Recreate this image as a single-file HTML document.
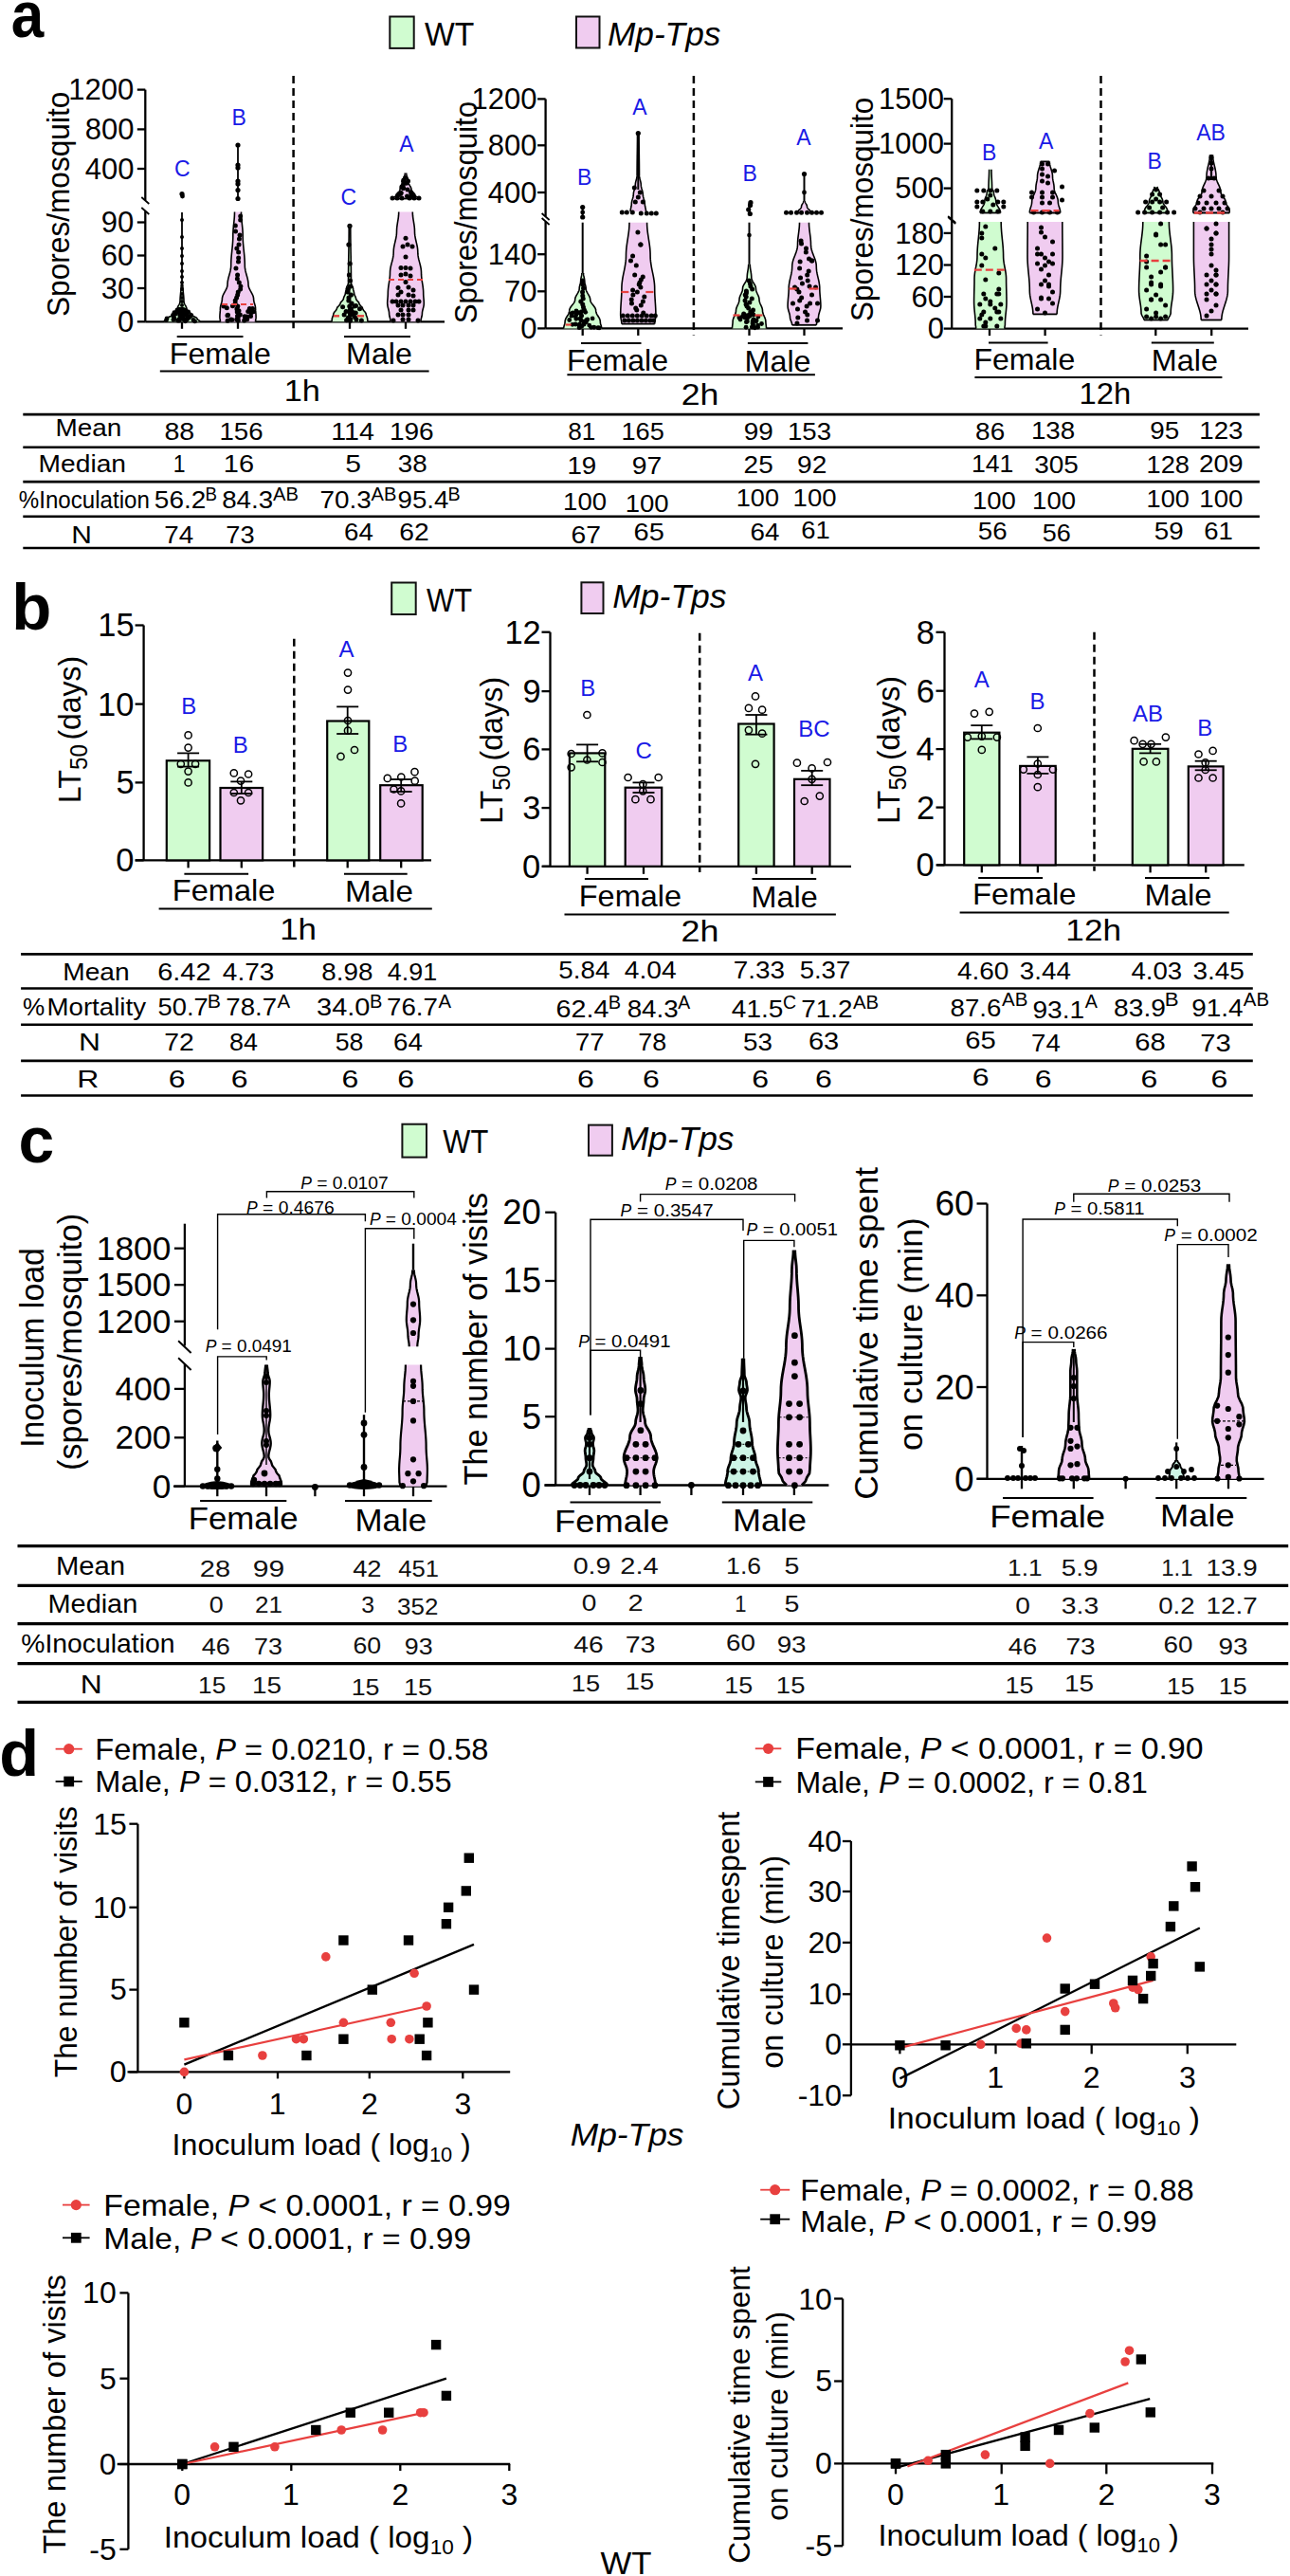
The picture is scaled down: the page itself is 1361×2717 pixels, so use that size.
<!DOCTYPE html>
<html><head><meta charset="utf-8"><style>
html,body{margin:0;padding:0;background:#fff;}
svg{display:block;}
text{font-family:"Liberation Sans", sans-serif;}
</style></head><body>
<svg width="1361" height="2717" viewBox="0 0 1361 2717" font-family='"Liberation Sans", sans-serif'>
<rect x="0" y="0" width="1361" height="2717" fill="#fff"/>
<text x="11.74" y="38.80" font-size="68.50" font-weight="bold" font-style="normal" fill="#000" textLength="34.51" lengthAdjust="spacingAndGlyphs">a</text>
<rect x="411.30" y="17.50" width="25.40" height="33.40" fill="#d0fcd0" stroke="#111" stroke-width="2"/>
<text x="448.03" y="47.70" font-size="35.50" font-weight="normal" font-style="normal" fill="#000" textLength="52.33" lengthAdjust="spacingAndGlyphs">WT</text>
<rect x="608.00" y="17.50" width="24.50" height="33.00" fill="#f0ccf0" stroke="#111" stroke-width="2"/>
<text x="640.94" y="47.70" font-size="35.50" font-weight="normal" font-style="italic" fill="#000" textLength="119.44" lengthAdjust="spacingAndGlyphs">Mp-Tps</text>
<text transform="translate(73.03,334.02) rotate(-90)" x="0" y="0" font-size="33.70" font-style="normal" fill="#000" textLength="237.36" lengthAdjust="spacingAndGlyphs">Spores/mosquito</text>
<line x1="153.30" y1="94.60" x2="153.30" y2="211.00" stroke="#000" stroke-width="2.3" />
<line x1="153.30" y1="223.00" x2="153.30" y2="339.30" stroke="#000" stroke-width="2.3" />
<line x1="149.30" y1="208.00" x2="157.30" y2="215.00" stroke="#000" stroke-width="1.8" />
<line x1="149.30" y1="219.00" x2="157.30" y2="226.00" stroke="#000" stroke-width="1.8" />
<line x1="144.80" y1="94.60" x2="153.30" y2="94.60" stroke="#000" stroke-width="2.3" />
<line x1="144.80" y1="136.40" x2="153.30" y2="136.40" stroke="#000" stroke-width="2.3" />
<line x1="144.80" y1="178.00" x2="153.30" y2="178.00" stroke="#000" stroke-width="2.3" />
<line x1="144.80" y1="234.50" x2="153.30" y2="234.50" stroke="#000" stroke-width="2.3" />
<line x1="144.80" y1="269.50" x2="153.30" y2="269.50" stroke="#000" stroke-width="2.3" />
<line x1="144.80" y1="304.00" x2="153.30" y2="304.00" stroke="#000" stroke-width="2.3" />
<line x1="144.80" y1="339.30" x2="153.30" y2="339.30" stroke="#000" stroke-width="2.3" />
<text x="72.31" y="105.29" font-size="31.00" fill="#000">1200</text>
<text x="89.67" y="147.09" font-size="31.00" fill="#000">800</text>
<text x="89.67" y="188.69" font-size="31.00" fill="#000">400</text>
<text x="106.87" y="245.19" font-size="31.00" fill="#000">90</text>
<text x="106.87" y="280.19" font-size="31.00" fill="#000">60</text>
<text x="106.87" y="314.69" font-size="31.00" fill="#000">30</text>
<text x="124.08" y="350.00" font-size="31.00" fill="#000">0</text>
<line x1="153.30" y1="339.30" x2="469.00" y2="339.30" stroke="#000" stroke-width="2.3" />
<line x1="192.00" y1="339.30" x2="192.00" y2="346.80" stroke="#000" stroke-width="2.3" />
<line x1="251.00" y1="339.30" x2="251.00" y2="346.80" stroke="#000" stroke-width="2.3" />
<line x1="369.00" y1="339.30" x2="369.00" y2="346.80" stroke="#000" stroke-width="2.3" />
<line x1="428.00" y1="339.30" x2="428.00" y2="346.80" stroke="#000" stroke-width="2.3" />
<line x1="309.60" y1="80.00" x2="309.60" y2="346.30" stroke="#000" stroke-width="2.5" stroke-dasharray="8,5"/>
<line x1="186.70" y1="355.10" x2="256.50" y2="355.10" stroke="#000" stroke-width="2" />
<line x1="363.00" y1="355.10" x2="433.00" y2="355.10" stroke="#000" stroke-width="2" />
<text x="178.83" y="383.70" font-size="31.40" font-weight="normal" font-style="normal" fill="#000" textLength="107.00" lengthAdjust="spacingAndGlyphs">Female</text>
<text x="365.13" y="384.20" font-size="31.40" font-weight="normal" font-style="normal" fill="#000" textLength="69.70" lengthAdjust="spacingAndGlyphs">Male</text>
<line x1="168.80" y1="391.60" x2="452.60" y2="391.60" stroke="#000" stroke-width="2" />
<text x="299.73" y="422.60" font-size="30.50" font-weight="normal" font-style="normal" fill="#000" textLength="38.19" lengthAdjust="spacingAndGlyphs">1h</text>
<text x="184.05" y="185.53" font-size="23.00" font-weight="normal" font-style="normal" fill="#1a1ae6">C</text>
<text x="244.41" y="132.23" font-size="23.00" font-weight="normal" font-style="normal" fill="#1a1ae6">B</text>
<text x="359.55" y="215.94" font-size="23.00" font-weight="normal" font-style="normal" fill="#1a1ae6">C</text>
<text x="421.15" y="159.53" font-size="23.00" font-weight="normal" font-style="normal" fill="#1a1ae6">A</text>
<line x1="192.00" y1="224.00" x2="192.00" y2="320.00" stroke="#000" stroke-width="1.8" />
<path d="M192.80,300.00 L192.80,300.65 L192.82,301.31 L192.83,301.96 L192.86,302.62 L192.90,303.27 L192.94,303.93 L192.98,304.58 L193.03,305.24 L193.09,305.89 L193.15,306.55 L193.22,307.20 L193.28,307.86 L193.35,308.51 L193.42,309.17 L193.49,309.82 L193.55,310.48 L193.62,311.13 L193.68,311.79 L193.74,312.44 L193.79,313.10 L193.84,313.75 L193.89,314.41 L193.92,315.06 L193.95,315.72 L193.98,316.38 L193.99,317.03 L194.00,317.69 L194.01,318.34 L194.11,319.00 L194.30,319.65 L194.57,320.31 L194.90,320.96 L195.27,321.62 L195.66,322.27 L196.03,322.93 L196.37,323.58 L196.65,324.24 L196.86,324.89 L196.98,325.55 L197.01,326.20 L197.25,326.86 L197.74,327.51 L198.44,328.17 L199.26,328.82 L200.12,329.48 L200.89,330.13 L201.51,330.79 L201.89,331.44 L202.01,332.10 L202.51,332.75 L203.65,333.41 L205.14,334.06 L206.60,334.72 L207.64,335.37 L208.00,336.02 L208.30,336.68 L209.06,337.34 L209.98,337.99 L210.72,338.64 L211.00,339.30 L173.00,339.30 L173.28,338.64 L174.02,337.99 L174.94,337.34 L175.70,336.68 L176.00,336.02 L176.36,335.37 L177.40,334.72 L178.86,334.06 L180.35,333.41 L181.49,332.75 L181.99,332.10 L182.11,331.44 L182.49,330.79 L183.11,330.13 L183.88,329.48 L184.74,328.82 L185.56,328.17 L186.26,327.51 L186.75,326.86 L186.99,326.20 L187.02,325.55 L187.14,324.89 L187.35,324.24 L187.63,323.58 L187.97,322.93 L188.34,322.27 L188.73,321.62 L189.10,320.96 L189.43,320.31 L189.70,319.65 L189.89,319.00 L189.99,318.34 L190.00,317.69 L190.01,317.03 L190.02,316.38 L190.05,315.72 L190.08,315.06 L190.11,314.41 L190.16,313.75 L190.21,313.10 L190.26,312.44 L190.32,311.79 L190.38,311.13 L190.45,310.48 L190.51,309.82 L190.58,309.17 L190.65,308.51 L190.72,307.86 L190.78,307.20 L190.85,306.55 L190.91,305.89 L190.97,305.24 L191.02,304.58 L191.06,303.93 L191.10,303.27 L191.14,302.62 L191.17,301.96 L191.18,301.31 L191.20,300.65 L191.20,300.00 Z" fill="#d0fcd0" stroke="none"/>
<path d="M192.80,300.00 L192.80,300.65 L192.82,301.31 L192.83,301.96 L192.86,302.62 L192.90,303.27 L192.94,303.93 L192.98,304.58 L193.03,305.24 L193.09,305.89 L193.15,306.55 L193.22,307.20 L193.28,307.86 L193.35,308.51 L193.42,309.17 L193.49,309.82 L193.55,310.48 L193.62,311.13 L193.68,311.79 L193.74,312.44 L193.79,313.10 L193.84,313.75 L193.89,314.41 L193.92,315.06 L193.95,315.72 L193.98,316.38 L193.99,317.03 L194.00,317.69 L194.01,318.34 L194.11,319.00 L194.30,319.65 L194.57,320.31 L194.90,320.96 L195.27,321.62 L195.66,322.27 L196.03,322.93 L196.37,323.58 L196.65,324.24 L196.86,324.89 L196.98,325.55 L197.01,326.20 L197.25,326.86 L197.74,327.51 L198.44,328.17 L199.26,328.82 L200.12,329.48 L200.89,330.13 L201.51,330.79 L201.89,331.44 L202.01,332.10 L202.51,332.75 L203.65,333.41 L205.14,334.06 L206.60,334.72 L207.64,335.37 L208.00,336.02 L208.30,336.68 L209.06,337.34 L209.98,337.99 L210.72,338.64 L211.00,339.30" fill="none" stroke="#000" stroke-width="1.6" stroke-linejoin="round"/>
<path d="M173.00,339.30 L173.28,338.64 L174.02,337.99 L174.94,337.34 L175.70,336.68 L176.00,336.02 L176.36,335.37 L177.40,334.72 L178.86,334.06 L180.35,333.41 L181.49,332.75 L181.99,332.10 L182.11,331.44 L182.49,330.79 L183.11,330.13 L183.88,329.48 L184.74,328.82 L185.56,328.17 L186.26,327.51 L186.75,326.86 L186.99,326.20 L187.02,325.55 L187.14,324.89 L187.35,324.24 L187.63,323.58 L187.97,322.93 L188.34,322.27 L188.73,321.62 L189.10,320.96 L189.43,320.31 L189.70,319.65 L189.89,319.00 L189.99,318.34 L190.00,317.69 L190.01,317.03 L190.02,316.38 L190.05,315.72 L190.08,315.06 L190.11,314.41 L190.16,313.75 L190.21,313.10 L190.26,312.44 L190.32,311.79 L190.38,311.13 L190.45,310.48 L190.51,309.82 L190.58,309.17 L190.65,308.51 L190.72,307.86 L190.78,307.20 L190.85,306.55 L190.91,305.89 L190.97,305.24 L191.02,304.58 L191.06,303.93 L191.10,303.27 L191.14,302.62 L191.17,301.96 L191.18,301.31 L191.20,300.65 L191.20,300.00" fill="none" stroke="#000" stroke-width="1.6" stroke-linejoin="round"/>
<circle cx="192.00" cy="232.00" r="2.00" fill="#000" stroke="none" stroke-width="0"/>
<circle cx="192.00" cy="250.00" r="2.00" fill="#000" stroke="none" stroke-width="0"/>
<circle cx="192.00" cy="262.00" r="2.00" fill="#000" stroke="none" stroke-width="0"/>
<circle cx="192.00" cy="270.00" r="2.00" fill="#000" stroke="none" stroke-width="0"/>
<circle cx="192.00" cy="278.00" r="2.00" fill="#000" stroke="none" stroke-width="0"/>
<circle cx="192.00" cy="286.00" r="2.00" fill="#000" stroke="none" stroke-width="0"/>
<circle cx="192.00" cy="292.00" r="2.00" fill="#000" stroke="none" stroke-width="0"/>
<circle cx="192.00" cy="298.00" r="2.00" fill="#000" stroke="none" stroke-width="0"/>
<circle cx="192.00" cy="305.00" r="2.00" fill="#000" stroke="none" stroke-width="0"/>
<circle cx="192.00" cy="310.00" r="2.00" fill="#000" stroke="none" stroke-width="0"/>
<circle cx="192.00" cy="314.00" r="2.00" fill="#000" stroke="none" stroke-width="0"/>
<circle cx="192.00" cy="318.00" r="2.00" fill="#000" stroke="none" stroke-width="0"/>
<circle cx="192.00" cy="322.00" r="2.00" fill="#000" stroke="none" stroke-width="0"/>
<circle cx="192.00" cy="326.00" r="2.00" fill="#000" stroke="none" stroke-width="0"/>
<circle cx="192.00" cy="330.00" r="2.00" fill="#000" stroke="none" stroke-width="0"/>
<circle cx="196.15" cy="327.75" r="2.40" fill="#000" stroke="none" stroke-width="0"/>
<circle cx="184.16" cy="335.93" r="2.40" fill="#000" stroke="none" stroke-width="0"/>
<circle cx="190.97" cy="332.44" r="2.40" fill="#000" stroke="none" stroke-width="0"/>
<circle cx="200.13" cy="334.47" r="2.40" fill="#000" stroke="none" stroke-width="0"/>
<circle cx="186.82" cy="327.22" r="2.40" fill="#000" stroke="none" stroke-width="0"/>
<circle cx="189.78" cy="336.86" r="2.40" fill="#000" stroke="none" stroke-width="0"/>
<circle cx="176.07" cy="335.91" r="2.40" fill="#000" stroke="none" stroke-width="0"/>
<circle cx="196.42" cy="331.79" r="2.40" fill="#000" stroke="none" stroke-width="0"/>
<circle cx="198.65" cy="328.97" r="2.40" fill="#000" stroke="none" stroke-width="0"/>
<circle cx="175.48" cy="337.72" r="2.40" fill="#000" stroke="none" stroke-width="0"/>
<circle cx="192.42" cy="326.33" r="2.40" fill="#000" stroke="none" stroke-width="0"/>
<circle cx="187.66" cy="338.21" r="2.40" fill="#000" stroke="none" stroke-width="0"/>
<circle cx="190.87" cy="328.82" r="2.40" fill="#000" stroke="none" stroke-width="0"/>
<circle cx="189.19" cy="326.38" r="2.40" fill="#000" stroke="none" stroke-width="0"/>
<circle cx="191.92" cy="331.69" r="2.40" fill="#000" stroke="none" stroke-width="0"/>
<circle cx="187.94" cy="329.03" r="2.40" fill="#000" stroke="none" stroke-width="0"/>
<circle cx="191.41" cy="328.84" r="2.40" fill="#000" stroke="none" stroke-width="0"/>
<circle cx="183.89" cy="329.77" r="2.40" fill="#000" stroke="none" stroke-width="0"/>
<circle cx="193.86" cy="336.89" r="2.40" fill="#000" stroke="none" stroke-width="0"/>
<circle cx="183.32" cy="334.35" r="2.40" fill="#000" stroke="none" stroke-width="0"/>
<circle cx="205.60" cy="338.90" r="2.40" fill="#000" stroke="none" stroke-width="0"/>
<circle cx="190.06" cy="327.57" r="2.40" fill="#000" stroke="none" stroke-width="0"/>
<circle cx="198.61" cy="335.38" r="2.40" fill="#000" stroke="none" stroke-width="0"/>
<circle cx="189.16" cy="338.17" r="2.40" fill="#000" stroke="none" stroke-width="0"/>
<circle cx="197.59" cy="336.79" r="2.40" fill="#000" stroke="none" stroke-width="0"/>
<circle cx="193.52" cy="329.94" r="2.40" fill="#000" stroke="none" stroke-width="0"/>
<circle cx="203.94" cy="337.47" r="2.40" fill="#000" stroke="none" stroke-width="0"/>
<circle cx="193.83" cy="332.57" r="2.40" fill="#000" stroke="none" stroke-width="0"/>
<circle cx="189.39" cy="326.45" r="2.40" fill="#000" stroke="none" stroke-width="0"/>
<circle cx="189.24" cy="336.37" r="2.40" fill="#000" stroke="none" stroke-width="0"/>
<circle cx="192.64" cy="328.25" r="2.40" fill="#000" stroke="none" stroke-width="0"/>
<circle cx="197.35" cy="335.14" r="2.40" fill="#000" stroke="none" stroke-width="0"/>
<circle cx="190.83" cy="330.87" r="2.40" fill="#000" stroke="none" stroke-width="0"/>
<circle cx="197.76" cy="332.61" r="2.40" fill="#000" stroke="none" stroke-width="0"/>
<circle cx="189.75" cy="332.77" r="2.40" fill="#000" stroke="none" stroke-width="0"/>
<circle cx="182.48" cy="332.37" r="2.40" fill="#000" stroke="none" stroke-width="0"/>
<circle cx="194.08" cy="326.57" r="2.40" fill="#000" stroke="none" stroke-width="0"/>
<circle cx="195.51" cy="338.78" r="2.40" fill="#000" stroke="none" stroke-width="0"/>
<circle cx="185.58" cy="331.12" r="2.40" fill="#000" stroke="none" stroke-width="0"/>
<circle cx="201.89" cy="332.53" r="2.40" fill="#000" stroke="none" stroke-width="0"/>
<circle cx="193.27" cy="336.02" r="2.40" fill="#000" stroke="none" stroke-width="0"/>
<circle cx="182.97" cy="337.18" r="2.40" fill="#000" stroke="none" stroke-width="0"/>
<circle cx="201.43" cy="332.68" r="2.40" fill="#000" stroke="none" stroke-width="0"/>
<circle cx="191.03" cy="333.51" r="2.40" fill="#000" stroke="none" stroke-width="0"/>
<circle cx="192.78" cy="329.50" r="2.40" fill="#000" stroke="none" stroke-width="0"/>
<circle cx="192.00" cy="204.50" r="2.60" fill="#000" stroke="none" stroke-width="0"/>
<circle cx="192.50" cy="207.00" r="2.40" fill="#000" stroke="none" stroke-width="0"/>
<line x1="251.00" y1="153.00" x2="251.00" y2="211.00" stroke="#000" stroke-width="1.8" />
<circle cx="251.00" cy="153.00" r="2.60" fill="#000" stroke="none" stroke-width="0"/>
<circle cx="251.00" cy="174.00" r="2.60" fill="#000" stroke="none" stroke-width="0"/>
<circle cx="251.00" cy="177.00" r="2.60" fill="#000" stroke="none" stroke-width="0"/>
<circle cx="251.00" cy="191.00" r="2.60" fill="#000" stroke="none" stroke-width="0"/>
<circle cx="251.00" cy="194.00" r="2.60" fill="#000" stroke="none" stroke-width="0"/>
<circle cx="251.00" cy="200.50" r="2.60" fill="#000" stroke="none" stroke-width="0"/>
<circle cx="251.00" cy="209.50" r="2.60" fill="#000" stroke="none" stroke-width="0"/>
<path d="M254.50,223.60 L254.53,225.53 L254.60,227.46 L254.72,229.39 L254.87,231.33 L255.06,233.26 L255.26,235.19 L255.46,237.12 L255.66,239.05 L255.85,240.98 L256.00,242.92 L256.11,244.85 L256.18,246.78 L256.20,248.71 L256.22,250.64 L256.29,252.57 L256.38,254.51 L256.51,256.44 L256.67,258.37 L256.85,260.30 L257.04,262.23 L257.24,264.17 L257.44,266.10 L257.64,268.03 L257.82,269.96 L257.97,271.89 L258.11,273.82 L258.21,275.75 L258.27,277.69 L258.30,279.62 L258.35,281.55 L258.56,283.48 L258.92,285.41 L259.38,287.35 L259.91,289.28 L260.47,291.21 L260.99,293.14 L261.44,295.07 L261.78,297.00 L261.96,298.94 L262.03,300.87 L262.40,302.80 L263.15,304.73 L264.17,306.66 L265.29,308.59 L266.33,310.52 L267.12,312.46 L267.55,314.39 L267.65,316.32 L267.99,318.25 L268.55,320.18 L269.12,322.12 L269.51,324.05 L269.60,325.98 L269.69,327.91 L269.84,329.84 L270.00,331.77 L270.09,333.70 L270.03,335.64 L269.70,337.57 L269.50,339.50 L232.50,339.50 L232.30,337.57 L231.97,335.64 L231.91,333.70 L232.00,331.77 L232.16,329.84 L232.31,327.91 L232.40,325.98 L232.49,324.05 L232.88,322.12 L233.45,320.18 L234.01,318.25 L234.35,316.32 L234.45,314.39 L234.88,312.46 L235.67,310.52 L236.71,308.59 L237.83,306.66 L238.85,304.73 L239.60,302.80 L239.97,300.87 L240.04,298.94 L240.22,297.00 L240.56,295.07 L241.01,293.14 L241.53,291.21 L242.09,289.28 L242.62,287.35 L243.08,285.41 L243.44,283.48 L243.65,281.55 L243.70,279.62 L243.73,277.69 L243.79,275.75 L243.89,273.82 L244.03,271.89 L244.18,269.96 L244.36,268.03 L244.56,266.10 L244.76,264.17 L244.96,262.23 L245.15,260.30 L245.33,258.37 L245.49,256.44 L245.62,254.51 L245.71,252.57 L245.78,250.64 L245.80,248.71 L245.82,246.78 L245.89,244.85 L246.00,242.92 L246.15,240.98 L246.34,239.05 L246.54,237.12 L246.74,235.19 L246.94,233.26 L247.13,231.33 L247.28,229.39 L247.40,227.46 L247.47,225.53 L247.50,223.60 Z" fill="#f0ccf0" stroke="none"/>
<path d="M254.50,223.60 L254.53,225.53 L254.60,227.46 L254.72,229.39 L254.87,231.33 L255.06,233.26 L255.26,235.19 L255.46,237.12 L255.66,239.05 L255.85,240.98 L256.00,242.92 L256.11,244.85 L256.18,246.78 L256.20,248.71 L256.22,250.64 L256.29,252.57 L256.38,254.51 L256.51,256.44 L256.67,258.37 L256.85,260.30 L257.04,262.23 L257.24,264.17 L257.44,266.10 L257.64,268.03 L257.82,269.96 L257.97,271.89 L258.11,273.82 L258.21,275.75 L258.27,277.69 L258.30,279.62 L258.35,281.55 L258.56,283.48 L258.92,285.41 L259.38,287.35 L259.91,289.28 L260.47,291.21 L260.99,293.14 L261.44,295.07 L261.78,297.00 L261.96,298.94 L262.03,300.87 L262.40,302.80 L263.15,304.73 L264.17,306.66 L265.29,308.59 L266.33,310.52 L267.12,312.46 L267.55,314.39 L267.65,316.32 L267.99,318.25 L268.55,320.18 L269.12,322.12 L269.51,324.05 L269.60,325.98 L269.69,327.91 L269.84,329.84 L270.00,331.77 L270.09,333.70 L270.03,335.64 L269.70,337.57 L269.50,339.50" fill="none" stroke="#000" stroke-width="1.6" stroke-linejoin="round"/>
<path d="M232.50,339.50 L232.30,337.57 L231.97,335.64 L231.91,333.70 L232.00,331.77 L232.16,329.84 L232.31,327.91 L232.40,325.98 L232.49,324.05 L232.88,322.12 L233.45,320.18 L234.01,318.25 L234.35,316.32 L234.45,314.39 L234.88,312.46 L235.67,310.52 L236.71,308.59 L237.83,306.66 L238.85,304.73 L239.60,302.80 L239.97,300.87 L240.04,298.94 L240.22,297.00 L240.56,295.07 L241.01,293.14 L241.53,291.21 L242.09,289.28 L242.62,287.35 L243.08,285.41 L243.44,283.48 L243.65,281.55 L243.70,279.62 L243.73,277.69 L243.79,275.75 L243.89,273.82 L244.03,271.89 L244.18,269.96 L244.36,268.03 L244.56,266.10 L244.76,264.17 L244.96,262.23 L245.15,260.30 L245.33,258.37 L245.49,256.44 L245.62,254.51 L245.71,252.57 L245.78,250.64 L245.80,248.71 L245.82,246.78 L245.89,244.85 L246.00,242.92 L246.15,240.98 L246.34,239.05 L246.54,237.12 L246.74,235.19 L246.94,233.26 L247.13,231.33 L247.28,229.39 L247.40,227.46 L247.47,225.53 L247.50,223.60" fill="none" stroke="#000" stroke-width="1.6" stroke-linejoin="round"/>
<circle cx="253.74" cy="228.00" r="2.50" fill="#000" stroke="none" stroke-width="0"/>
<circle cx="253.69" cy="232.00" r="2.50" fill="#000" stroke="none" stroke-width="0"/>
<circle cx="248.34" cy="238.00" r="2.50" fill="#000" stroke="none" stroke-width="0"/>
<circle cx="248.51" cy="244.00" r="2.50" fill="#000" stroke="none" stroke-width="0"/>
<circle cx="253.01" cy="248.00" r="2.50" fill="#000" stroke="none" stroke-width="0"/>
<circle cx="252.42" cy="252.00" r="2.50" fill="#000" stroke="none" stroke-width="0"/>
<circle cx="252.02" cy="258.00" r="2.50" fill="#000" stroke="none" stroke-width="0"/>
<circle cx="249.85" cy="262.00" r="2.50" fill="#000" stroke="none" stroke-width="0"/>
<circle cx="251.64" cy="266.00" r="2.50" fill="#000" stroke="none" stroke-width="0"/>
<circle cx="251.64" cy="272.00" r="2.50" fill="#000" stroke="none" stroke-width="0"/>
<circle cx="251.49" cy="276.00" r="2.50" fill="#000" stroke="none" stroke-width="0"/>
<circle cx="248.95" cy="283.00" r="2.50" fill="#000" stroke="none" stroke-width="0"/>
<circle cx="250.58" cy="290.00" r="2.50" fill="#000" stroke="none" stroke-width="0"/>
<circle cx="250.36" cy="294.00" r="2.50" fill="#000" stroke="none" stroke-width="0"/>
<circle cx="252.34" cy="298.00" r="2.50" fill="#000" stroke="none" stroke-width="0"/>
<circle cx="253.97" cy="302.00" r="2.50" fill="#000" stroke="none" stroke-width="0"/>
<circle cx="253.70" cy="305.00" r="2.50" fill="#000" stroke="none" stroke-width="0"/>
<circle cx="251.27" cy="308.00" r="2.50" fill="#000" stroke="none" stroke-width="0"/>
<circle cx="250.67" cy="311.00" r="2.50" fill="#000" stroke="none" stroke-width="0"/>
<circle cx="249.61" cy="314.00" r="2.50" fill="#000" stroke="none" stroke-width="0"/>
<circle cx="248.22" cy="317.00" r="2.50" fill="#000" stroke="none" stroke-width="0"/>
<circle cx="248.16" cy="320.00" r="2.50" fill="#000" stroke="none" stroke-width="0"/>
<circle cx="250.79" cy="323.00" r="2.50" fill="#000" stroke="none" stroke-width="0"/>
<circle cx="249.91" cy="326.00" r="2.50" fill="#000" stroke="none" stroke-width="0"/>
<circle cx="250.28" cy="329.00" r="2.50" fill="#000" stroke="none" stroke-width="0"/>
<circle cx="253.35" cy="332.00" r="2.50" fill="#000" stroke="none" stroke-width="0"/>
<circle cx="251.15" cy="335.00" r="2.50" fill="#000" stroke="none" stroke-width="0"/>
<circle cx="251.36" cy="338.00" r="2.50" fill="#000" stroke="none" stroke-width="0"/>
<circle cx="235.93" cy="322.96" r="2.50" fill="#000" stroke="none" stroke-width="0"/>
<circle cx="239.31" cy="324.83" r="2.50" fill="#000" stroke="none" stroke-width="0"/>
<circle cx="267.20" cy="328.71" r="2.50" fill="#000" stroke="none" stroke-width="0"/>
<circle cx="240.49" cy="332.16" r="2.50" fill="#000" stroke="none" stroke-width="0"/>
<circle cx="260.70" cy="336.77" r="2.50" fill="#000" stroke="none" stroke-width="0"/>
<circle cx="264.49" cy="333.42" r="2.50" fill="#000" stroke="none" stroke-width="0"/>
<circle cx="260.62" cy="334.02" r="2.50" fill="#000" stroke="none" stroke-width="0"/>
<circle cx="266.49" cy="325.43" r="2.50" fill="#000" stroke="none" stroke-width="0"/>
<circle cx="240.09" cy="338.20" r="2.50" fill="#000" stroke="none" stroke-width="0"/>
<circle cx="258.14" cy="333.83" r="2.50" fill="#000" stroke="none" stroke-width="0"/>
<circle cx="251.98" cy="327.69" r="2.50" fill="#000" stroke="none" stroke-width="0"/>
<circle cx="264.78" cy="328.29" r="2.50" fill="#000" stroke="none" stroke-width="0"/>
<circle cx="261.76" cy="328.52" r="2.50" fill="#000" stroke="none" stroke-width="0"/>
<circle cx="263.33" cy="325.43" r="2.50" fill="#000" stroke="none" stroke-width="0"/>
<circle cx="249.73" cy="336.89" r="2.50" fill="#000" stroke="none" stroke-width="0"/>
<circle cx="264.74" cy="329.92" r="2.50" fill="#000" stroke="none" stroke-width="0"/>
<circle cx="250.56" cy="333.20" r="2.50" fill="#000" stroke="none" stroke-width="0"/>
<circle cx="245.47" cy="322.66" r="2.50" fill="#000" stroke="none" stroke-width="0"/>
<circle cx="239.95" cy="332.69" r="2.50" fill="#000" stroke="none" stroke-width="0"/>
<circle cx="243.45" cy="337.07" r="2.50" fill="#000" stroke="none" stroke-width="0"/>
<circle cx="244.80" cy="337.14" r="2.50" fill="#000" stroke="none" stroke-width="0"/>
<circle cx="257.64" cy="338.10" r="2.50" fill="#000" stroke="none" stroke-width="0"/>
<line x1="234.00" y1="321.10" x2="267.00" y2="321.10" stroke="#e8403f" stroke-width="2" stroke-dasharray="6,4"/>
<line x1="369.00" y1="238.30" x2="369.00" y2="300.00" stroke="#000" stroke-width="2.0" />
<circle cx="369.00" cy="238.30" r="2.60" fill="#000" stroke="none" stroke-width="0"/>
<path d="M369.80,238.30 L369.80,239.98 L369.81,241.67 L369.81,243.35 L369.82,245.03 L369.83,246.72 L369.85,248.40 L369.86,250.08 L369.88,251.77 L369.90,253.45 L369.93,255.13 L369.95,256.82 L369.98,258.50 L370.00,260.18 L370.03,261.87 L370.06,263.55 L370.09,265.23 L370.12,266.92 L370.15,268.60 L370.18,270.28 L370.21,271.97 L370.24,273.65 L370.27,275.33 L370.30,277.02 L370.33,278.70 L370.35,280.38 L370.38,282.07 L370.40,283.75 L370.42,285.43 L370.44,287.12 L370.46,288.80 L370.47,290.48 L370.48,292.17 L370.49,293.85 L370.50,295.53 L370.50,297.22 L370.53,298.90 L371.13,300.58 L372.05,302.27 L372.50,303.95 L372.73,305.63 L373.24,307.32 L373.59,309.00 L373.85,310.68 L374.70,312.37 L375.41,314.05 L375.75,315.73 L377.17,317.42 L378.65,319.10 L379.10,320.78 L380.38,322.47 L382.10,324.15 L382.81,325.83 L383.67,327.52 L385.25,329.20 L386.10,330.88 L386.40,332.57 L387.13,334.25 L387.66,335.93 L387.80,337.62 L388.00,339.30 L350.00,339.30 L350.20,337.62 L350.34,335.93 L350.87,334.25 L351.60,332.57 L351.90,330.88 L352.75,329.20 L354.33,327.52 L355.19,325.83 L355.90,324.15 L357.62,322.47 L358.90,320.78 L359.35,319.10 L360.83,317.42 L362.25,315.73 L362.59,314.05 L363.30,312.37 L364.15,310.68 L364.41,309.00 L364.76,307.32 L365.27,305.63 L365.50,303.95 L365.95,302.27 L366.87,300.58 L367.47,298.90 L367.50,297.22 L367.50,295.53 L367.51,293.85 L367.52,292.17 L367.53,290.48 L367.54,288.80 L367.56,287.12 L367.58,285.43 L367.60,283.75 L367.62,282.07 L367.65,280.38 L367.67,278.70 L367.70,277.02 L367.73,275.33 L367.76,273.65 L367.79,271.97 L367.82,270.28 L367.85,268.60 L367.88,266.92 L367.91,265.23 L367.94,263.55 L367.97,261.87 L368.00,260.18 L368.02,258.50 L368.05,256.82 L368.07,255.13 L368.10,253.45 L368.12,251.77 L368.14,250.08 L368.15,248.40 L368.17,246.72 L368.18,245.03 L368.19,243.35 L368.19,241.67 L368.20,239.98 L368.20,238.30 Z" fill="#d0fcd0" stroke="none"/>
<path d="M369.80,238.30 L369.80,239.98 L369.81,241.67 L369.81,243.35 L369.82,245.03 L369.83,246.72 L369.85,248.40 L369.86,250.08 L369.88,251.77 L369.90,253.45 L369.93,255.13 L369.95,256.82 L369.98,258.50 L370.00,260.18 L370.03,261.87 L370.06,263.55 L370.09,265.23 L370.12,266.92 L370.15,268.60 L370.18,270.28 L370.21,271.97 L370.24,273.65 L370.27,275.33 L370.30,277.02 L370.33,278.70 L370.35,280.38 L370.38,282.07 L370.40,283.75 L370.42,285.43 L370.44,287.12 L370.46,288.80 L370.47,290.48 L370.48,292.17 L370.49,293.85 L370.50,295.53 L370.50,297.22 L370.53,298.90 L371.13,300.58 L372.05,302.27 L372.50,303.95 L372.73,305.63 L373.24,307.32 L373.59,309.00 L373.85,310.68 L374.70,312.37 L375.41,314.05 L375.75,315.73 L377.17,317.42 L378.65,319.10 L379.10,320.78 L380.38,322.47 L382.10,324.15 L382.81,325.83 L383.67,327.52 L385.25,329.20 L386.10,330.88 L386.40,332.57 L387.13,334.25 L387.66,335.93 L387.80,337.62 L388.00,339.30" fill="none" stroke="#000" stroke-width="1.6" stroke-linejoin="round"/>
<path d="M350.00,339.30 L350.20,337.62 L350.34,335.93 L350.87,334.25 L351.60,332.57 L351.90,330.88 L352.75,329.20 L354.33,327.52 L355.19,325.83 L355.90,324.15 L357.62,322.47 L358.90,320.78 L359.35,319.10 L360.83,317.42 L362.25,315.73 L362.59,314.05 L363.30,312.37 L364.15,310.68 L364.41,309.00 L364.76,307.32 L365.27,305.63 L365.50,303.95 L365.95,302.27 L366.87,300.58 L367.47,298.90 L367.50,297.22 L367.50,295.53 L367.51,293.85 L367.52,292.17 L367.53,290.48 L367.54,288.80 L367.56,287.12 L367.58,285.43 L367.60,283.75 L367.62,282.07 L367.65,280.38 L367.67,278.70 L367.70,277.02 L367.73,275.33 L367.76,273.65 L367.79,271.97 L367.82,270.28 L367.85,268.60 L367.88,266.92 L367.91,265.23 L367.94,263.55 L367.97,261.87 L368.00,260.18 L368.02,258.50 L368.05,256.82 L368.07,255.13 L368.10,253.45 L368.12,251.77 L368.14,250.08 L368.15,248.40 L368.17,246.72 L368.18,245.03 L368.19,243.35 L368.19,241.67 L368.20,239.98 L368.20,238.30" fill="none" stroke="#000" stroke-width="1.6" stroke-linejoin="round"/>
<circle cx="367.95" cy="258.00" r="2.60" fill="#000" stroke="none" stroke-width="0"/>
<circle cx="369.18" cy="278.00" r="2.60" fill="#000" stroke="none" stroke-width="0"/>
<circle cx="368.48" cy="290.00" r="2.60" fill="#000" stroke="none" stroke-width="0"/>
<circle cx="369.42" cy="296.00" r="2.60" fill="#000" stroke="none" stroke-width="0"/>
<circle cx="369.50" cy="302.00" r="2.60" fill="#000" stroke="none" stroke-width="0"/>
<circle cx="367.26" cy="305.00" r="2.60" fill="#000" stroke="none" stroke-width="0"/>
<circle cx="367.05" cy="308.00" r="2.60" fill="#000" stroke="none" stroke-width="0"/>
<circle cx="370.35" cy="311.00" r="2.60" fill="#000" stroke="none" stroke-width="0"/>
<circle cx="368.04" cy="314.00" r="2.60" fill="#000" stroke="none" stroke-width="0"/>
<circle cx="367.94" cy="317.00" r="2.60" fill="#000" stroke="none" stroke-width="0"/>
<circle cx="370.98" cy="320.00" r="2.60" fill="#000" stroke="none" stroke-width="0"/>
<circle cx="368.88" cy="323.00" r="2.60" fill="#000" stroke="none" stroke-width="0"/>
<circle cx="370.35" cy="326.00" r="2.60" fill="#000" stroke="none" stroke-width="0"/>
<circle cx="368.91" cy="329.00" r="2.60" fill="#000" stroke="none" stroke-width="0"/>
<circle cx="369.56" cy="332.00" r="2.60" fill="#000" stroke="none" stroke-width="0"/>
<circle cx="367.60" cy="335.00" r="2.60" fill="#000" stroke="none" stroke-width="0"/>
<circle cx="369.54" cy="338.00" r="2.60" fill="#000" stroke="none" stroke-width="0"/>
<circle cx="369.75" cy="336.76" r="2.50" fill="#000" stroke="none" stroke-width="0"/>
<circle cx="374.41" cy="334.60" r="2.50" fill="#000" stroke="none" stroke-width="0"/>
<circle cx="373.93" cy="323.09" r="2.50" fill="#000" stroke="none" stroke-width="0"/>
<circle cx="363.14" cy="332.05" r="2.50" fill="#000" stroke="none" stroke-width="0"/>
<circle cx="375.54" cy="322.53" r="2.50" fill="#000" stroke="none" stroke-width="0"/>
<circle cx="375.28" cy="330.04" r="2.50" fill="#000" stroke="none" stroke-width="0"/>
<circle cx="375.95" cy="336.94" r="2.50" fill="#000" stroke="none" stroke-width="0"/>
<circle cx="365.57" cy="337.66" r="2.50" fill="#000" stroke="none" stroke-width="0"/>
<circle cx="367.22" cy="335.62" r="2.50" fill="#000" stroke="none" stroke-width="0"/>
<circle cx="381.39" cy="337.90" r="2.50" fill="#000" stroke="none" stroke-width="0"/>
<circle cx="361.61" cy="323.66" r="2.50" fill="#000" stroke="none" stroke-width="0"/>
<circle cx="379.52" cy="325.69" r="2.50" fill="#000" stroke="none" stroke-width="0"/>
<circle cx="372.53" cy="329.41" r="2.50" fill="#000" stroke="none" stroke-width="0"/>
<circle cx="369.17" cy="327.12" r="2.50" fill="#000" stroke="none" stroke-width="0"/>
<circle cx="365.08" cy="328.56" r="2.50" fill="#000" stroke="none" stroke-width="0"/>
<circle cx="371.48" cy="331.95" r="2.50" fill="#000" stroke="none" stroke-width="0"/>
<line x1="352.00" y1="333.30" x2="358.00" y2="333.30" stroke="#e8403f" stroke-width="2.4" />
<line x1="377.00" y1="333.30" x2="384.00" y2="333.30" stroke="#e8403f" stroke-width="2.4" stroke-dasharray="8,4"/>
<path d="M428.80,182.60 L428.81,183.05 L428.85,183.50 L428.91,183.95 L428.99,184.40 L429.10,184.85 L429.22,185.30 L429.36,185.75 L429.50,186.20 L429.66,186.65 L429.83,187.10 L429.99,187.55 L430.16,188.00 L430.31,188.45 L430.46,188.90 L430.60,189.35 L430.72,189.80 L430.82,190.25 L430.90,190.70 L430.96,191.15 L430.99,191.60 L431.00,192.05 L431.03,192.50 L431.10,192.95 L431.22,193.40 L431.38,193.85 L431.57,194.30 L431.79,194.75 L432.04,195.20 L432.29,195.65 L432.56,196.10 L432.82,196.55 L433.07,197.00 L433.31,197.45 L433.52,197.90 L433.70,198.35 L433.84,198.80 L433.94,199.25 L433.99,199.70 L434.01,200.15 L434.10,200.60 L434.29,201.05 L434.59,201.50 L434.96,201.95 L435.38,202.40 L435.84,202.85 L436.31,203.30 L436.77,203.75 L437.18,204.20 L437.52,204.65 L437.78,205.10 L437.94,205.55 L438.00,206.00 L438.18,206.45 L438.67,206.90 L439.42,207.35 L440.30,207.80 L441.18,208.25 L441.93,208.70 L442.42,209.15 L442.60,209.60 L413.40,209.60 L413.58,209.15 L414.07,208.70 L414.82,208.25 L415.70,207.80 L416.58,207.35 L417.33,206.90 L417.82,206.45 L418.00,206.00 L418.06,205.55 L418.22,205.10 L418.48,204.65 L418.82,204.20 L419.23,203.75 L419.69,203.30 L420.16,202.85 L420.62,202.40 L421.04,201.95 L421.41,201.50 L421.71,201.05 L421.90,200.60 L421.99,200.15 L422.01,199.70 L422.06,199.25 L422.16,198.80 L422.30,198.35 L422.48,197.90 L422.69,197.45 L422.93,197.00 L423.18,196.55 L423.44,196.10 L423.71,195.65 L423.96,195.20 L424.21,194.75 L424.43,194.30 L424.62,193.85 L424.78,193.40 L424.90,192.95 L424.97,192.50 L425.00,192.05 L425.01,191.60 L425.04,191.15 L425.10,190.70 L425.18,190.25 L425.28,189.80 L425.40,189.35 L425.54,188.90 L425.69,188.45 L425.84,188.00 L426.01,187.55 L426.17,187.10 L426.34,186.65 L426.50,186.20 L426.64,185.75 L426.78,185.30 L426.90,184.85 L427.01,184.40 L427.09,183.95 L427.15,183.50 L427.19,183.05 L427.20,182.60 Z" fill="#f0ccf0" stroke="none"/>
<path d="M428.80,182.60 L428.81,183.05 L428.85,183.50 L428.91,183.95 L428.99,184.40 L429.10,184.85 L429.22,185.30 L429.36,185.75 L429.50,186.20 L429.66,186.65 L429.83,187.10 L429.99,187.55 L430.16,188.00 L430.31,188.45 L430.46,188.90 L430.60,189.35 L430.72,189.80 L430.82,190.25 L430.90,190.70 L430.96,191.15 L430.99,191.60 L431.00,192.05 L431.03,192.50 L431.10,192.95 L431.22,193.40 L431.38,193.85 L431.57,194.30 L431.79,194.75 L432.04,195.20 L432.29,195.65 L432.56,196.10 L432.82,196.55 L433.07,197.00 L433.31,197.45 L433.52,197.90 L433.70,198.35 L433.84,198.80 L433.94,199.25 L433.99,199.70 L434.01,200.15 L434.10,200.60 L434.29,201.05 L434.59,201.50 L434.96,201.95 L435.38,202.40 L435.84,202.85 L436.31,203.30 L436.77,203.75 L437.18,204.20 L437.52,204.65 L437.78,205.10 L437.94,205.55 L438.00,206.00 L438.18,206.45 L438.67,206.90 L439.42,207.35 L440.30,207.80 L441.18,208.25 L441.93,208.70 L442.42,209.15 L442.60,209.60" fill="none" stroke="#000" stroke-width="1.6" stroke-linejoin="round"/>
<path d="M413.40,209.60 L413.58,209.15 L414.07,208.70 L414.82,208.25 L415.70,207.80 L416.58,207.35 L417.33,206.90 L417.82,206.45 L418.00,206.00 L418.06,205.55 L418.22,205.10 L418.48,204.65 L418.82,204.20 L419.23,203.75 L419.69,203.30 L420.16,202.85 L420.62,202.40 L421.04,201.95 L421.41,201.50 L421.71,201.05 L421.90,200.60 L421.99,200.15 L422.01,199.70 L422.06,199.25 L422.16,198.80 L422.30,198.35 L422.48,197.90 L422.69,197.45 L422.93,197.00 L423.18,196.55 L423.44,196.10 L423.71,195.65 L423.96,195.20 L424.21,194.75 L424.43,194.30 L424.62,193.85 L424.78,193.40 L424.90,192.95 L424.97,192.50 L425.00,192.05 L425.01,191.60 L425.04,191.15 L425.10,190.70 L425.18,190.25 L425.28,189.80 L425.40,189.35 L425.54,188.90 L425.69,188.45 L425.84,188.00 L426.01,187.55 L426.17,187.10 L426.34,186.65 L426.50,186.20 L426.64,185.75 L426.78,185.30 L426.90,184.85 L427.01,184.40 L427.09,183.95 L427.15,183.50 L427.19,183.05 L427.20,182.60" fill="none" stroke="#000" stroke-width="1.6" stroke-linejoin="round"/>
<line x1="413.40" y1="209.60" x2="442.60" y2="209.60" stroke="#000" stroke-width="1.6" />
<circle cx="425.63" cy="191.43" r="2.50" fill="#000" stroke="none" stroke-width="0"/>
<circle cx="425.25" cy="195.11" r="2.50" fill="#000" stroke="none" stroke-width="0"/>
<circle cx="427.61" cy="187.53" r="2.50" fill="#000" stroke="none" stroke-width="0"/>
<circle cx="434.61" cy="207.11" r="2.50" fill="#000" stroke="none" stroke-width="0"/>
<circle cx="423.21" cy="203.60" r="2.50" fill="#000" stroke="none" stroke-width="0"/>
<circle cx="425.46" cy="198.34" r="2.50" fill="#000" stroke="none" stroke-width="0"/>
<circle cx="425.83" cy="189.97" r="2.50" fill="#000" stroke="none" stroke-width="0"/>
<circle cx="430.51" cy="190.93" r="2.50" fill="#000" stroke="none" stroke-width="0"/>
<circle cx="433.99" cy="205.07" r="2.50" fill="#000" stroke="none" stroke-width="0"/>
<circle cx="422.27" cy="204.41" r="2.50" fill="#000" stroke="none" stroke-width="0"/>
<circle cx="428.80" cy="193.13" r="2.50" fill="#000" stroke="none" stroke-width="0"/>
<circle cx="433.55" cy="202.83" r="2.50" fill="#000" stroke="none" stroke-width="0"/>
<circle cx="419.69" cy="206.24" r="2.50" fill="#000" stroke="none" stroke-width="0"/>
<circle cx="430.06" cy="199.93" r="2.50" fill="#000" stroke="none" stroke-width="0"/>
<circle cx="424.52" cy="197.64" r="2.50" fill="#000" stroke="none" stroke-width="0"/>
<circle cx="423.88" cy="196.89" r="2.50" fill="#000" stroke="none" stroke-width="0"/>
<circle cx="436.55" cy="207.50" r="2.50" fill="#000" stroke="none" stroke-width="0"/>
<circle cx="425.69" cy="198.60" r="2.50" fill="#000" stroke="none" stroke-width="0"/>
<circle cx="429.55" cy="206.90" r="2.50" fill="#000" stroke="none" stroke-width="0"/>
<circle cx="435.01" cy="206.29" r="2.50" fill="#000" stroke="none" stroke-width="0"/>
<circle cx="414.00" cy="209.00" r="2.50" fill="#000" stroke="none" stroke-width="0"/>
<circle cx="419.00" cy="209.00" r="2.50" fill="#000" stroke="none" stroke-width="0"/>
<circle cx="424.00" cy="209.00" r="2.50" fill="#000" stroke="none" stroke-width="0"/>
<circle cx="432.00" cy="209.00" r="2.50" fill="#000" stroke="none" stroke-width="0"/>
<circle cx="437.00" cy="209.00" r="2.50" fill="#000" stroke="none" stroke-width="0"/>
<circle cx="442.00" cy="209.00" r="2.50" fill="#000" stroke="none" stroke-width="0"/>
<path d="M435.30,223.60 L435.35,225.53 L435.48,227.46 L435.70,229.38 L435.97,231.31 L436.28,233.24 L436.60,235.17 L436.91,237.10 L437.17,239.03 L437.36,240.95 L437.47,242.88 L437.50,244.81 L437.60,246.74 L437.82,248.67 L438.14,250.60 L438.54,252.53 L438.98,254.45 L439.44,256.38 L439.88,258.31 L440.26,260.24 L440.55,262.17 L440.74,264.10 L440.80,266.02 L440.87,267.95 L441.08,269.88 L441.42,271.81 L441.84,273.74 L442.33,275.67 L442.85,277.59 L443.35,279.52 L443.79,281.45 L444.15,283.38 L444.39,285.31 L444.50,287.24 L444.52,289.16 L444.63,291.09 L444.81,293.02 L445.05,294.95 L445.34,296.88 L445.64,298.81 L445.94,300.73 L446.22,302.66 L446.44,304.59 L446.61,306.52 L446.69,308.45 L446.71,310.38 L446.80,312.30 L446.95,314.23 L447.12,316.16 L447.25,318.09 L447.30,320.02 L447.18,321.94 L446.81,323.87 L446.29,325.80 L445.80,327.73 L445.47,329.66 L445.38,331.59 L445.06,333.51 L444.53,335.44 L444.10,337.37 L444.00,339.30 L412.00,339.30 L411.90,337.37 L411.47,335.44 L410.94,333.51 L410.62,331.59 L410.53,329.66 L410.20,327.73 L409.71,325.80 L409.19,323.87 L408.82,321.94 L408.70,320.02 L408.75,318.09 L408.88,316.16 L409.05,314.23 L409.20,312.30 L409.29,310.38 L409.31,308.45 L409.39,306.52 L409.56,304.59 L409.78,302.66 L410.06,300.73 L410.36,298.81 L410.66,296.88 L410.95,294.95 L411.19,293.02 L411.37,291.09 L411.48,289.16 L411.50,287.24 L411.61,285.31 L411.85,283.38 L412.21,281.45 L412.65,279.52 L413.15,277.59 L413.67,275.67 L414.16,273.74 L414.58,271.81 L414.92,269.88 L415.13,267.95 L415.20,266.02 L415.26,264.10 L415.45,262.17 L415.74,260.24 L416.12,258.31 L416.56,256.38 L417.02,254.45 L417.46,252.53 L417.86,250.60 L418.18,248.67 L418.40,246.74 L418.50,244.81 L418.53,242.88 L418.64,240.95 L418.83,239.03 L419.09,237.10 L419.40,235.17 L419.72,233.24 L420.03,231.31 L420.30,229.38 L420.52,227.46 L420.65,225.53 L420.70,223.60 Z" fill="#f0ccf0" stroke="none"/>
<path d="M435.30,223.60 L435.35,225.53 L435.48,227.46 L435.70,229.38 L435.97,231.31 L436.28,233.24 L436.60,235.17 L436.91,237.10 L437.17,239.03 L437.36,240.95 L437.47,242.88 L437.50,244.81 L437.60,246.74 L437.82,248.67 L438.14,250.60 L438.54,252.53 L438.98,254.45 L439.44,256.38 L439.88,258.31 L440.26,260.24 L440.55,262.17 L440.74,264.10 L440.80,266.02 L440.87,267.95 L441.08,269.88 L441.42,271.81 L441.84,273.74 L442.33,275.67 L442.85,277.59 L443.35,279.52 L443.79,281.45 L444.15,283.38 L444.39,285.31 L444.50,287.24 L444.52,289.16 L444.63,291.09 L444.81,293.02 L445.05,294.95 L445.34,296.88 L445.64,298.81 L445.94,300.73 L446.22,302.66 L446.44,304.59 L446.61,306.52 L446.69,308.45 L446.71,310.38 L446.80,312.30 L446.95,314.23 L447.12,316.16 L447.25,318.09 L447.30,320.02 L447.18,321.94 L446.81,323.87 L446.29,325.80 L445.80,327.73 L445.47,329.66 L445.38,331.59 L445.06,333.51 L444.53,335.44 L444.10,337.37 L444.00,339.30" fill="none" stroke="#000" stroke-width="1.6" stroke-linejoin="round"/>
<path d="M412.00,339.30 L411.90,337.37 L411.47,335.44 L410.94,333.51 L410.62,331.59 L410.53,329.66 L410.20,327.73 L409.71,325.80 L409.19,323.87 L408.82,321.94 L408.70,320.02 L408.75,318.09 L408.88,316.16 L409.05,314.23 L409.20,312.30 L409.29,310.38 L409.31,308.45 L409.39,306.52 L409.56,304.59 L409.78,302.66 L410.06,300.73 L410.36,298.81 L410.66,296.88 L410.95,294.95 L411.19,293.02 L411.37,291.09 L411.48,289.16 L411.50,287.24 L411.61,285.31 L411.85,283.38 L412.21,281.45 L412.65,279.52 L413.15,277.59 L413.67,275.67 L414.16,273.74 L414.58,271.81 L414.92,269.88 L415.13,267.95 L415.20,266.02 L415.26,264.10 L415.45,262.17 L415.74,260.24 L416.12,258.31 L416.56,256.38 L417.02,254.45 L417.46,252.53 L417.86,250.60 L418.18,248.67 L418.40,246.74 L418.50,244.81 L418.53,242.88 L418.64,240.95 L418.83,239.03 L419.09,237.10 L419.40,235.17 L419.72,233.24 L420.03,231.31 L420.30,229.38 L420.52,227.46 L420.65,225.53 L420.70,223.60" fill="none" stroke="#000" stroke-width="1.6" stroke-linejoin="round"/>
<circle cx="428.00" cy="251.30" r="2.50" fill="#000" stroke="none" stroke-width="0"/>
<circle cx="425.00" cy="260.00" r="2.50" fill="#000" stroke="none" stroke-width="0"/>
<circle cx="430.00" cy="258.00" r="2.50" fill="#000" stroke="none" stroke-width="0"/>
<circle cx="435.00" cy="260.00" r="2.50" fill="#000" stroke="none" stroke-width="0"/>
<circle cx="428.00" cy="270.90" r="2.50" fill="#000" stroke="none" stroke-width="0"/>
<circle cx="423.00" cy="282.50" r="2.50" fill="#000" stroke="none" stroke-width="0"/>
<circle cx="428.00" cy="282.50" r="2.50" fill="#000" stroke="none" stroke-width="0"/>
<circle cx="433.00" cy="283.00" r="2.50" fill="#000" stroke="none" stroke-width="0"/>
<circle cx="423.00" cy="290.00" r="2.50" fill="#000" stroke="none" stroke-width="0"/>
<circle cx="428.00" cy="289.00" r="2.50" fill="#000" stroke="none" stroke-width="0"/>
<circle cx="433.00" cy="291.00" r="2.50" fill="#000" stroke="none" stroke-width="0"/>
<circle cx="428.00" cy="297.40" r="2.50" fill="#000" stroke="none" stroke-width="0"/>
<circle cx="420.00" cy="303.40" r="2.50" fill="#000" stroke="none" stroke-width="0"/>
<circle cx="431.00" cy="303.00" r="2.50" fill="#000" stroke="none" stroke-width="0"/>
<circle cx="423.00" cy="308.00" r="2.50" fill="#000" stroke="none" stroke-width="0"/>
<circle cx="436.00" cy="306.00" r="2.50" fill="#000" stroke="none" stroke-width="0"/>
<circle cx="420.00" cy="311.00" r="2.50" fill="#000" stroke="none" stroke-width="0"/>
<circle cx="431.00" cy="311.00" r="2.50" fill="#000" stroke="none" stroke-width="0"/>
<circle cx="436.00" cy="312.00" r="2.50" fill="#000" stroke="none" stroke-width="0"/>
<circle cx="414.00" cy="318.00" r="2.50" fill="#000" stroke="none" stroke-width="0"/>
<circle cx="418.00" cy="318.00" r="2.50" fill="#000" stroke="none" stroke-width="0"/>
<circle cx="423.00" cy="318.00" r="2.50" fill="#000" stroke="none" stroke-width="0"/>
<circle cx="428.00" cy="318.00" r="2.50" fill="#000" stroke="none" stroke-width="0"/>
<circle cx="433.00" cy="318.00" r="2.50" fill="#000" stroke="none" stroke-width="0"/>
<circle cx="438.00" cy="318.00" r="2.50" fill="#000" stroke="none" stroke-width="0"/>
<circle cx="442.00" cy="318.00" r="2.50" fill="#000" stroke="none" stroke-width="0"/>
<circle cx="420.00" cy="322.00" r="2.50" fill="#000" stroke="none" stroke-width="0"/>
<circle cx="425.00" cy="322.00" r="2.50" fill="#000" stroke="none" stroke-width="0"/>
<circle cx="431.00" cy="322.00" r="2.50" fill="#000" stroke="none" stroke-width="0"/>
<circle cx="436.00" cy="322.00" r="2.50" fill="#000" stroke="none" stroke-width="0"/>
<circle cx="423.00" cy="327.00" r="2.50" fill="#000" stroke="none" stroke-width="0"/>
<circle cx="431.00" cy="327.00" r="2.50" fill="#000" stroke="none" stroke-width="0"/>
<circle cx="436.00" cy="327.00" r="2.50" fill="#000" stroke="none" stroke-width="0"/>
<circle cx="420.00" cy="332.00" r="2.50" fill="#000" stroke="none" stroke-width="0"/>
<circle cx="425.00" cy="332.00" r="2.50" fill="#000" stroke="none" stroke-width="0"/>
<circle cx="431.00" cy="332.00" r="2.50" fill="#000" stroke="none" stroke-width="0"/>
<circle cx="425.00" cy="337.00" r="2.50" fill="#000" stroke="none" stroke-width="0"/>
<circle cx="431.00" cy="337.00" r="2.50" fill="#000" stroke="none" stroke-width="0"/>
<circle cx="415.00" cy="338.00" r="2.50" fill="#000" stroke="none" stroke-width="0"/>
<circle cx="441.00" cy="338.00" r="2.50" fill="#000" stroke="none" stroke-width="0"/>
<line x1="410.00" y1="294.90" x2="446.00" y2="294.90" stroke="#e8403f" stroke-width="2" stroke-dasharray="6,4"/>
<text transform="translate(503.33,341.21) rotate(-90)" x="0" y="0" font-size="33.70" font-style="normal" fill="#000" textLength="234.33" lengthAdjust="spacingAndGlyphs">Spores/mosquito</text>
<line x1="575.60" y1="104.40" x2="575.60" y2="228.00" stroke="#000" stroke-width="2.3" />
<line x1="575.60" y1="234.00" x2="575.60" y2="346.40" stroke="#000" stroke-width="2.3" />
<line x1="571.60" y1="225.00" x2="579.60" y2="232.00" stroke="#000" stroke-width="1.8" />
<line x1="571.60" y1="230.00" x2="579.60" y2="237.00" stroke="#000" stroke-width="1.8" />
<line x1="567.10" y1="104.40" x2="575.60" y2="104.40" stroke="#000" stroke-width="2.3" />
<line x1="567.10" y1="153.30" x2="575.60" y2="153.30" stroke="#000" stroke-width="2.3" />
<line x1="567.10" y1="203.00" x2="575.60" y2="203.00" stroke="#000" stroke-width="2.3" />
<line x1="567.10" y1="268.20" x2="575.60" y2="268.20" stroke="#000" stroke-width="2.3" />
<line x1="567.10" y1="307.30" x2="575.60" y2="307.30" stroke="#000" stroke-width="2.3" />
<line x1="567.10" y1="346.40" x2="575.60" y2="346.40" stroke="#000" stroke-width="2.3" />
<text x="497.41" y="115.09" font-size="31.00" fill="#000">1200</text>
<text x="514.77" y="164.00" font-size="31.00" fill="#000">800</text>
<text x="514.77" y="213.69" font-size="31.00" fill="#000">400</text>
<text x="514.77" y="278.89" font-size="31.00" fill="#000">140</text>
<text x="531.97" y="318.00" font-size="31.00" fill="#000">70</text>
<text x="549.18" y="357.09" font-size="31.00" fill="#000">0</text>
<line x1="575.60" y1="346.40" x2="889.00" y2="346.40" stroke="#000" stroke-width="2.3" />
<line x1="614.70" y1="346.40" x2="614.70" y2="353.90" stroke="#000" stroke-width="2.3" />
<line x1="673.30" y1="346.40" x2="673.30" y2="353.90" stroke="#000" stroke-width="2.3" />
<line x1="790.50" y1="346.40" x2="790.50" y2="353.90" stroke="#000" stroke-width="2.3" />
<line x1="848.50" y1="346.40" x2="848.50" y2="353.90" stroke="#000" stroke-width="2.3" />
<line x1="731.90" y1="80.00" x2="731.90" y2="353.40" stroke="#000" stroke-width="2.5" stroke-dasharray="8,5"/>
<line x1="613.00" y1="362.00" x2="676.50" y2="362.00" stroke="#000" stroke-width="2" />
<line x1="788.90" y1="362.00" x2="852.40" y2="362.00" stroke="#000" stroke-width="2" />
<text x="598.14" y="391.00" font-size="31.40" font-weight="normal" font-style="normal" fill="#000" textLength="106.89" lengthAdjust="spacingAndGlyphs">Female</text>
<text x="785.62" y="391.50" font-size="31.40" font-weight="normal" font-style="normal" fill="#000" textLength="69.92" lengthAdjust="spacingAndGlyphs">Male</text>
<line x1="598.40" y1="395.20" x2="859.90" y2="395.20" stroke="#000" stroke-width="2" />
<text x="718.72" y="426.80" font-size="30.50" font-weight="normal" font-style="normal" fill="#000" textLength="39.69" lengthAdjust="spacingAndGlyphs">2h</text>
<text x="609.01" y="195.44" font-size="23.00" font-weight="normal" font-style="normal" fill="#1a1ae6">B</text>
<text x="667.35" y="120.53" font-size="23.00" font-weight="normal" font-style="normal" fill="#1a1ae6">A</text>
<text x="783.51" y="191.44" font-size="23.00" font-weight="normal" font-style="normal" fill="#1a1ae6">B</text>
<text x="840.35" y="152.94" font-size="23.00" font-weight="normal" font-style="normal" fill="#1a1ae6">A</text>
<line x1="614.70" y1="218.40" x2="614.70" y2="231.00" stroke="#000" stroke-width="2" />
<circle cx="614.70" cy="218.50" r="2.60" fill="#000" stroke="none" stroke-width="0"/>
<circle cx="614.70" cy="224.00" r="2.40" fill="#000" stroke="none" stroke-width="0"/>
<circle cx="614.70" cy="229.00" r="2.60" fill="#000" stroke="none" stroke-width="0"/>
<line x1="614.70" y1="234.70" x2="614.70" y2="300.00" stroke="#000" stroke-width="2" />
<path d="M615.50,288.00 L615.54,288.97 L615.67,289.95 L615.85,290.92 L616.07,291.89 L616.30,292.87 L616.50,293.84 L616.64,294.81 L616.70,295.79 L616.73,296.76 L616.85,297.73 L617.05,298.71 L617.31,299.68 L617.58,300.65 L617.83,301.63 L618.04,302.60 L618.16,303.57 L618.20,304.55 L618.30,305.52 L618.55,306.49 L618.93,307.47 L619.42,308.44 L619.97,309.41 L620.56,310.39 L621.15,311.36 L621.68,312.33 L622.13,313.31 L622.46,314.28 L622.65,315.25 L622.71,316.23 L622.85,317.20 L623.20,318.17 L623.71,319.15 L624.36,320.12 L625.09,321.09 L625.87,322.07 L626.64,323.04 L627.35,324.01 L627.94,324.99 L628.38,325.96 L628.64,326.93 L628.70,327.91 L628.82,328.88 L629.08,329.85 L629.48,330.83 L629.98,331.80 L630.55,332.77 L631.15,333.75 L631.75,334.72 L632.29,335.69 L632.74,336.67 L633.07,337.64 L633.26,338.61 L633.31,339.59 L633.41,340.56 L633.61,341.53 L633.89,342.51 L634.19,343.48 L634.46,344.45 L634.64,345.43 L634.70,346.40 L594.70,346.40 L594.76,345.43 L594.94,344.45 L595.21,343.48 L595.51,342.51 L595.79,341.53 L595.99,340.56 L596.09,339.59 L596.14,338.61 L596.33,337.64 L596.66,336.67 L597.11,335.69 L597.65,334.72 L598.25,333.75 L598.85,332.77 L599.42,331.80 L599.92,330.83 L600.32,329.85 L600.58,328.88 L600.70,327.91 L600.76,326.93 L601.02,325.96 L601.46,324.99 L602.05,324.01 L602.76,323.04 L603.53,322.07 L604.31,321.09 L605.04,320.12 L605.69,319.15 L606.20,318.17 L606.55,317.20 L606.69,316.23 L606.75,315.25 L606.94,314.28 L607.27,313.31 L607.72,312.33 L608.25,311.36 L608.84,310.39 L609.43,309.41 L609.98,308.44 L610.47,307.47 L610.85,306.49 L611.10,305.52 L611.20,304.55 L611.24,303.57 L611.36,302.60 L611.57,301.63 L611.82,300.65 L612.09,299.68 L612.35,298.71 L612.55,297.73 L612.67,296.76 L612.70,295.79 L612.76,294.81 L612.90,293.84 L613.10,292.87 L613.33,291.89 L613.55,290.92 L613.73,289.95 L613.86,288.97 L613.90,288.00 Z" fill="#d0fcd0" stroke="none"/>
<path d="M615.50,288.00 L615.54,288.97 L615.67,289.95 L615.85,290.92 L616.07,291.89 L616.30,292.87 L616.50,293.84 L616.64,294.81 L616.70,295.79 L616.73,296.76 L616.85,297.73 L617.05,298.71 L617.31,299.68 L617.58,300.65 L617.83,301.63 L618.04,302.60 L618.16,303.57 L618.20,304.55 L618.30,305.52 L618.55,306.49 L618.93,307.47 L619.42,308.44 L619.97,309.41 L620.56,310.39 L621.15,311.36 L621.68,312.33 L622.13,313.31 L622.46,314.28 L622.65,315.25 L622.71,316.23 L622.85,317.20 L623.20,318.17 L623.71,319.15 L624.36,320.12 L625.09,321.09 L625.87,322.07 L626.64,323.04 L627.35,324.01 L627.94,324.99 L628.38,325.96 L628.64,326.93 L628.70,327.91 L628.82,328.88 L629.08,329.85 L629.48,330.83 L629.98,331.80 L630.55,332.77 L631.15,333.75 L631.75,334.72 L632.29,335.69 L632.74,336.67 L633.07,337.64 L633.26,338.61 L633.31,339.59 L633.41,340.56 L633.61,341.53 L633.89,342.51 L634.19,343.48 L634.46,344.45 L634.64,345.43 L634.70,346.40" fill="none" stroke="#000" stroke-width="1.6" stroke-linejoin="round"/>
<path d="M594.70,346.40 L594.76,345.43 L594.94,344.45 L595.21,343.48 L595.51,342.51 L595.79,341.53 L595.99,340.56 L596.09,339.59 L596.14,338.61 L596.33,337.64 L596.66,336.67 L597.11,335.69 L597.65,334.72 L598.25,333.75 L598.85,332.77 L599.42,331.80 L599.92,330.83 L600.32,329.85 L600.58,328.88 L600.70,327.91 L600.76,326.93 L601.02,325.96 L601.46,324.99 L602.05,324.01 L602.76,323.04 L603.53,322.07 L604.31,321.09 L605.04,320.12 L605.69,319.15 L606.20,318.17 L606.55,317.20 L606.69,316.23 L606.75,315.25 L606.94,314.28 L607.27,313.31 L607.72,312.33 L608.25,311.36 L608.84,310.39 L609.43,309.41 L609.98,308.44 L610.47,307.47 L610.85,306.49 L611.10,305.52 L611.20,304.55 L611.24,303.57 L611.36,302.60 L611.57,301.63 L611.82,300.65 L612.09,299.68 L612.35,298.71 L612.55,297.73 L612.67,296.76 L612.70,295.79 L612.76,294.81 L612.90,293.84 L613.10,292.87 L613.33,291.89 L613.55,290.92 L613.73,289.95 L613.86,288.97 L613.90,288.00" fill="none" stroke="#000" stroke-width="1.6" stroke-linejoin="round"/>
<circle cx="614.70" cy="296.00" r="2.50" fill="#000" stroke="none" stroke-width="0"/>
<circle cx="614.72" cy="300.00" r="2.50" fill="#000" stroke="none" stroke-width="0"/>
<circle cx="615.54" cy="304.00" r="2.50" fill="#000" stroke="none" stroke-width="0"/>
<circle cx="614.56" cy="308.00" r="2.50" fill="#000" stroke="none" stroke-width="0"/>
<circle cx="614.75" cy="312.00" r="2.50" fill="#000" stroke="none" stroke-width="0"/>
<circle cx="615.22" cy="315.00" r="2.50" fill="#000" stroke="none" stroke-width="0"/>
<circle cx="612.81" cy="318.00" r="2.50" fill="#000" stroke="none" stroke-width="0"/>
<circle cx="614.77" cy="321.00" r="2.50" fill="#000" stroke="none" stroke-width="0"/>
<circle cx="615.48" cy="324.00" r="2.50" fill="#000" stroke="none" stroke-width="0"/>
<circle cx="616.46" cy="327.00" r="2.50" fill="#000" stroke="none" stroke-width="0"/>
<circle cx="612.26" cy="330.00" r="2.50" fill="#000" stroke="none" stroke-width="0"/>
<circle cx="613.52" cy="333.00" r="2.50" fill="#000" stroke="none" stroke-width="0"/>
<circle cx="612.24" cy="336.00" r="2.50" fill="#000" stroke="none" stroke-width="0"/>
<circle cx="616.56" cy="339.00" r="2.50" fill="#000" stroke="none" stroke-width="0"/>
<circle cx="615.86" cy="342.00" r="2.50" fill="#000" stroke="none" stroke-width="0"/>
<circle cx="611.95" cy="344.00" r="2.50" fill="#000" stroke="none" stroke-width="0"/>
<circle cx="630.93" cy="345.68" r="2.40" fill="#000" stroke="none" stroke-width="0"/>
<circle cx="618.42" cy="339.77" r="2.40" fill="#000" stroke="none" stroke-width="0"/>
<circle cx="602.79" cy="330.83" r="2.40" fill="#000" stroke="none" stroke-width="0"/>
<circle cx="600.75" cy="337.51" r="2.40" fill="#000" stroke="none" stroke-width="0"/>
<circle cx="608.21" cy="331.42" r="2.40" fill="#000" stroke="none" stroke-width="0"/>
<circle cx="613.87" cy="328.54" r="2.40" fill="#000" stroke="none" stroke-width="0"/>
<circle cx="625.11" cy="335.93" r="2.40" fill="#000" stroke="none" stroke-width="0"/>
<circle cx="619.13" cy="337.34" r="2.40" fill="#000" stroke="none" stroke-width="0"/>
<circle cx="619.79" cy="337.00" r="2.40" fill="#000" stroke="none" stroke-width="0"/>
<circle cx="607.89" cy="336.23" r="2.40" fill="#000" stroke="none" stroke-width="0"/>
<circle cx="632.04" cy="345.96" r="2.40" fill="#000" stroke="none" stroke-width="0"/>
<circle cx="621.72" cy="343.12" r="2.40" fill="#000" stroke="none" stroke-width="0"/>
<circle cx="607.18" cy="333.67" r="2.40" fill="#000" stroke="none" stroke-width="0"/>
<circle cx="603.00" cy="333.20" r="2.40" fill="#000" stroke="none" stroke-width="0"/>
<circle cx="611.42" cy="341.79" r="2.40" fill="#000" stroke="none" stroke-width="0"/>
<circle cx="610.86" cy="343.24" r="2.40" fill="#000" stroke="none" stroke-width="0"/>
<circle cx="626.79" cy="345.24" r="2.40" fill="#000" stroke="none" stroke-width="0"/>
<circle cx="608.02" cy="328.01" r="2.40" fill="#000" stroke="none" stroke-width="0"/>
<circle cx="613.67" cy="344.38" r="2.40" fill="#000" stroke="none" stroke-width="0"/>
<circle cx="611.12" cy="345.65" r="2.40" fill="#000" stroke="none" stroke-width="0"/>
<circle cx="617.73" cy="329.31" r="2.40" fill="#000" stroke="none" stroke-width="0"/>
<circle cx="607.08" cy="342.01" r="2.40" fill="#000" stroke="none" stroke-width="0"/>
<circle cx="610.75" cy="329.57" r="2.40" fill="#000" stroke="none" stroke-width="0"/>
<circle cx="623.69" cy="345.35" r="2.40" fill="#000" stroke="none" stroke-width="0"/>
<circle cx="608.62" cy="330.12" r="2.40" fill="#000" stroke="none" stroke-width="0"/>
<circle cx="604.25" cy="329.82" r="2.40" fill="#000" stroke="none" stroke-width="0"/>
<circle cx="603.97" cy="342.35" r="2.40" fill="#000" stroke="none" stroke-width="0"/>
<circle cx="613.02" cy="338.07" r="2.40" fill="#000" stroke="none" stroke-width="0"/>
<line x1="596.70" y1="342.50" x2="602.70" y2="342.50" stroke="#e8403f" stroke-width="2.2" />
<path d="M674.10,140.50 L674.10,141.88 L674.10,143.25 L674.11,144.62 L674.11,146.00 L674.12,147.38 L674.13,148.75 L674.14,150.12 L674.16,151.50 L674.17,152.88 L674.19,154.25 L674.20,155.62 L674.22,157.00 L674.24,158.38 L674.26,159.75 L674.28,161.12 L674.30,162.50 L674.32,163.88 L674.34,165.25 L674.35,166.62 L674.37,168.00 L674.39,169.38 L674.41,170.75 L674.42,172.12 L674.44,173.50 L674.45,174.88 L674.46,176.25 L674.47,177.62 L674.48,179.00 L674.49,180.38 L674.49,181.75 L674.50,183.12 L674.50,184.50 L674.53,185.88 L674.72,187.25 L675.02,188.62 L675.40,190.00 L675.78,191.38 L676.08,192.75 L676.27,194.12 L676.31,195.50 L676.47,196.88 L676.78,198.25 L677.18,199.62 L677.61,201.00 L677.98,202.38 L678.22,203.75 L678.30,205.12 L678.41,206.50 L678.68,207.88 L679.07,209.25 L679.50,210.62 L679.89,212.00 L680.17,213.38 L680.30,214.75 L680.36,216.12 L680.57,217.50 L680.87,218.88 L681.18,220.25 L681.41,221.62 L681.50,223.00 L665.10,223.00 L665.19,221.62 L665.42,220.25 L665.73,218.88 L666.03,217.50 L666.24,216.12 L666.30,214.75 L666.43,213.38 L666.71,212.00 L667.10,210.62 L667.53,209.25 L667.92,207.88 L668.19,206.50 L668.30,205.12 L668.38,203.75 L668.62,202.38 L668.99,201.00 L669.42,199.62 L669.82,198.25 L670.13,196.88 L670.29,195.50 L670.33,194.12 L670.52,192.75 L670.82,191.38 L671.20,190.00 L671.58,188.62 L671.88,187.25 L672.07,185.88 L672.10,184.50 L672.10,183.12 L672.11,181.75 L672.11,180.38 L672.12,179.00 L672.13,177.62 L672.14,176.25 L672.15,174.88 L672.16,173.50 L672.18,172.12 L672.19,170.75 L672.21,169.38 L672.23,168.00 L672.25,166.62 L672.26,165.25 L672.28,163.88 L672.30,162.50 L672.32,161.12 L672.34,159.75 L672.36,158.38 L672.38,157.00 L672.40,155.62 L672.41,154.25 L672.43,152.88 L672.44,151.50 L672.46,150.12 L672.47,148.75 L672.48,147.38 L672.49,146.00 L672.49,144.62 L672.50,143.25 L672.50,141.88 L672.50,140.50 Z" fill="#f0ccf0" stroke="none"/>
<path d="M674.10,140.50 L674.10,141.88 L674.10,143.25 L674.11,144.62 L674.11,146.00 L674.12,147.38 L674.13,148.75 L674.14,150.12 L674.16,151.50 L674.17,152.88 L674.19,154.25 L674.20,155.62 L674.22,157.00 L674.24,158.38 L674.26,159.75 L674.28,161.12 L674.30,162.50 L674.32,163.88 L674.34,165.25 L674.35,166.62 L674.37,168.00 L674.39,169.38 L674.41,170.75 L674.42,172.12 L674.44,173.50 L674.45,174.88 L674.46,176.25 L674.47,177.62 L674.48,179.00 L674.49,180.38 L674.49,181.75 L674.50,183.12 L674.50,184.50 L674.53,185.88 L674.72,187.25 L675.02,188.62 L675.40,190.00 L675.78,191.38 L676.08,192.75 L676.27,194.12 L676.31,195.50 L676.47,196.88 L676.78,198.25 L677.18,199.62 L677.61,201.00 L677.98,202.38 L678.22,203.75 L678.30,205.12 L678.41,206.50 L678.68,207.88 L679.07,209.25 L679.50,210.62 L679.89,212.00 L680.17,213.38 L680.30,214.75 L680.36,216.12 L680.57,217.50 L680.87,218.88 L681.18,220.25 L681.41,221.62 L681.50,223.00" fill="none" stroke="#000" stroke-width="1.6" stroke-linejoin="round"/>
<path d="M665.10,223.00 L665.19,221.62 L665.42,220.25 L665.73,218.88 L666.03,217.50 L666.24,216.12 L666.30,214.75 L666.43,213.38 L666.71,212.00 L667.10,210.62 L667.53,209.25 L667.92,207.88 L668.19,206.50 L668.30,205.12 L668.38,203.75 L668.62,202.38 L668.99,201.00 L669.42,199.62 L669.82,198.25 L670.13,196.88 L670.29,195.50 L670.33,194.12 L670.52,192.75 L670.82,191.38 L671.20,190.00 L671.58,188.62 L671.88,187.25 L672.07,185.88 L672.10,184.50 L672.10,183.12 L672.11,181.75 L672.11,180.38 L672.12,179.00 L672.13,177.62 L672.14,176.25 L672.15,174.88 L672.16,173.50 L672.18,172.12 L672.19,170.75 L672.21,169.38 L672.23,168.00 L672.25,166.62 L672.26,165.25 L672.28,163.88 L672.30,162.50 L672.32,161.12 L672.34,159.75 L672.36,158.38 L672.38,157.00 L672.40,155.62 L672.41,154.25 L672.43,152.88 L672.44,151.50 L672.46,150.12 L672.47,148.75 L672.48,147.38 L672.49,146.00 L672.49,144.62 L672.50,143.25 L672.50,141.88 L672.50,140.50" fill="none" stroke="#000" stroke-width="1.6" stroke-linejoin="round"/>
<line x1="673.30" y1="140.50" x2="673.30" y2="200.00" stroke="#000" stroke-width="2" />
<circle cx="673.30" cy="140.50" r="2.60" fill="#000" stroke="none" stroke-width="0"/>
<circle cx="656.30" cy="224.00" r="2.50" fill="#000" stroke="none" stroke-width="0"/>
<circle cx="661.30" cy="224.00" r="2.50" fill="#000" stroke="none" stroke-width="0"/>
<circle cx="667.30" cy="224.00" r="2.50" fill="#000" stroke="none" stroke-width="0"/>
<circle cx="676.30" cy="225.00" r="2.50" fill="#000" stroke="none" stroke-width="0"/>
<circle cx="682.30" cy="225.00" r="2.50" fill="#000" stroke="none" stroke-width="0"/>
<circle cx="687.30" cy="225.00" r="2.50" fill="#000" stroke="none" stroke-width="0"/>
<circle cx="692.30" cy="225.00" r="2.50" fill="#000" stroke="none" stroke-width="0"/>
<circle cx="670.30" cy="213.00" r="2.50" fill="#000" stroke="none" stroke-width="0"/>
<circle cx="673.30" cy="208.00" r="2.50" fill="#000" stroke="none" stroke-width="0"/>
<circle cx="675.30" cy="203.00" r="2.50" fill="#000" stroke="none" stroke-width="0"/>
<circle cx="669.30" cy="198.00" r="2.50" fill="#000" stroke="none" stroke-width="0"/>
<circle cx="678.30" cy="213.00" r="2.50" fill="#000" stroke="none" stroke-width="0"/>
<path d="M682.60,234.70 L682.62,236.48 L682.69,238.26 L682.80,240.04 L682.95,241.83 L683.14,243.61 L683.35,245.39 L683.60,247.17 L683.86,248.95 L684.13,250.73 L684.42,252.52 L684.70,254.30 L684.97,256.08 L685.22,257.86 L685.45,259.64 L685.66,261.43 L685.83,263.21 L685.96,264.99 L686.05,266.77 L686.09,268.55 L686.11,270.33 L686.16,272.12 L686.28,273.90 L686.45,275.68 L686.67,277.46 L686.93,279.24 L687.23,281.02 L687.56,282.81 L687.91,284.59 L688.28,286.37 L688.65,288.15 L689.01,289.93 L689.36,291.71 L689.68,293.50 L689.97,295.28 L690.22,297.06 L690.42,298.84 L690.57,300.62 L690.66,302.40 L690.70,304.19 L690.71,305.97 L690.74,307.75 L690.80,309.53 L690.87,311.31 L690.97,313.09 L691.07,314.88 L691.19,316.66 L691.31,318.44 L691.43,320.22 L691.54,322.00 L691.64,323.78 L691.74,325.56 L691.81,327.35 L691.86,329.13 L691.89,330.91 L691.89,332.69 L691.75,334.47 L691.44,336.25 L691.08,338.04 L690.81,339.82 L690.70,341.60 L655.90,341.60 L655.79,339.82 L655.52,338.04 L655.16,336.25 L654.85,334.47 L654.71,332.69 L654.71,330.91 L654.74,329.13 L654.79,327.35 L654.86,325.56 L654.96,323.78 L655.06,322.00 L655.17,320.22 L655.29,318.44 L655.41,316.66 L655.53,314.88 L655.63,313.09 L655.73,311.31 L655.80,309.53 L655.86,307.75 L655.89,305.97 L655.90,304.19 L655.94,302.40 L656.03,300.62 L656.18,298.84 L656.38,297.06 L656.63,295.28 L656.92,293.50 L657.24,291.71 L657.59,289.93 L657.95,288.15 L658.32,286.37 L658.69,284.59 L659.04,282.81 L659.37,281.02 L659.67,279.24 L659.93,277.46 L660.15,275.68 L660.32,273.90 L660.44,272.12 L660.49,270.33 L660.51,268.55 L660.55,266.77 L660.64,264.99 L660.77,263.21 L660.94,261.43 L661.15,259.64 L661.38,257.86 L661.63,256.08 L661.90,254.30 L662.18,252.52 L662.47,250.73 L662.74,248.95 L663.00,247.17 L663.25,245.39 L663.46,243.61 L663.65,241.83 L663.80,240.04 L663.91,238.26 L663.98,236.48 L664.00,234.70 Z" fill="#f0ccf0" stroke="none"/>
<path d="M682.60,234.70 L682.62,236.48 L682.69,238.26 L682.80,240.04 L682.95,241.83 L683.14,243.61 L683.35,245.39 L683.60,247.17 L683.86,248.95 L684.13,250.73 L684.42,252.52 L684.70,254.30 L684.97,256.08 L685.22,257.86 L685.45,259.64 L685.66,261.43 L685.83,263.21 L685.96,264.99 L686.05,266.77 L686.09,268.55 L686.11,270.33 L686.16,272.12 L686.28,273.90 L686.45,275.68 L686.67,277.46 L686.93,279.24 L687.23,281.02 L687.56,282.81 L687.91,284.59 L688.28,286.37 L688.65,288.15 L689.01,289.93 L689.36,291.71 L689.68,293.50 L689.97,295.28 L690.22,297.06 L690.42,298.84 L690.57,300.62 L690.66,302.40 L690.70,304.19 L690.71,305.97 L690.74,307.75 L690.80,309.53 L690.87,311.31 L690.97,313.09 L691.07,314.88 L691.19,316.66 L691.31,318.44 L691.43,320.22 L691.54,322.00 L691.64,323.78 L691.74,325.56 L691.81,327.35 L691.86,329.13 L691.89,330.91 L691.89,332.69 L691.75,334.47 L691.44,336.25 L691.08,338.04 L690.81,339.82 L690.70,341.60" fill="none" stroke="#000" stroke-width="1.6" stroke-linejoin="round"/>
<path d="M655.90,341.60 L655.79,339.82 L655.52,338.04 L655.16,336.25 L654.85,334.47 L654.71,332.69 L654.71,330.91 L654.74,329.13 L654.79,327.35 L654.86,325.56 L654.96,323.78 L655.06,322.00 L655.17,320.22 L655.29,318.44 L655.41,316.66 L655.53,314.88 L655.63,313.09 L655.73,311.31 L655.80,309.53 L655.86,307.75 L655.89,305.97 L655.90,304.19 L655.94,302.40 L656.03,300.62 L656.18,298.84 L656.38,297.06 L656.63,295.28 L656.92,293.50 L657.24,291.71 L657.59,289.93 L657.95,288.15 L658.32,286.37 L658.69,284.59 L659.04,282.81 L659.37,281.02 L659.67,279.24 L659.93,277.46 L660.15,275.68 L660.32,273.90 L660.44,272.12 L660.49,270.33 L660.51,268.55 L660.55,266.77 L660.64,264.99 L660.77,263.21 L660.94,261.43 L661.15,259.64 L661.38,257.86 L661.63,256.08 L661.90,254.30 L662.18,252.52 L662.47,250.73 L662.74,248.95 L663.00,247.17 L663.25,245.39 L663.46,243.61 L663.65,241.83 L663.80,240.04 L663.91,238.26 L663.98,236.48 L664.00,234.70" fill="none" stroke="#000" stroke-width="1.6" stroke-linejoin="round"/>
<line x1="655.90" y1="341.60" x2="690.70" y2="341.60" stroke="#000" stroke-width="1.8" />
<circle cx="672.92" cy="245.00" r="2.50" fill="#000" stroke="none" stroke-width="0"/>
<circle cx="675.82" cy="258.00" r="2.50" fill="#000" stroke="none" stroke-width="0"/>
<circle cx="675.96" cy="258.00" r="2.50" fill="#000" stroke="none" stroke-width="0"/>
<circle cx="667.58" cy="270.00" r="2.50" fill="#000" stroke="none" stroke-width="0"/>
<circle cx="665.47" cy="275.00" r="2.50" fill="#000" stroke="none" stroke-width="0"/>
<circle cx="671.30" cy="280.00" r="2.50" fill="#000" stroke="none" stroke-width="0"/>
<circle cx="669.68" cy="290.00" r="2.50" fill="#000" stroke="none" stroke-width="0"/>
<circle cx="678.27" cy="292.00" r="2.50" fill="#000" stroke="none" stroke-width="0"/>
<circle cx="676.35" cy="295.00" r="2.50" fill="#000" stroke="none" stroke-width="0"/>
<circle cx="674.92" cy="298.00" r="2.50" fill="#000" stroke="none" stroke-width="0"/>
<circle cx="674.23" cy="300.00" r="2.50" fill="#000" stroke="none" stroke-width="0"/>
<circle cx="675.88" cy="303.00" r="2.50" fill="#000" stroke="none" stroke-width="0"/>
<circle cx="667.62" cy="306.00" r="2.50" fill="#000" stroke="none" stroke-width="0"/>
<circle cx="672.34" cy="308.00" r="2.50" fill="#000" stroke="none" stroke-width="0"/>
<circle cx="667.90" cy="311.00" r="2.50" fill="#000" stroke="none" stroke-width="0"/>
<circle cx="679.80" cy="313.00" r="2.50" fill="#000" stroke="none" stroke-width="0"/>
<circle cx="666.24" cy="316.00" r="2.50" fill="#000" stroke="none" stroke-width="0"/>
<circle cx="678.40" cy="318.00" r="2.50" fill="#000" stroke="none" stroke-width="0"/>
<circle cx="666.49" cy="320.00" r="2.50" fill="#000" stroke="none" stroke-width="0"/>
<circle cx="676.29" cy="322.00" r="2.50" fill="#000" stroke="none" stroke-width="0"/>
<circle cx="670.69" cy="325.00" r="2.50" fill="#000" stroke="none" stroke-width="0"/>
<circle cx="671.77" cy="327.00" r="2.50" fill="#000" stroke="none" stroke-width="0"/>
<circle cx="678.78" cy="330.00" r="2.50" fill="#000" stroke="none" stroke-width="0"/>
<circle cx="657.30" cy="333.00" r="2.50" fill="#000" stroke="none" stroke-width="0"/>
<circle cx="658.90" cy="338.00" r="2.50" fill="#000" stroke="none" stroke-width="0"/>
<circle cx="662.30" cy="333.00" r="2.50" fill="#000" stroke="none" stroke-width="0"/>
<circle cx="663.40" cy="338.00" r="2.50" fill="#000" stroke="none" stroke-width="0"/>
<circle cx="667.30" cy="333.00" r="2.50" fill="#000" stroke="none" stroke-width="0"/>
<circle cx="667.90" cy="338.00" r="2.50" fill="#000" stroke="none" stroke-width="0"/>
<circle cx="672.30" cy="333.00" r="2.50" fill="#000" stroke="none" stroke-width="0"/>
<circle cx="672.40" cy="338.00" r="2.50" fill="#000" stroke="none" stroke-width="0"/>
<circle cx="677.30" cy="333.00" r="2.50" fill="#000" stroke="none" stroke-width="0"/>
<circle cx="676.90" cy="338.00" r="2.50" fill="#000" stroke="none" stroke-width="0"/>
<circle cx="682.30" cy="333.00" r="2.50" fill="#000" stroke="none" stroke-width="0"/>
<circle cx="681.40" cy="338.00" r="2.50" fill="#000" stroke="none" stroke-width="0"/>
<circle cx="687.30" cy="333.00" r="2.50" fill="#000" stroke="none" stroke-width="0"/>
<circle cx="685.90" cy="338.00" r="2.50" fill="#000" stroke="none" stroke-width="0"/>
<circle cx="691.30" cy="333.00" r="2.50" fill="#000" stroke="none" stroke-width="0"/>
<circle cx="689.50" cy="338.00" r="2.50" fill="#000" stroke="none" stroke-width="0"/>
<line x1="655.30" y1="308.00" x2="663.30" y2="308.00" stroke="#e8403f" stroke-width="2.2" />
<line x1="681.30" y1="308.00" x2="689.30" y2="308.00" stroke="#e8403f" stroke-width="2.2" />
<line x1="790.50" y1="213.70" x2="790.50" y2="226.50" stroke="#000" stroke-width="2" />
<circle cx="791.96" cy="213.70" r="2.60" fill="#000" stroke="none" stroke-width="0"/>
<circle cx="791.56" cy="216.50" r="2.60" fill="#000" stroke="none" stroke-width="0"/>
<circle cx="789.74" cy="221.00" r="2.60" fill="#000" stroke="none" stroke-width="0"/>
<circle cx="791.31" cy="225.50" r="2.60" fill="#000" stroke="none" stroke-width="0"/>
<line x1="790.50" y1="234.70" x2="790.50" y2="290.00" stroke="#000" stroke-width="2" />
<circle cx="790.50" cy="248.00" r="2.30" fill="#000" stroke="none" stroke-width="0"/>
<path d="M791.30,278.80 L791.32,279.93 L791.39,281.05 L791.51,282.18 L791.65,283.31 L791.82,284.43 L792.01,285.56 L792.20,286.69 L792.38,287.81 L792.54,288.94 L792.66,290.07 L792.75,291.19 L792.80,292.32 L792.84,293.45 L793.07,294.57 L793.49,295.70 L794.06,296.83 L794.74,297.95 L795.45,299.08 L796.14,300.21 L796.74,301.33 L797.18,302.46 L797.44,303.59 L797.51,304.71 L797.63,305.84 L797.91,306.97 L798.30,308.09 L798.79,309.22 L799.32,310.35 L799.84,311.47 L800.31,312.60 L800.68,313.73 L800.92,314.85 L801.00,315.98 L801.08,317.11 L801.31,318.23 L801.67,319.36 L802.12,320.49 L802.64,321.61 L803.16,322.74 L803.65,323.87 L804.06,324.99 L804.34,326.12 L804.49,327.25 L804.53,328.37 L804.70,329.50 L805.01,330.63 L805.43,331.75 L805.92,332.88 L806.43,334.01 L806.93,335.13 L807.36,336.26 L807.68,337.39 L807.86,338.51 L807.90,339.64 L807.96,340.77 L808.08,341.89 L808.22,343.02 L808.36,344.15 L808.46,345.27 L808.50,346.40 L772.50,346.40 L772.54,345.27 L772.64,344.15 L772.78,343.02 L772.92,341.89 L773.04,340.77 L773.10,339.64 L773.14,338.51 L773.32,337.39 L773.64,336.26 L774.07,335.13 L774.57,334.01 L775.08,332.88 L775.57,331.75 L775.99,330.63 L776.30,329.50 L776.47,328.37 L776.51,327.25 L776.66,326.12 L776.94,324.99 L777.35,323.87 L777.84,322.74 L778.36,321.61 L778.88,320.49 L779.33,319.36 L779.69,318.23 L779.92,317.11 L780.00,315.98 L780.08,314.85 L780.32,313.73 L780.69,312.60 L781.16,311.47 L781.68,310.35 L782.21,309.22 L782.70,308.09 L783.09,306.97 L783.37,305.84 L783.49,304.71 L783.56,303.59 L783.82,302.46 L784.26,301.33 L784.86,300.21 L785.55,299.08 L786.26,297.95 L786.94,296.83 L787.51,295.70 L787.93,294.57 L788.16,293.45 L788.20,292.32 L788.25,291.19 L788.34,290.07 L788.46,288.94 L788.62,287.81 L788.80,286.69 L788.99,285.56 L789.18,284.43 L789.35,283.31 L789.49,282.18 L789.61,281.05 L789.68,279.93 L789.70,278.80 Z" fill="#d0fcd0" stroke="none"/>
<path d="M791.30,278.80 L791.32,279.93 L791.39,281.05 L791.51,282.18 L791.65,283.31 L791.82,284.43 L792.01,285.56 L792.20,286.69 L792.38,287.81 L792.54,288.94 L792.66,290.07 L792.75,291.19 L792.80,292.32 L792.84,293.45 L793.07,294.57 L793.49,295.70 L794.06,296.83 L794.74,297.95 L795.45,299.08 L796.14,300.21 L796.74,301.33 L797.18,302.46 L797.44,303.59 L797.51,304.71 L797.63,305.84 L797.91,306.97 L798.30,308.09 L798.79,309.22 L799.32,310.35 L799.84,311.47 L800.31,312.60 L800.68,313.73 L800.92,314.85 L801.00,315.98 L801.08,317.11 L801.31,318.23 L801.67,319.36 L802.12,320.49 L802.64,321.61 L803.16,322.74 L803.65,323.87 L804.06,324.99 L804.34,326.12 L804.49,327.25 L804.53,328.37 L804.70,329.50 L805.01,330.63 L805.43,331.75 L805.92,332.88 L806.43,334.01 L806.93,335.13 L807.36,336.26 L807.68,337.39 L807.86,338.51 L807.90,339.64 L807.96,340.77 L808.08,341.89 L808.22,343.02 L808.36,344.15 L808.46,345.27 L808.50,346.40" fill="none" stroke="#000" stroke-width="1.6" stroke-linejoin="round"/>
<path d="M772.50,346.40 L772.54,345.27 L772.64,344.15 L772.78,343.02 L772.92,341.89 L773.04,340.77 L773.10,339.64 L773.14,338.51 L773.32,337.39 L773.64,336.26 L774.07,335.13 L774.57,334.01 L775.08,332.88 L775.57,331.75 L775.99,330.63 L776.30,329.50 L776.47,328.37 L776.51,327.25 L776.66,326.12 L776.94,324.99 L777.35,323.87 L777.84,322.74 L778.36,321.61 L778.88,320.49 L779.33,319.36 L779.69,318.23 L779.92,317.11 L780.00,315.98 L780.08,314.85 L780.32,313.73 L780.69,312.60 L781.16,311.47 L781.68,310.35 L782.21,309.22 L782.70,308.09 L783.09,306.97 L783.37,305.84 L783.49,304.71 L783.56,303.59 L783.82,302.46 L784.26,301.33 L784.86,300.21 L785.55,299.08 L786.26,297.95 L786.94,296.83 L787.51,295.70 L787.93,294.57 L788.16,293.45 L788.20,292.32 L788.25,291.19 L788.34,290.07 L788.46,288.94 L788.62,287.81 L788.80,286.69 L788.99,285.56 L789.18,284.43 L789.35,283.31 L789.49,282.18 L789.61,281.05 L789.68,279.93 L789.70,278.80" fill="none" stroke="#000" stroke-width="1.6" stroke-linejoin="round"/>
<circle cx="790.20" cy="296.00" r="2.50" fill="#000" stroke="none" stroke-width="0"/>
<circle cx="791.39" cy="299.00" r="2.50" fill="#000" stroke="none" stroke-width="0"/>
<circle cx="791.98" cy="302.00" r="2.50" fill="#000" stroke="none" stroke-width="0"/>
<circle cx="793.66" cy="305.00" r="2.50" fill="#000" stroke="none" stroke-width="0"/>
<circle cx="787.41" cy="307.00" r="2.50" fill="#000" stroke="none" stroke-width="0"/>
<circle cx="787.43" cy="309.00" r="2.50" fill="#000" stroke="none" stroke-width="0"/>
<circle cx="786.27" cy="311.00" r="2.50" fill="#000" stroke="none" stroke-width="0"/>
<circle cx="787.20" cy="313.00" r="2.50" fill="#000" stroke="none" stroke-width="0"/>
<circle cx="793.31" cy="315.00" r="2.50" fill="#000" stroke="none" stroke-width="0"/>
<circle cx="786.06" cy="317.00" r="2.50" fill="#000" stroke="none" stroke-width="0"/>
<circle cx="790.88" cy="319.00" r="2.50" fill="#000" stroke="none" stroke-width="0"/>
<circle cx="787.07" cy="321.00" r="2.50" fill="#000" stroke="none" stroke-width="0"/>
<circle cx="788.04" cy="323.00" r="2.50" fill="#000" stroke="none" stroke-width="0"/>
<circle cx="789.68" cy="325.00" r="2.50" fill="#000" stroke="none" stroke-width="0"/>
<circle cx="794.55" cy="327.00" r="2.50" fill="#000" stroke="none" stroke-width="0"/>
<circle cx="791.80" cy="329.00" r="2.50" fill="#000" stroke="none" stroke-width="0"/>
<circle cx="784.67" cy="331.00" r="2.50" fill="#000" stroke="none" stroke-width="0"/>
<circle cx="787.81" cy="333.00" r="2.50" fill="#000" stroke="none" stroke-width="0"/>
<circle cx="786.26" cy="335.00" r="2.50" fill="#000" stroke="none" stroke-width="0"/>
<circle cx="794.96" cy="337.00" r="2.50" fill="#000" stroke="none" stroke-width="0"/>
<circle cx="794.22" cy="339.00" r="2.50" fill="#000" stroke="none" stroke-width="0"/>
<circle cx="794.17" cy="341.00" r="2.50" fill="#000" stroke="none" stroke-width="0"/>
<circle cx="794.42" cy="343.00" r="2.50" fill="#000" stroke="none" stroke-width="0"/>
<circle cx="793.44" cy="345.00" r="2.50" fill="#000" stroke="none" stroke-width="0"/>
<circle cx="799.58" cy="345.19" r="2.40" fill="#000" stroke="none" stroke-width="0"/>
<circle cx="799.93" cy="334.11" r="2.40" fill="#000" stroke="none" stroke-width="0"/>
<circle cx="798.03" cy="337.79" r="2.40" fill="#000" stroke="none" stroke-width="0"/>
<circle cx="788.40" cy="339.03" r="2.40" fill="#000" stroke="none" stroke-width="0"/>
<circle cx="788.51" cy="335.83" r="2.40" fill="#000" stroke="none" stroke-width="0"/>
<circle cx="779.88" cy="335.02" r="2.40" fill="#000" stroke="none" stroke-width="0"/>
<circle cx="799.59" cy="343.11" r="2.40" fill="#000" stroke="none" stroke-width="0"/>
<circle cx="796.41" cy="345.77" r="2.40" fill="#000" stroke="none" stroke-width="0"/>
<circle cx="797.90" cy="338.87" r="2.40" fill="#000" stroke="none" stroke-width="0"/>
<circle cx="794.95" cy="332.16" r="2.40" fill="#000" stroke="none" stroke-width="0"/>
<circle cx="781.05" cy="337.09" r="2.40" fill="#000" stroke="none" stroke-width="0"/>
<circle cx="791.09" cy="333.24" r="2.40" fill="#000" stroke="none" stroke-width="0"/>
<circle cx="789.41" cy="334.05" r="2.40" fill="#000" stroke="none" stroke-width="0"/>
<circle cx="787.39" cy="339.69" r="2.40" fill="#000" stroke="none" stroke-width="0"/>
<circle cx="790.27" cy="332.09" r="2.40" fill="#000" stroke="none" stroke-width="0"/>
<circle cx="783.46" cy="333.77" r="2.40" fill="#000" stroke="none" stroke-width="0"/>
<circle cx="787.02" cy="333.11" r="2.40" fill="#000" stroke="none" stroke-width="0"/>
<circle cx="794.19" cy="331.17" r="2.40" fill="#000" stroke="none" stroke-width="0"/>
<circle cx="787.09" cy="345.26" r="2.40" fill="#000" stroke="none" stroke-width="0"/>
<circle cx="803.52" cy="341.50" r="2.40" fill="#000" stroke="none" stroke-width="0"/>
<line x1="773.50" y1="332.50" x2="780.50" y2="332.50" stroke="#e8403f" stroke-width="2.2" />
<line x1="796.50" y1="332.50" x2="804.50" y2="332.50" stroke="#e8403f" stroke-width="2.2" />
<line x1="848.50" y1="183.50" x2="848.50" y2="218.00" stroke="#000" stroke-width="2" />
<circle cx="848.50" cy="183.50" r="2.60" fill="#000" stroke="none" stroke-width="0"/>
<circle cx="848.50" cy="203.00" r="2.40" fill="#000" stroke="none" stroke-width="0"/>
<path d="M849.30,212.00 L849.31,212.20 L849.32,212.40 L849.35,212.60 L849.40,212.80 L849.45,213.00 L849.51,213.20 L849.58,213.40 L849.66,213.60 L849.75,213.80 L849.85,214.00 L849.95,214.20 L850.06,214.40 L850.17,214.60 L850.29,214.80 L850.40,215.00 L850.51,215.20 L850.63,215.40 L850.74,215.60 L850.85,215.80 L850.95,216.00 L851.05,216.20 L851.14,216.40 L851.22,216.60 L851.29,216.80 L851.35,217.00 L851.40,217.20 L851.45,217.40 L851.48,217.60 L851.49,217.80 L851.50,218.00 L851.51,218.20 L851.54,218.40 L851.60,218.60 L851.67,218.80 L851.77,219.00 L851.88,219.20 L852.01,219.40 L852.16,219.60 L852.32,219.80 L852.50,220.00 L852.69,220.20 L852.88,220.40 L853.08,220.60 L853.29,220.80 L853.50,221.00 L853.71,221.20 L853.92,221.40 L854.12,221.60 L854.31,221.80 L854.50,222.00 L854.68,222.20 L854.84,222.40 L854.99,222.60 L855.12,222.80 L855.23,223.00 L855.33,223.20 L855.40,223.40 L855.46,223.60 L855.49,223.80 L855.50,224.00 L841.50,224.00 L841.51,223.80 L841.54,223.60 L841.60,223.40 L841.67,223.20 L841.77,223.00 L841.88,222.80 L842.01,222.60 L842.16,222.40 L842.32,222.20 L842.50,222.00 L842.69,221.80 L842.88,221.60 L843.08,221.40 L843.29,221.20 L843.50,221.00 L843.71,220.80 L843.92,220.60 L844.12,220.40 L844.31,220.20 L844.50,220.00 L844.68,219.80 L844.84,219.60 L844.99,219.40 L845.12,219.20 L845.23,219.00 L845.33,218.80 L845.40,218.60 L845.46,218.40 L845.49,218.20 L845.50,218.00 L845.51,217.80 L845.52,217.60 L845.55,217.40 L845.60,217.20 L845.65,217.00 L845.71,216.80 L845.78,216.60 L845.86,216.40 L845.95,216.20 L846.05,216.00 L846.15,215.80 L846.26,215.60 L846.37,215.40 L846.49,215.20 L846.60,215.00 L846.71,214.80 L846.83,214.60 L846.94,214.40 L847.05,214.20 L847.15,214.00 L847.25,213.80 L847.34,213.60 L847.42,213.40 L847.49,213.20 L847.55,213.00 L847.60,212.80 L847.65,212.60 L847.68,212.40 L847.69,212.20 L847.70,212.00 Z" fill="#f0ccf0" stroke="none"/>
<path d="M849.30,212.00 L849.31,212.20 L849.32,212.40 L849.35,212.60 L849.40,212.80 L849.45,213.00 L849.51,213.20 L849.58,213.40 L849.66,213.60 L849.75,213.80 L849.85,214.00 L849.95,214.20 L850.06,214.40 L850.17,214.60 L850.29,214.80 L850.40,215.00 L850.51,215.20 L850.63,215.40 L850.74,215.60 L850.85,215.80 L850.95,216.00 L851.05,216.20 L851.14,216.40 L851.22,216.60 L851.29,216.80 L851.35,217.00 L851.40,217.20 L851.45,217.40 L851.48,217.60 L851.49,217.80 L851.50,218.00 L851.51,218.20 L851.54,218.40 L851.60,218.60 L851.67,218.80 L851.77,219.00 L851.88,219.20 L852.01,219.40 L852.16,219.60 L852.32,219.80 L852.50,220.00 L852.69,220.20 L852.88,220.40 L853.08,220.60 L853.29,220.80 L853.50,221.00 L853.71,221.20 L853.92,221.40 L854.12,221.60 L854.31,221.80 L854.50,222.00 L854.68,222.20 L854.84,222.40 L854.99,222.60 L855.12,222.80 L855.23,223.00 L855.33,223.20 L855.40,223.40 L855.46,223.60 L855.49,223.80 L855.50,224.00" fill="none" stroke="#000" stroke-width="1.6" stroke-linejoin="round"/>
<path d="M841.50,224.00 L841.51,223.80 L841.54,223.60 L841.60,223.40 L841.67,223.20 L841.77,223.00 L841.88,222.80 L842.01,222.60 L842.16,222.40 L842.32,222.20 L842.50,222.00 L842.69,221.80 L842.88,221.60 L843.08,221.40 L843.29,221.20 L843.50,221.00 L843.71,220.80 L843.92,220.60 L844.12,220.40 L844.31,220.20 L844.50,220.00 L844.68,219.80 L844.84,219.60 L844.99,219.40 L845.12,219.20 L845.23,219.00 L845.33,218.80 L845.40,218.60 L845.46,218.40 L845.49,218.20 L845.50,218.00 L845.51,217.80 L845.52,217.60 L845.55,217.40 L845.60,217.20 L845.65,217.00 L845.71,216.80 L845.78,216.60 L845.86,216.40 L845.95,216.20 L846.05,216.00 L846.15,215.80 L846.26,215.60 L846.37,215.40 L846.49,215.20 L846.60,215.00 L846.71,214.80 L846.83,214.60 L846.94,214.40 L847.05,214.20 L847.15,214.00 L847.25,213.80 L847.34,213.60 L847.42,213.40 L847.49,213.20 L847.55,213.00 L847.60,212.80 L847.65,212.60 L847.68,212.40 L847.69,212.20 L847.70,212.00" fill="none" stroke="#000" stroke-width="1.6" stroke-linejoin="round"/>
<circle cx="829.50" cy="224.20" r="2.50" fill="#000" stroke="none" stroke-width="0"/>
<circle cx="834.50" cy="224.20" r="2.50" fill="#000" stroke="none" stroke-width="0"/>
<circle cx="840.50" cy="224.20" r="2.50" fill="#000" stroke="none" stroke-width="0"/>
<circle cx="845.50" cy="224.20" r="2.50" fill="#000" stroke="none" stroke-width="0"/>
<circle cx="851.50" cy="224.20" r="2.50" fill="#000" stroke="none" stroke-width="0"/>
<circle cx="856.50" cy="224.20" r="2.50" fill="#000" stroke="none" stroke-width="0"/>
<circle cx="861.50" cy="224.20" r="2.50" fill="#000" stroke="none" stroke-width="0"/>
<circle cx="866.50" cy="224.20" r="2.50" fill="#000" stroke="none" stroke-width="0"/>
<path d="M853.50,234.70 L853.53,236.50 L853.62,238.30 L853.75,240.10 L853.94,241.91 L854.15,243.71 L854.39,245.51 L854.63,247.31 L854.86,249.11 L855.08,250.91 L855.26,252.72 L855.39,254.52 L855.47,256.32 L855.50,258.12 L855.60,259.92 L855.86,261.73 L856.27,263.53 L856.81,265.33 L857.45,267.13 L858.14,268.93 L858.84,270.73 L859.52,272.53 L860.14,274.34 L860.65,276.14 L861.02,277.94 L861.24,279.74 L861.30,281.54 L861.37,283.35 L861.54,285.15 L861.80,286.95 L862.14,288.75 L862.53,290.55 L862.94,292.35 L863.37,294.15 L863.78,295.96 L864.14,297.76 L864.44,299.56 L864.65,301.36 L864.78,303.16 L864.80,304.97 L864.84,306.77 L864.93,308.57 L865.06,310.37 L865.21,312.17 L865.38,313.97 L865.54,315.77 L865.68,317.58 L865.80,319.38 L865.87,321.18 L865.90,322.98 L865.76,324.78 L865.38,326.59 L864.83,328.39 L864.26,330.19 L863.79,331.99 L863.53,333.79 L863.42,335.59 L862.93,337.39 L862.19,339.20 L861.55,341.00 L861.30,342.80 L835.70,342.80 L835.45,341.00 L834.81,339.20 L834.07,337.39 L833.58,335.59 L833.47,333.79 L833.21,331.99 L832.74,330.19 L832.17,328.39 L831.62,326.59 L831.24,324.78 L831.10,322.98 L831.13,321.18 L831.20,319.38 L831.32,317.58 L831.46,315.77 L831.62,313.97 L831.79,312.17 L831.94,310.37 L832.07,308.57 L832.16,306.77 L832.20,304.97 L832.22,303.16 L832.35,301.36 L832.56,299.56 L832.86,297.76 L833.22,295.96 L833.63,294.15 L834.06,292.35 L834.47,290.55 L834.86,288.75 L835.20,286.95 L835.46,285.15 L835.63,283.35 L835.70,281.54 L835.76,279.74 L835.98,277.94 L836.35,276.14 L836.86,274.34 L837.48,272.53 L838.16,270.73 L838.86,268.93 L839.55,267.13 L840.19,265.33 L840.73,263.53 L841.14,261.73 L841.40,259.92 L841.50,258.12 L841.53,256.32 L841.61,254.52 L841.74,252.72 L841.92,250.91 L842.14,249.11 L842.37,247.31 L842.61,245.51 L842.85,243.71 L843.06,241.91 L843.25,240.10 L843.38,238.30 L843.47,236.50 L843.50,234.70 Z" fill="#f0ccf0" stroke="none"/>
<path d="M853.50,234.70 L853.53,236.50 L853.62,238.30 L853.75,240.10 L853.94,241.91 L854.15,243.71 L854.39,245.51 L854.63,247.31 L854.86,249.11 L855.08,250.91 L855.26,252.72 L855.39,254.52 L855.47,256.32 L855.50,258.12 L855.60,259.92 L855.86,261.73 L856.27,263.53 L856.81,265.33 L857.45,267.13 L858.14,268.93 L858.84,270.73 L859.52,272.53 L860.14,274.34 L860.65,276.14 L861.02,277.94 L861.24,279.74 L861.30,281.54 L861.37,283.35 L861.54,285.15 L861.80,286.95 L862.14,288.75 L862.53,290.55 L862.94,292.35 L863.37,294.15 L863.78,295.96 L864.14,297.76 L864.44,299.56 L864.65,301.36 L864.78,303.16 L864.80,304.97 L864.84,306.77 L864.93,308.57 L865.06,310.37 L865.21,312.17 L865.38,313.97 L865.54,315.77 L865.68,317.58 L865.80,319.38 L865.87,321.18 L865.90,322.98 L865.76,324.78 L865.38,326.59 L864.83,328.39 L864.26,330.19 L863.79,331.99 L863.53,333.79 L863.42,335.59 L862.93,337.39 L862.19,339.20 L861.55,341.00 L861.30,342.80" fill="none" stroke="#000" stroke-width="1.6" stroke-linejoin="round"/>
<path d="M835.70,342.80 L835.45,341.00 L834.81,339.20 L834.07,337.39 L833.58,335.59 L833.47,333.79 L833.21,331.99 L832.74,330.19 L832.17,328.39 L831.62,326.59 L831.24,324.78 L831.10,322.98 L831.13,321.18 L831.20,319.38 L831.32,317.58 L831.46,315.77 L831.62,313.97 L831.79,312.17 L831.94,310.37 L832.07,308.57 L832.16,306.77 L832.20,304.97 L832.22,303.16 L832.35,301.36 L832.56,299.56 L832.86,297.76 L833.22,295.96 L833.63,294.15 L834.06,292.35 L834.47,290.55 L834.86,288.75 L835.20,286.95 L835.46,285.15 L835.63,283.35 L835.70,281.54 L835.76,279.74 L835.98,277.94 L836.35,276.14 L836.86,274.34 L837.48,272.53 L838.16,270.73 L838.86,268.93 L839.55,267.13 L840.19,265.33 L840.73,263.53 L841.14,261.73 L841.40,259.92 L841.50,258.12 L841.53,256.32 L841.61,254.52 L841.74,252.72 L841.92,250.91 L842.14,249.11 L842.37,247.31 L842.61,245.51 L842.85,243.71 L843.06,241.91 L843.25,240.10 L843.38,238.30 L843.47,236.50 L843.50,234.70" fill="none" stroke="#000" stroke-width="1.6" stroke-linejoin="round"/>
<line x1="835.70" y1="342.80" x2="861.30" y2="342.80" stroke="#000" stroke-width="1.8" />
<circle cx="845.07" cy="254.00" r="2.50" fill="#000" stroke="none" stroke-width="0"/>
<circle cx="850.49" cy="262.00" r="2.50" fill="#000" stroke="none" stroke-width="0"/>
<circle cx="850.34" cy="266.00" r="2.50" fill="#000" stroke="none" stroke-width="0"/>
<circle cx="856.72" cy="275.00" r="2.50" fill="#000" stroke="none" stroke-width="0"/>
<circle cx="844.10" cy="276.00" r="2.50" fill="#000" stroke="none" stroke-width="0"/>
<circle cx="843.62" cy="283.00" r="2.50" fill="#000" stroke="none" stroke-width="0"/>
<circle cx="853.18" cy="286.00" r="2.50" fill="#000" stroke="none" stroke-width="0"/>
<circle cx="851.67" cy="290.00" r="2.50" fill="#000" stroke="none" stroke-width="0"/>
<circle cx="844.56" cy="293.00" r="2.50" fill="#000" stroke="none" stroke-width="0"/>
<circle cx="852.18" cy="296.00" r="2.50" fill="#000" stroke="none" stroke-width="0"/>
<circle cx="846.43" cy="299.00" r="2.50" fill="#000" stroke="none" stroke-width="0"/>
<circle cx="854.05" cy="302.00" r="2.50" fill="#000" stroke="none" stroke-width="0"/>
<circle cx="840.87" cy="305.00" r="2.50" fill="#000" stroke="none" stroke-width="0"/>
<circle cx="842.97" cy="308.00" r="2.50" fill="#000" stroke="none" stroke-width="0"/>
<circle cx="856.53" cy="311.00" r="2.50" fill="#000" stroke="none" stroke-width="0"/>
<circle cx="845.66" cy="314.00" r="2.50" fill="#000" stroke="none" stroke-width="0"/>
<circle cx="843.71" cy="317.00" r="2.50" fill="#000" stroke="none" stroke-width="0"/>
<circle cx="854.59" cy="320.00" r="2.50" fill="#000" stroke="none" stroke-width="0"/>
<circle cx="851.13" cy="323.00" r="2.50" fill="#000" stroke="none" stroke-width="0"/>
<circle cx="841.49" cy="326.00" r="2.50" fill="#000" stroke="none" stroke-width="0"/>
<circle cx="849.53" cy="329.00" r="2.50" fill="#000" stroke="none" stroke-width="0"/>
<circle cx="851.78" cy="332.00" r="2.50" fill="#000" stroke="none" stroke-width="0"/>
<circle cx="841.80" cy="335.00" r="2.50" fill="#000" stroke="none" stroke-width="0"/>
<circle cx="851.53" cy="338.00" r="2.50" fill="#000" stroke="none" stroke-width="0"/>
<circle cx="840.96" cy="341.00" r="2.50" fill="#000" stroke="none" stroke-width="0"/>
<circle cx="845.50" cy="257.00" r="2.50" fill="#000" stroke="none" stroke-width="0"/>
<circle cx="853.50" cy="273.00" r="2.50" fill="#000" stroke="none" stroke-width="0"/>
<circle cx="856.50" cy="275.00" r="2.50" fill="#000" stroke="none" stroke-width="0"/>
<circle cx="838.50" cy="303.00" r="2.50" fill="#000" stroke="none" stroke-width="0"/>
<circle cx="860.50" cy="303.00" r="2.50" fill="#000" stroke="none" stroke-width="0"/>
<circle cx="836.50" cy="320.00" r="2.50" fill="#000" stroke="none" stroke-width="0"/>
<circle cx="862.50" cy="320.00" r="2.50" fill="#000" stroke="none" stroke-width="0"/>
<circle cx="862.50" cy="338.00" r="2.50" fill="#000" stroke="none" stroke-width="0"/>
<line x1="832.50" y1="304.50" x2="840.50" y2="304.50" stroke="#e8403f" stroke-width="2.2" />
<line x1="853.50" y1="304.50" x2="863.50" y2="304.50" stroke="#e8403f" stroke-width="2.2" />
<text transform="translate(920.83,338.92) rotate(-90)" x="0" y="0" font-size="33.70" font-style="normal" fill="#000" textLength="236.05" lengthAdjust="spacingAndGlyphs">Spores/mosquito</text>
<line x1="1004.20" y1="104.20" x2="1004.20" y2="231.00" stroke="#000" stroke-width="2.3" />
<line x1="1004.20" y1="233.00" x2="1004.20" y2="346.60" stroke="#000" stroke-width="2.3" />
<line x1="1000.20" y1="228.00" x2="1008.20" y2="235.00" stroke="#000" stroke-width="1.8" />
<line x1="1000.20" y1="229.00" x2="1008.20" y2="236.00" stroke="#000" stroke-width="1.8" />
<line x1="995.70" y1="104.20" x2="1004.20" y2="104.20" stroke="#000" stroke-width="2.3" />
<line x1="995.70" y1="151.60" x2="1004.20" y2="151.60" stroke="#000" stroke-width="2.3" />
<line x1="995.70" y1="198.60" x2="1004.20" y2="198.60" stroke="#000" stroke-width="2.3" />
<line x1="995.70" y1="245.90" x2="1004.20" y2="245.90" stroke="#000" stroke-width="2.3" />
<line x1="995.70" y1="279.50" x2="1004.20" y2="279.50" stroke="#000" stroke-width="2.3" />
<line x1="995.70" y1="313.00" x2="1004.20" y2="313.00" stroke="#000" stroke-width="2.3" />
<line x1="995.70" y1="346.60" x2="1004.20" y2="346.60" stroke="#000" stroke-width="2.3" />
<text x="927.01" y="114.90" font-size="31.00" fill="#000">1500</text>
<text x="927.01" y="162.29" font-size="31.00" fill="#000">1000</text>
<text x="944.37" y="209.29" font-size="31.00" fill="#000">500</text>
<text x="944.37" y="256.60" font-size="31.00" fill="#000">180</text>
<text x="944.37" y="290.19" font-size="31.00" fill="#000">120</text>
<text x="961.57" y="323.69" font-size="31.00" fill="#000">60</text>
<text x="978.78" y="357.30" font-size="31.00" fill="#000">0</text>
<line x1="1004.20" y1="346.60" x2="1317.00" y2="346.60" stroke="#000" stroke-width="2.3" />
<line x1="1044.00" y1="346.60" x2="1044.00" y2="354.10" stroke="#000" stroke-width="2.3" />
<line x1="1102.60" y1="346.60" x2="1102.60" y2="354.10" stroke="#000" stroke-width="2.3" />
<line x1="1219.30" y1="346.60" x2="1219.30" y2="354.10" stroke="#000" stroke-width="2.3" />
<line x1="1278.20" y1="346.60" x2="1278.20" y2="354.10" stroke="#000" stroke-width="2.3" />
<line x1="1161.50" y1="80.00" x2="1161.50" y2="353.60" stroke="#000" stroke-width="2.5" stroke-dasharray="8,5"/>
<line x1="1043.00" y1="361.50" x2="1105.60" y2="361.50" stroke="#000" stroke-width="2" />
<line x1="1214.80" y1="361.50" x2="1280.80" y2="361.50" stroke="#000" stroke-width="2" />
<text x="1027.44" y="390.20" font-size="31.40" font-weight="normal" font-style="normal" fill="#000" textLength="106.79" lengthAdjust="spacingAndGlyphs">Female</text>
<text x="1214.81" y="391.30" font-size="31.40" font-weight="normal" font-style="normal" fill="#000" textLength="70.13" lengthAdjust="spacingAndGlyphs">Male</text>
<line x1="1028.40" y1="398.00" x2="1289.40" y2="398.00" stroke="#000" stroke-width="2" />
<text x="1138.54" y="426.00" font-size="30.50" font-weight="normal" font-style="normal" fill="#000" textLength="54.71" lengthAdjust="spacingAndGlyphs">12h</text>
<text x="1036.01" y="169.24" font-size="23.00" font-weight="normal" font-style="normal" fill="#1a1ae6">B</text>
<text x="1096.05" y="156.94" font-size="23.00" font-weight="normal" font-style="normal" fill="#1a1ae6">A</text>
<text x="1210.61" y="178.13" font-size="23.00" font-weight="normal" font-style="normal" fill="#1a1ae6">B</text>
<text x="1262.28" y="148.34" font-size="23.00" font-weight="normal" font-style="normal" fill="#1a1ae6">AB</text>
<path d="M1046.00,178.80 L1046.00,179.56 L1046.01,180.32 L1046.02,181.09 L1046.04,181.85 L1046.06,182.61 L1046.08,183.37 L1046.11,184.13 L1046.14,184.89 L1046.17,185.66 L1046.20,186.42 L1046.24,187.18 L1046.28,187.94 L1046.31,188.70 L1046.35,189.46 L1046.39,190.22 L1046.42,190.99 L1046.46,191.75 L1046.49,192.51 L1046.51,193.27 L1046.54,194.03 L1046.56,194.80 L1046.58,195.56 L1046.59,196.32 L1046.60,197.08 L1046.60,197.84 L1046.67,198.60 L1046.92,199.37 L1047.31,200.13 L1047.75,200.89 L1048.13,201.65 L1048.36,202.41 L1048.40,203.17 L1048.47,203.94 L1048.60,204.70 L1048.80,205.46 L1049.04,206.22 L1049.32,206.98 L1049.62,207.74 L1049.91,208.50 L1050.19,209.27 L1050.43,210.03 L1050.62,210.79 L1050.74,211.55 L1050.80,212.31 L1050.83,213.07 L1050.95,213.84 L1051.15,214.60 L1051.44,215.36 L1051.80,216.12 L1052.21,216.88 L1052.67,217.65 L1053.14,218.41 L1053.62,219.17 L1054.08,219.93 L1054.50,220.69 L1054.88,221.45 L1055.18,222.22 L1055.41,222.98 L1055.55,223.74 L1055.60,224.50 L1034.00,224.50 L1034.05,223.74 L1034.19,222.98 L1034.42,222.22 L1034.72,221.45 L1035.10,220.69 L1035.52,219.93 L1035.98,219.17 L1036.46,218.41 L1036.93,217.65 L1037.39,216.88 L1037.80,216.12 L1038.16,215.36 L1038.45,214.60 L1038.65,213.84 L1038.77,213.07 L1038.80,212.31 L1038.86,211.55 L1038.98,210.79 L1039.17,210.03 L1039.41,209.27 L1039.69,208.50 L1039.98,207.74 L1040.28,206.98 L1040.56,206.22 L1040.80,205.46 L1041.00,204.70 L1041.13,203.94 L1041.20,203.17 L1041.24,202.41 L1041.47,201.65 L1041.85,200.89 L1042.29,200.13 L1042.68,199.37 L1042.93,198.60 L1043.00,197.84 L1043.00,197.08 L1043.01,196.32 L1043.02,195.56 L1043.04,194.80 L1043.06,194.03 L1043.09,193.27 L1043.11,192.51 L1043.14,191.75 L1043.18,190.99 L1043.21,190.22 L1043.25,189.46 L1043.29,188.70 L1043.32,187.94 L1043.36,187.18 L1043.40,186.42 L1043.43,185.66 L1043.46,184.89 L1043.49,184.13 L1043.52,183.37 L1043.54,182.61 L1043.56,181.85 L1043.58,181.09 L1043.59,180.32 L1043.60,179.56 L1043.60,178.80 Z" fill="#d0fcd0" stroke="none"/>
<path d="M1046.00,178.80 L1046.00,179.56 L1046.01,180.32 L1046.02,181.09 L1046.04,181.85 L1046.06,182.61 L1046.08,183.37 L1046.11,184.13 L1046.14,184.89 L1046.17,185.66 L1046.20,186.42 L1046.24,187.18 L1046.28,187.94 L1046.31,188.70 L1046.35,189.46 L1046.39,190.22 L1046.42,190.99 L1046.46,191.75 L1046.49,192.51 L1046.51,193.27 L1046.54,194.03 L1046.56,194.80 L1046.58,195.56 L1046.59,196.32 L1046.60,197.08 L1046.60,197.84 L1046.67,198.60 L1046.92,199.37 L1047.31,200.13 L1047.75,200.89 L1048.13,201.65 L1048.36,202.41 L1048.40,203.17 L1048.47,203.94 L1048.60,204.70 L1048.80,205.46 L1049.04,206.22 L1049.32,206.98 L1049.62,207.74 L1049.91,208.50 L1050.19,209.27 L1050.43,210.03 L1050.62,210.79 L1050.74,211.55 L1050.80,212.31 L1050.83,213.07 L1050.95,213.84 L1051.15,214.60 L1051.44,215.36 L1051.80,216.12 L1052.21,216.88 L1052.67,217.65 L1053.14,218.41 L1053.62,219.17 L1054.08,219.93 L1054.50,220.69 L1054.88,221.45 L1055.18,222.22 L1055.41,222.98 L1055.55,223.74 L1055.60,224.50" fill="none" stroke="#000" stroke-width="1.6" stroke-linejoin="round"/>
<path d="M1034.00,224.50 L1034.05,223.74 L1034.19,222.98 L1034.42,222.22 L1034.72,221.45 L1035.10,220.69 L1035.52,219.93 L1035.98,219.17 L1036.46,218.41 L1036.93,217.65 L1037.39,216.88 L1037.80,216.12 L1038.16,215.36 L1038.45,214.60 L1038.65,213.84 L1038.77,213.07 L1038.80,212.31 L1038.86,211.55 L1038.98,210.79 L1039.17,210.03 L1039.41,209.27 L1039.69,208.50 L1039.98,207.74 L1040.28,206.98 L1040.56,206.22 L1040.80,205.46 L1041.00,204.70 L1041.13,203.94 L1041.20,203.17 L1041.24,202.41 L1041.47,201.65 L1041.85,200.89 L1042.29,200.13 L1042.68,199.37 L1042.93,198.60 L1043.00,197.84 L1043.00,197.08 L1043.01,196.32 L1043.02,195.56 L1043.04,194.80 L1043.06,194.03 L1043.09,193.27 L1043.11,192.51 L1043.14,191.75 L1043.18,190.99 L1043.21,190.22 L1043.25,189.46 L1043.29,188.70 L1043.32,187.94 L1043.36,187.18 L1043.40,186.42 L1043.43,185.66 L1043.46,184.89 L1043.49,184.13 L1043.52,183.37 L1043.54,182.61 L1043.56,181.85 L1043.58,181.09 L1043.59,180.32 L1043.60,179.56 L1043.60,178.80" fill="none" stroke="#000" stroke-width="1.6" stroke-linejoin="round"/>
<line x1="1034.00" y1="224.50" x2="1055.60" y2="224.50" stroke="#000" stroke-width="1.8" />
<circle cx="1030.80" cy="201.00" r="2.50" fill="#000" stroke="none" stroke-width="0"/>
<circle cx="1037.80" cy="201.00" r="2.50" fill="#000" stroke="none" stroke-width="0"/>
<circle cx="1044.80" cy="201.00" r="2.50" fill="#000" stroke="none" stroke-width="0"/>
<circle cx="1051.80" cy="201.00" r="2.50" fill="#000" stroke="none" stroke-width="0"/>
<circle cx="1044.80" cy="206.00" r="2.50" fill="#000" stroke="none" stroke-width="0"/>
<circle cx="1030.80" cy="213.00" r="2.50" fill="#000" stroke="none" stroke-width="0"/>
<circle cx="1036.80" cy="213.00" r="2.50" fill="#000" stroke="none" stroke-width="0"/>
<circle cx="1052.80" cy="213.00" r="2.50" fill="#000" stroke="none" stroke-width="0"/>
<circle cx="1058.80" cy="213.00" r="2.50" fill="#000" stroke="none" stroke-width="0"/>
<circle cx="1030.80" cy="218.00" r="2.50" fill="#000" stroke="none" stroke-width="0"/>
<circle cx="1058.80" cy="218.00" r="2.50" fill="#000" stroke="none" stroke-width="0"/>
<circle cx="1036.80" cy="223.00" r="2.50" fill="#000" stroke="none" stroke-width="0"/>
<circle cx="1044.80" cy="223.00" r="2.50" fill="#000" stroke="none" stroke-width="0"/>
<circle cx="1052.80" cy="223.00" r="2.50" fill="#000" stroke="none" stroke-width="0"/>
<circle cx="1041.80" cy="210.00" r="2.50" fill="#000" stroke="none" stroke-width="0"/>
<circle cx="1047.80" cy="216.00" r="2.50" fill="#000" stroke="none" stroke-width="0"/>
<path d="M1056.20,234.10 L1056.22,235.97 L1056.26,237.85 L1056.34,239.72 L1056.45,241.60 L1056.58,243.47 L1056.73,245.35 L1056.90,247.22 L1057.09,249.10 L1057.28,250.97 L1057.47,252.85 L1057.67,254.72 L1057.85,256.60 L1058.03,258.48 L1058.19,260.35 L1058.32,262.23 L1058.43,264.10 L1058.52,265.98 L1058.57,267.85 L1058.60,269.73 L1058.63,271.60 L1058.74,273.48 L1058.93,275.35 L1059.19,277.23 L1059.51,279.10 L1059.86,280.98 L1060.23,282.85 L1060.59,284.73 L1060.92,286.60 L1061.20,288.48 L1061.41,290.35 L1061.55,292.23 L1061.60,294.10 L1061.61,295.98 L1061.62,297.85 L1061.65,299.73 L1061.69,301.60 L1061.73,303.48 L1061.78,305.35 L1061.83,307.23 L1061.87,309.10 L1061.92,310.98 L1061.95,312.85 L1061.98,314.73 L1062.00,316.60 L1062.00,318.48 L1061.97,320.35 L1061.89,322.23 L1061.77,324.10 L1061.62,325.98 L1061.45,327.85 L1061.25,329.73 L1061.06,331.60 L1060.87,333.48 L1060.71,335.35 L1060.57,337.23 L1060.47,339.10 L1060.41,340.98 L1060.38,342.85 L1060.04,344.73 L1059.80,346.60 L1029.80,346.60 L1029.56,344.73 L1029.22,342.85 L1029.19,340.98 L1029.13,339.10 L1029.03,337.23 L1028.89,335.35 L1028.73,333.48 L1028.54,331.60 L1028.35,329.73 L1028.15,327.85 L1027.98,325.98 L1027.83,324.10 L1027.71,322.23 L1027.63,320.35 L1027.60,318.48 L1027.60,316.60 L1027.62,314.73 L1027.65,312.85 L1027.68,310.98 L1027.73,309.10 L1027.77,307.23 L1027.82,305.35 L1027.87,303.48 L1027.91,301.60 L1027.95,299.73 L1027.98,297.85 L1027.99,295.98 L1028.00,294.10 L1028.05,292.23 L1028.19,290.35 L1028.40,288.48 L1028.68,286.60 L1029.01,284.73 L1029.37,282.85 L1029.74,280.98 L1030.09,279.10 L1030.41,277.23 L1030.67,275.35 L1030.86,273.48 L1030.97,271.60 L1031.00,269.73 L1031.03,267.85 L1031.08,265.98 L1031.17,264.10 L1031.28,262.23 L1031.41,260.35 L1031.57,258.48 L1031.75,256.60 L1031.93,254.72 L1032.13,252.85 L1032.32,250.97 L1032.51,249.10 L1032.70,247.22 L1032.87,245.35 L1033.02,243.47 L1033.15,241.60 L1033.26,239.72 L1033.34,237.85 L1033.38,235.97 L1033.40,234.10 Z" fill="#d0fcd0" stroke="none"/>
<path d="M1056.20,234.10 L1056.22,235.97 L1056.26,237.85 L1056.34,239.72 L1056.45,241.60 L1056.58,243.47 L1056.73,245.35 L1056.90,247.22 L1057.09,249.10 L1057.28,250.97 L1057.47,252.85 L1057.67,254.72 L1057.85,256.60 L1058.03,258.48 L1058.19,260.35 L1058.32,262.23 L1058.43,264.10 L1058.52,265.98 L1058.57,267.85 L1058.60,269.73 L1058.63,271.60 L1058.74,273.48 L1058.93,275.35 L1059.19,277.23 L1059.51,279.10 L1059.86,280.98 L1060.23,282.85 L1060.59,284.73 L1060.92,286.60 L1061.20,288.48 L1061.41,290.35 L1061.55,292.23 L1061.60,294.10 L1061.61,295.98 L1061.62,297.85 L1061.65,299.73 L1061.69,301.60 L1061.73,303.48 L1061.78,305.35 L1061.83,307.23 L1061.87,309.10 L1061.92,310.98 L1061.95,312.85 L1061.98,314.73 L1062.00,316.60 L1062.00,318.48 L1061.97,320.35 L1061.89,322.23 L1061.77,324.10 L1061.62,325.98 L1061.45,327.85 L1061.25,329.73 L1061.06,331.60 L1060.87,333.48 L1060.71,335.35 L1060.57,337.23 L1060.47,339.10 L1060.41,340.98 L1060.38,342.85 L1060.04,344.73 L1059.80,346.60" fill="none" stroke="#000" stroke-width="1.6" stroke-linejoin="round"/>
<path d="M1029.80,346.60 L1029.56,344.73 L1029.22,342.85 L1029.19,340.98 L1029.13,339.10 L1029.03,337.23 L1028.89,335.35 L1028.73,333.48 L1028.54,331.60 L1028.35,329.73 L1028.15,327.85 L1027.98,325.98 L1027.83,324.10 L1027.71,322.23 L1027.63,320.35 L1027.60,318.48 L1027.60,316.60 L1027.62,314.73 L1027.65,312.85 L1027.68,310.98 L1027.73,309.10 L1027.77,307.23 L1027.82,305.35 L1027.87,303.48 L1027.91,301.60 L1027.95,299.73 L1027.98,297.85 L1027.99,295.98 L1028.00,294.10 L1028.05,292.23 L1028.19,290.35 L1028.40,288.48 L1028.68,286.60 L1029.01,284.73 L1029.37,282.85 L1029.74,280.98 L1030.09,279.10 L1030.41,277.23 L1030.67,275.35 L1030.86,273.48 L1030.97,271.60 L1031.00,269.73 L1031.03,267.85 L1031.08,265.98 L1031.17,264.10 L1031.28,262.23 L1031.41,260.35 L1031.57,258.48 L1031.75,256.60 L1031.93,254.72 L1032.13,252.85 L1032.32,250.97 L1032.51,249.10 L1032.70,247.22 L1032.87,245.35 L1033.02,243.47 L1033.15,241.60 L1033.26,239.72 L1033.34,237.85 L1033.38,235.97 L1033.40,234.10" fill="none" stroke="#000" stroke-width="1.6" stroke-linejoin="round"/>
<circle cx="1039.80" cy="239.00" r="2.50" fill="#000" stroke="none" stroke-width="0"/>
<circle cx="1035.80" cy="246.00" r="2.50" fill="#000" stroke="none" stroke-width="0"/>
<circle cx="1035.80" cy="251.00" r="2.50" fill="#000" stroke="none" stroke-width="0"/>
<circle cx="1049.80" cy="262.00" r="2.50" fill="#000" stroke="none" stroke-width="0"/>
<circle cx="1035.80" cy="268.00" r="2.50" fill="#000" stroke="none" stroke-width="0"/>
<circle cx="1039.80" cy="272.00" r="2.50" fill="#000" stroke="none" stroke-width="0"/>
<circle cx="1035.80" cy="280.00" r="2.50" fill="#000" stroke="none" stroke-width="0"/>
<circle cx="1053.80" cy="288.00" r="2.50" fill="#000" stroke="none" stroke-width="0"/>
<circle cx="1039.80" cy="295.00" r="2.50" fill="#000" stroke="none" stroke-width="0"/>
<circle cx="1053.80" cy="305.00" r="2.50" fill="#000" stroke="none" stroke-width="0"/>
<circle cx="1053.80" cy="310.00" r="2.50" fill="#000" stroke="none" stroke-width="0"/>
<circle cx="1039.80" cy="315.00" r="2.50" fill="#000" stroke="none" stroke-width="0"/>
<circle cx="1044.80" cy="318.00" r="2.50" fill="#000" stroke="none" stroke-width="0"/>
<circle cx="1044.80" cy="321.00" r="2.50" fill="#000" stroke="none" stroke-width="0"/>
<circle cx="1049.80" cy="325.00" r="2.50" fill="#000" stroke="none" stroke-width="0"/>
<circle cx="1053.80" cy="329.00" r="2.50" fill="#000" stroke="none" stroke-width="0"/>
<circle cx="1035.80" cy="332.00" r="2.50" fill="#000" stroke="none" stroke-width="0"/>
<circle cx="1044.80" cy="336.00" r="2.50" fill="#000" stroke="none" stroke-width="0"/>
<circle cx="1039.80" cy="340.00" r="2.50" fill="#000" stroke="none" stroke-width="0"/>
<circle cx="1039.80" cy="344.00" r="2.50" fill="#000" stroke="none" stroke-width="0"/>
<circle cx="1037.80" cy="310.00" r="2.50" fill="#000" stroke="none" stroke-width="0"/>
<circle cx="1051.80" cy="310.00" r="2.50" fill="#000" stroke="none" stroke-width="0"/>
<circle cx="1033.80" cy="321.00" r="2.50" fill="#000" stroke="none" stroke-width="0"/>
<circle cx="1055.80" cy="321.00" r="2.50" fill="#000" stroke="none" stroke-width="0"/>
<circle cx="1037.80" cy="329.00" r="2.50" fill="#000" stroke="none" stroke-width="0"/>
<circle cx="1051.80" cy="329.00" r="2.50" fill="#000" stroke="none" stroke-width="0"/>
<circle cx="1033.80" cy="336.00" r="2.50" fill="#000" stroke="none" stroke-width="0"/>
<circle cx="1055.80" cy="336.00" r="2.50" fill="#000" stroke="none" stroke-width="0"/>
<circle cx="1037.80" cy="344.00" r="2.50" fill="#000" stroke="none" stroke-width="0"/>
<circle cx="1051.80" cy="344.00" r="2.50" fill="#000" stroke="none" stroke-width="0"/>
<line x1="1027.80" y1="284.60" x2="1061.80" y2="284.60" stroke="#e8403f" stroke-width="2.4" stroke-dasharray="8,4"/>
<path d="M1107.30,170.40 L1107.33,171.30 L1107.40,172.20 L1107.53,173.11 L1107.70,174.01 L1107.92,174.91 L1108.16,175.81 L1108.43,176.71 L1108.71,177.61 L1109.00,178.52 L1109.29,179.42 L1109.56,180.32 L1109.81,181.22 L1110.04,182.12 L1110.22,183.02 L1110.36,183.93 L1110.46,184.83 L1110.50,185.73 L1110.51,186.63 L1110.56,187.53 L1110.66,188.43 L1110.79,189.34 L1110.94,190.24 L1111.12,191.14 L1111.31,192.04 L1111.50,192.94 L1111.67,193.84 L1111.83,194.75 L1111.95,195.65 L1112.04,196.55 L1112.09,197.45 L1112.11,198.35 L1112.18,199.25 L1112.32,200.16 L1112.54,201.06 L1112.83,201.96 L1113.16,202.86 L1113.53,203.76 L1113.93,204.66 L1114.34,205.56 L1114.75,206.47 L1115.13,207.37 L1115.48,208.27 L1115.78,209.17 L1116.02,210.07 L1116.19,210.97 L1116.28,211.88 L1116.30,212.78 L1116.36,213.68 L1116.47,214.58 L1116.65,215.48 L1116.87,216.38 L1117.13,217.29 L1117.40,218.19 L1117.68,219.09 L1117.96,219.99 L1118.20,220.89 L1118.41,221.80 L1118.57,222.70 L1118.67,223.60 L1118.70,224.50 L1086.30,224.50 L1086.33,223.60 L1086.43,222.70 L1086.59,221.80 L1086.80,220.89 L1087.04,219.99 L1087.32,219.09 L1087.60,218.19 L1087.87,217.29 L1088.13,216.38 L1088.35,215.48 L1088.53,214.58 L1088.64,213.68 L1088.70,212.78 L1088.72,211.88 L1088.81,210.97 L1088.98,210.07 L1089.22,209.17 L1089.52,208.27 L1089.87,207.37 L1090.25,206.47 L1090.66,205.56 L1091.07,204.66 L1091.47,203.76 L1091.84,202.86 L1092.17,201.96 L1092.46,201.06 L1092.68,200.16 L1092.82,199.25 L1092.89,198.35 L1092.91,197.45 L1092.96,196.55 L1093.05,195.65 L1093.17,194.75 L1093.33,193.84 L1093.50,192.94 L1093.69,192.04 L1093.88,191.14 L1094.06,190.24 L1094.21,189.34 L1094.34,188.43 L1094.44,187.53 L1094.49,186.63 L1094.50,185.73 L1094.54,184.83 L1094.64,183.93 L1094.78,183.02 L1094.96,182.12 L1095.19,181.22 L1095.44,180.32 L1095.71,179.42 L1096.00,178.52 L1096.29,177.61 L1096.57,176.71 L1096.84,175.81 L1097.08,174.91 L1097.30,174.01 L1097.47,173.11 L1097.60,172.20 L1097.67,171.30 L1097.70,170.40 Z" fill="#f0ccf0" stroke="none"/>
<path d="M1107.30,170.40 L1107.33,171.30 L1107.40,172.20 L1107.53,173.11 L1107.70,174.01 L1107.92,174.91 L1108.16,175.81 L1108.43,176.71 L1108.71,177.61 L1109.00,178.52 L1109.29,179.42 L1109.56,180.32 L1109.81,181.22 L1110.04,182.12 L1110.22,183.02 L1110.36,183.93 L1110.46,184.83 L1110.50,185.73 L1110.51,186.63 L1110.56,187.53 L1110.66,188.43 L1110.79,189.34 L1110.94,190.24 L1111.12,191.14 L1111.31,192.04 L1111.50,192.94 L1111.67,193.84 L1111.83,194.75 L1111.95,195.65 L1112.04,196.55 L1112.09,197.45 L1112.11,198.35 L1112.18,199.25 L1112.32,200.16 L1112.54,201.06 L1112.83,201.96 L1113.16,202.86 L1113.53,203.76 L1113.93,204.66 L1114.34,205.56 L1114.75,206.47 L1115.13,207.37 L1115.48,208.27 L1115.78,209.17 L1116.02,210.07 L1116.19,210.97 L1116.28,211.88 L1116.30,212.78 L1116.36,213.68 L1116.47,214.58 L1116.65,215.48 L1116.87,216.38 L1117.13,217.29 L1117.40,218.19 L1117.68,219.09 L1117.96,219.99 L1118.20,220.89 L1118.41,221.80 L1118.57,222.70 L1118.67,223.60 L1118.70,224.50" fill="none" stroke="#000" stroke-width="1.6" stroke-linejoin="round"/>
<path d="M1086.30,224.50 L1086.33,223.60 L1086.43,222.70 L1086.59,221.80 L1086.80,220.89 L1087.04,219.99 L1087.32,219.09 L1087.60,218.19 L1087.87,217.29 L1088.13,216.38 L1088.35,215.48 L1088.53,214.58 L1088.64,213.68 L1088.70,212.78 L1088.72,211.88 L1088.81,210.97 L1088.98,210.07 L1089.22,209.17 L1089.52,208.27 L1089.87,207.37 L1090.25,206.47 L1090.66,205.56 L1091.07,204.66 L1091.47,203.76 L1091.84,202.86 L1092.17,201.96 L1092.46,201.06 L1092.68,200.16 L1092.82,199.25 L1092.89,198.35 L1092.91,197.45 L1092.96,196.55 L1093.05,195.65 L1093.17,194.75 L1093.33,193.84 L1093.50,192.94 L1093.69,192.04 L1093.88,191.14 L1094.06,190.24 L1094.21,189.34 L1094.34,188.43 L1094.44,187.53 L1094.49,186.63 L1094.50,185.73 L1094.54,184.83 L1094.64,183.93 L1094.78,183.02 L1094.96,182.12 L1095.19,181.22 L1095.44,180.32 L1095.71,179.42 L1096.00,178.52 L1096.29,177.61 L1096.57,176.71 L1096.84,175.81 L1097.08,174.91 L1097.30,174.01 L1097.47,173.11 L1097.60,172.20 L1097.67,171.30 L1097.70,170.40" fill="none" stroke="#000" stroke-width="1.6" stroke-linejoin="round"/>
<line x1="1097.70" y1="170.40" x2="1107.30" y2="170.40" stroke="#000" stroke-width="1.8" />
<line x1="1086.30" y1="224.50" x2="1118.70" y2="224.50" stroke="#000" stroke-width="1.8" />
<circle cx="1099.50" cy="173.00" r="2.50" fill="#000" stroke="none" stroke-width="0"/>
<circle cx="1105.50" cy="173.00" r="2.50" fill="#000" stroke="none" stroke-width="0"/>
<circle cx="1099.50" cy="178.00" r="2.50" fill="#000" stroke="none" stroke-width="0"/>
<circle cx="1112.50" cy="180.00" r="2.50" fill="#000" stroke="none" stroke-width="0"/>
<circle cx="1099.50" cy="184.00" r="2.50" fill="#000" stroke="none" stroke-width="0"/>
<circle cx="1105.50" cy="186.00" r="2.50" fill="#000" stroke="none" stroke-width="0"/>
<circle cx="1099.50" cy="191.00" r="2.50" fill="#000" stroke="none" stroke-width="0"/>
<circle cx="1105.50" cy="193.00" r="2.50" fill="#000" stroke="none" stroke-width="0"/>
<circle cx="1120.50" cy="197.00" r="2.50" fill="#000" stroke="none" stroke-width="0"/>
<circle cx="1088.50" cy="203.00" r="2.50" fill="#000" stroke="none" stroke-width="0"/>
<circle cx="1099.50" cy="203.00" r="2.50" fill="#000" stroke="none" stroke-width="0"/>
<circle cx="1110.50" cy="203.00" r="2.50" fill="#000" stroke="none" stroke-width="0"/>
<circle cx="1088.50" cy="208.00" r="2.50" fill="#000" stroke="none" stroke-width="0"/>
<circle cx="1099.50" cy="208.00" r="2.50" fill="#000" stroke="none" stroke-width="0"/>
<circle cx="1110.50" cy="208.00" r="2.50" fill="#000" stroke="none" stroke-width="0"/>
<circle cx="1120.50" cy="211.00" r="2.50" fill="#000" stroke="none" stroke-width="0"/>
<circle cx="1099.50" cy="214.00" r="2.50" fill="#000" stroke="none" stroke-width="0"/>
<circle cx="1107.50" cy="214.00" r="2.50" fill="#000" stroke="none" stroke-width="0"/>
<circle cx="1090.50" cy="224.00" r="2.50" fill="#000" stroke="none" stroke-width="0"/>
<circle cx="1099.50" cy="224.00" r="2.50" fill="#000" stroke="none" stroke-width="0"/>
<circle cx="1107.50" cy="224.00" r="2.50" fill="#000" stroke="none" stroke-width="0"/>
<circle cx="1115.50" cy="224.00" r="2.50" fill="#000" stroke="none" stroke-width="0"/>
<path d="M1120.80,234.10 L1120.80,235.72 L1120.80,237.34 L1120.81,238.97 L1120.82,240.59 L1120.82,242.21 L1120.83,243.83 L1120.84,245.45 L1120.86,247.07 L1120.87,248.69 L1120.88,250.32 L1120.90,251.94 L1120.91,253.56 L1120.93,255.18 L1120.94,256.80 L1120.95,258.43 L1120.96,260.05 L1120.97,261.67 L1120.98,263.29 L1120.99,264.91 L1120.99,266.53 L1121.00,268.15 L1121.00,269.78 L1120.99,271.40 L1120.97,273.02 L1120.91,274.64 L1120.84,276.26 L1120.75,277.88 L1120.64,279.51 L1120.52,281.13 L1120.38,282.75 L1120.23,284.37 L1120.07,285.99 L1119.91,287.62 L1119.75,289.24 L1119.59,290.86 L1119.43,292.48 L1119.28,294.10 L1119.15,295.72 L1119.03,297.34 L1118.92,298.97 L1118.84,300.59 L1118.77,302.21 L1118.72,303.83 L1118.70,305.45 L1118.69,307.07 L1118.61,308.70 L1118.47,310.32 L1118.26,311.94 L1117.99,313.56 L1117.68,315.18 L1117.34,316.80 L1116.98,318.43 L1116.62,320.05 L1116.27,321.67 L1115.94,323.29 L1115.66,324.91 L1115.42,326.53 L1115.25,328.16 L1115.14,329.78 L1115.10,331.40 L1089.90,331.40 L1089.86,329.78 L1089.75,328.16 L1089.58,326.53 L1089.34,324.91 L1089.06,323.29 L1088.73,321.67 L1088.38,320.05 L1088.02,318.43 L1087.66,316.80 L1087.32,315.18 L1087.01,313.56 L1086.74,311.94 L1086.53,310.32 L1086.39,308.70 L1086.31,307.07 L1086.30,305.45 L1086.28,303.83 L1086.23,302.21 L1086.16,300.59 L1086.08,298.97 L1085.97,297.34 L1085.85,295.72 L1085.72,294.10 L1085.57,292.48 L1085.41,290.86 L1085.25,289.24 L1085.09,287.62 L1084.93,285.99 L1084.77,284.37 L1084.62,282.75 L1084.48,281.13 L1084.36,279.51 L1084.25,277.88 L1084.16,276.26 L1084.09,274.64 L1084.03,273.02 L1084.01,271.40 L1084.00,269.78 L1084.00,268.15 L1084.01,266.53 L1084.01,264.91 L1084.02,263.29 L1084.03,261.67 L1084.04,260.05 L1084.05,258.43 L1084.06,256.80 L1084.07,255.18 L1084.09,253.56 L1084.10,251.94 L1084.12,250.32 L1084.13,248.69 L1084.14,247.07 L1084.16,245.45 L1084.17,243.83 L1084.18,242.21 L1084.18,240.59 L1084.19,238.97 L1084.20,237.34 L1084.20,235.72 L1084.20,234.10 Z" fill="#f0ccf0" stroke="none"/>
<path d="M1120.80,234.10 L1120.80,235.72 L1120.80,237.34 L1120.81,238.97 L1120.82,240.59 L1120.82,242.21 L1120.83,243.83 L1120.84,245.45 L1120.86,247.07 L1120.87,248.69 L1120.88,250.32 L1120.90,251.94 L1120.91,253.56 L1120.93,255.18 L1120.94,256.80 L1120.95,258.43 L1120.96,260.05 L1120.97,261.67 L1120.98,263.29 L1120.99,264.91 L1120.99,266.53 L1121.00,268.15 L1121.00,269.78 L1120.99,271.40 L1120.97,273.02 L1120.91,274.64 L1120.84,276.26 L1120.75,277.88 L1120.64,279.51 L1120.52,281.13 L1120.38,282.75 L1120.23,284.37 L1120.07,285.99 L1119.91,287.62 L1119.75,289.24 L1119.59,290.86 L1119.43,292.48 L1119.28,294.10 L1119.15,295.72 L1119.03,297.34 L1118.92,298.97 L1118.84,300.59 L1118.77,302.21 L1118.72,303.83 L1118.70,305.45 L1118.69,307.07 L1118.61,308.70 L1118.47,310.32 L1118.26,311.94 L1117.99,313.56 L1117.68,315.18 L1117.34,316.80 L1116.98,318.43 L1116.62,320.05 L1116.27,321.67 L1115.94,323.29 L1115.66,324.91 L1115.42,326.53 L1115.25,328.16 L1115.14,329.78 L1115.10,331.40" fill="none" stroke="#000" stroke-width="1.6" stroke-linejoin="round"/>
<path d="M1089.90,331.40 L1089.86,329.78 L1089.75,328.16 L1089.58,326.53 L1089.34,324.91 L1089.06,323.29 L1088.73,321.67 L1088.38,320.05 L1088.02,318.43 L1087.66,316.80 L1087.32,315.18 L1087.01,313.56 L1086.74,311.94 L1086.53,310.32 L1086.39,308.70 L1086.31,307.07 L1086.30,305.45 L1086.28,303.83 L1086.23,302.21 L1086.16,300.59 L1086.08,298.97 L1085.97,297.34 L1085.85,295.72 L1085.72,294.10 L1085.57,292.48 L1085.41,290.86 L1085.25,289.24 L1085.09,287.62 L1084.93,285.99 L1084.77,284.37 L1084.62,282.75 L1084.48,281.13 L1084.36,279.51 L1084.25,277.88 L1084.16,276.26 L1084.09,274.64 L1084.03,273.02 L1084.01,271.40 L1084.00,269.78 L1084.00,268.15 L1084.01,266.53 L1084.01,264.91 L1084.02,263.29 L1084.03,261.67 L1084.04,260.05 L1084.05,258.43 L1084.06,256.80 L1084.07,255.18 L1084.09,253.56 L1084.10,251.94 L1084.12,250.32 L1084.13,248.69 L1084.14,247.07 L1084.16,245.45 L1084.17,243.83 L1084.18,242.21 L1084.18,240.59 L1084.19,238.97 L1084.20,237.34 L1084.20,235.72 L1084.20,234.10" fill="none" stroke="#000" stroke-width="1.6" stroke-linejoin="round"/>
<line x1="1089.90" y1="331.40" x2="1115.10" y2="331.40" stroke="#000" stroke-width="1.8" />
<circle cx="1098.50" cy="240.00" r="2.50" fill="#000" stroke="none" stroke-width="0"/>
<circle cx="1098.50" cy="245.00" r="2.50" fill="#000" stroke="none" stroke-width="0"/>
<circle cx="1102.50" cy="250.00" r="2.50" fill="#000" stroke="none" stroke-width="0"/>
<circle cx="1110.50" cy="255.00" r="2.50" fill="#000" stroke="none" stroke-width="0"/>
<circle cx="1094.50" cy="262.00" r="2.50" fill="#000" stroke="none" stroke-width="0"/>
<circle cx="1098.50" cy="268.00" r="2.50" fill="#000" stroke="none" stroke-width="0"/>
<circle cx="1102.50" cy="272.00" r="2.50" fill="#000" stroke="none" stroke-width="0"/>
<circle cx="1106.50" cy="276.00" r="2.50" fill="#000" stroke="none" stroke-width="0"/>
<circle cx="1102.50" cy="280.00" r="2.50" fill="#000" stroke="none" stroke-width="0"/>
<circle cx="1098.50" cy="284.00" r="2.50" fill="#000" stroke="none" stroke-width="0"/>
<circle cx="1106.50" cy="290.00" r="2.50" fill="#000" stroke="none" stroke-width="0"/>
<circle cx="1102.50" cy="296.00" r="2.50" fill="#000" stroke="none" stroke-width="0"/>
<circle cx="1106.50" cy="302.00" r="2.50" fill="#000" stroke="none" stroke-width="0"/>
<circle cx="1110.50" cy="308.00" r="2.50" fill="#000" stroke="none" stroke-width="0"/>
<circle cx="1098.50" cy="314.00" r="2.50" fill="#000" stroke="none" stroke-width="0"/>
<circle cx="1110.50" cy="320.00" r="2.50" fill="#000" stroke="none" stroke-width="0"/>
<circle cx="1094.50" cy="326.00" r="2.50" fill="#000" stroke="none" stroke-width="0"/>
<circle cx="1102.50" cy="330.00" r="2.50" fill="#000" stroke="none" stroke-width="0"/>
<circle cx="1094.50" cy="268.00" r="2.50" fill="#000" stroke="none" stroke-width="0"/>
<circle cx="1110.50" cy="268.00" r="2.50" fill="#000" stroke="none" stroke-width="0"/>
<circle cx="1094.50" cy="278.00" r="2.50" fill="#000" stroke="none" stroke-width="0"/>
<circle cx="1110.50" cy="278.00" r="2.50" fill="#000" stroke="none" stroke-width="0"/>
<circle cx="1098.50" cy="300.00" r="2.50" fill="#000" stroke="none" stroke-width="0"/>
<circle cx="1106.50" cy="300.00" r="2.50" fill="#000" stroke="none" stroke-width="0"/>
<circle cx="1098.50" cy="315.00" r="2.50" fill="#000" stroke="none" stroke-width="0"/>
<circle cx="1106.50" cy="315.00" r="2.50" fill="#000" stroke="none" stroke-width="0"/>
<line x1="1087.50" y1="222.10" x2="1117.50" y2="222.10" stroke="#e8403f" stroke-width="2.4" stroke-dasharray="8,4"/>
<path d="M1221.10,196.90 L1221.13,197.36 L1221.22,197.82 L1221.36,198.28 L1221.55,198.74 L1221.77,199.20 L1222.02,199.66 L1222.27,200.12 L1222.52,200.58 L1222.74,201.04 L1222.93,201.50 L1223.08,201.96 L1223.17,202.42 L1223.20,202.88 L1223.22,203.34 L1223.28,203.80 L1223.38,204.26 L1223.51,204.72 L1223.68,205.18 L1223.88,205.64 L1224.10,206.10 L1224.34,206.56 L1224.60,207.02 L1224.87,207.48 L1225.14,207.94 L1225.41,208.40 L1225.67,208.86 L1225.91,209.32 L1226.13,209.78 L1226.33,210.24 L1226.50,210.70 L1226.63,211.16 L1226.73,211.62 L1226.78,212.08 L1226.80,212.54 L1226.83,213.00 L1226.92,213.46 L1227.05,213.92 L1227.24,214.38 L1227.47,214.84 L1227.74,215.30 L1228.04,215.76 L1228.37,216.22 L1228.72,216.68 L1229.07,217.14 L1229.44,217.60 L1229.79,218.06 L1230.13,218.52 L1230.45,218.98 L1230.75,219.44 L1231.00,219.90 L1231.22,220.36 L1231.39,220.82 L1231.51,221.28 L1231.58,221.74 L1231.61,222.20 L1231.75,222.66 L1232.06,223.12 L1232.42,223.58 L1232.69,224.04 L1232.80,224.50 L1206.40,224.50 L1206.51,224.04 L1206.78,223.58 L1207.14,223.12 L1207.45,222.66 L1207.59,222.20 L1207.62,221.74 L1207.69,221.28 L1207.81,220.82 L1207.98,220.36 L1208.20,219.90 L1208.45,219.44 L1208.75,218.98 L1209.07,218.52 L1209.41,218.06 L1209.76,217.60 L1210.13,217.14 L1210.48,216.68 L1210.83,216.22 L1211.16,215.76 L1211.46,215.30 L1211.73,214.84 L1211.96,214.38 L1212.15,213.92 L1212.28,213.46 L1212.37,213.00 L1212.40,212.54 L1212.42,212.08 L1212.47,211.62 L1212.57,211.16 L1212.70,210.70 L1212.87,210.24 L1213.07,209.78 L1213.29,209.32 L1213.53,208.86 L1213.79,208.40 L1214.06,207.94 L1214.33,207.48 L1214.60,207.02 L1214.86,206.56 L1215.10,206.10 L1215.32,205.64 L1215.52,205.18 L1215.69,204.72 L1215.82,204.26 L1215.92,203.80 L1215.98,203.34 L1216.00,202.88 L1216.03,202.42 L1216.12,201.96 L1216.27,201.50 L1216.46,201.04 L1216.68,200.58 L1216.93,200.12 L1217.18,199.66 L1217.43,199.20 L1217.65,198.74 L1217.84,198.28 L1217.98,197.82 L1218.07,197.36 L1218.10,196.90 Z" fill="#d0fcd0" stroke="none"/>
<path d="M1221.10,196.90 L1221.13,197.36 L1221.22,197.82 L1221.36,198.28 L1221.55,198.74 L1221.77,199.20 L1222.02,199.66 L1222.27,200.12 L1222.52,200.58 L1222.74,201.04 L1222.93,201.50 L1223.08,201.96 L1223.17,202.42 L1223.20,202.88 L1223.22,203.34 L1223.28,203.80 L1223.38,204.26 L1223.51,204.72 L1223.68,205.18 L1223.88,205.64 L1224.10,206.10 L1224.34,206.56 L1224.60,207.02 L1224.87,207.48 L1225.14,207.94 L1225.41,208.40 L1225.67,208.86 L1225.91,209.32 L1226.13,209.78 L1226.33,210.24 L1226.50,210.70 L1226.63,211.16 L1226.73,211.62 L1226.78,212.08 L1226.80,212.54 L1226.83,213.00 L1226.92,213.46 L1227.05,213.92 L1227.24,214.38 L1227.47,214.84 L1227.74,215.30 L1228.04,215.76 L1228.37,216.22 L1228.72,216.68 L1229.07,217.14 L1229.44,217.60 L1229.79,218.06 L1230.13,218.52 L1230.45,218.98 L1230.75,219.44 L1231.00,219.90 L1231.22,220.36 L1231.39,220.82 L1231.51,221.28 L1231.58,221.74 L1231.61,222.20 L1231.75,222.66 L1232.06,223.12 L1232.42,223.58 L1232.69,224.04 L1232.80,224.50" fill="none" stroke="#000" stroke-width="1.6" stroke-linejoin="round"/>
<path d="M1206.40,224.50 L1206.51,224.04 L1206.78,223.58 L1207.14,223.12 L1207.45,222.66 L1207.59,222.20 L1207.62,221.74 L1207.69,221.28 L1207.81,220.82 L1207.98,220.36 L1208.20,219.90 L1208.45,219.44 L1208.75,218.98 L1209.07,218.52 L1209.41,218.06 L1209.76,217.60 L1210.13,217.14 L1210.48,216.68 L1210.83,216.22 L1211.16,215.76 L1211.46,215.30 L1211.73,214.84 L1211.96,214.38 L1212.15,213.92 L1212.28,213.46 L1212.37,213.00 L1212.40,212.54 L1212.42,212.08 L1212.47,211.62 L1212.57,211.16 L1212.70,210.70 L1212.87,210.24 L1213.07,209.78 L1213.29,209.32 L1213.53,208.86 L1213.79,208.40 L1214.06,207.94 L1214.33,207.48 L1214.60,207.02 L1214.86,206.56 L1215.10,206.10 L1215.32,205.64 L1215.52,205.18 L1215.69,204.72 L1215.82,204.26 L1215.92,203.80 L1215.98,203.34 L1216.00,202.88 L1216.03,202.42 L1216.12,201.96 L1216.27,201.50 L1216.46,201.04 L1216.68,200.58 L1216.93,200.12 L1217.18,199.66 L1217.43,199.20 L1217.65,198.74 L1217.84,198.28 L1217.98,197.82 L1218.07,197.36 L1218.10,196.90" fill="none" stroke="#000" stroke-width="1.6" stroke-linejoin="round"/>
<line x1="1206.40" y1="224.50" x2="1232.80" y2="224.50" stroke="#000" stroke-width="1.8" />
<circle cx="1219.60" cy="200.00" r="2.50" fill="#000" stroke="none" stroke-width="0"/>
<circle cx="1215.60" cy="205.00" r="2.50" fill="#000" stroke="none" stroke-width="0"/>
<circle cx="1223.60" cy="205.00" r="2.50" fill="#000" stroke="none" stroke-width="0"/>
<circle cx="1219.60" cy="210.00" r="2.50" fill="#000" stroke="none" stroke-width="0"/>
<circle cx="1208.60" cy="213.00" r="2.50" fill="#000" stroke="none" stroke-width="0"/>
<circle cx="1215.60" cy="213.00" r="2.50" fill="#000" stroke="none" stroke-width="0"/>
<circle cx="1223.60" cy="213.00" r="2.50" fill="#000" stroke="none" stroke-width="0"/>
<circle cx="1230.60" cy="213.00" r="2.50" fill="#000" stroke="none" stroke-width="0"/>
<circle cx="1212.60" cy="219.00" r="2.50" fill="#000" stroke="none" stroke-width="0"/>
<circle cx="1226.60" cy="219.00" r="2.50" fill="#000" stroke="none" stroke-width="0"/>
<circle cx="1200.60" cy="224.00" r="2.50" fill="#000" stroke="none" stroke-width="0"/>
<circle cx="1207.60" cy="224.00" r="2.50" fill="#000" stroke="none" stroke-width="0"/>
<circle cx="1215.60" cy="224.00" r="2.50" fill="#000" stroke="none" stroke-width="0"/>
<circle cx="1223.60" cy="224.00" r="2.50" fill="#000" stroke="none" stroke-width="0"/>
<circle cx="1231.60" cy="224.00" r="2.50" fill="#000" stroke="none" stroke-width="0"/>
<circle cx="1238.60" cy="224.00" r="2.50" fill="#000" stroke="none" stroke-width="0"/>
<path d="M1233.40,234.10 L1233.42,235.82 L1233.47,237.55 L1233.55,239.27 L1233.66,240.99 L1233.80,242.72 L1233.97,244.44 L1234.15,246.16 L1234.36,247.89 L1234.57,249.61 L1234.79,251.33 L1235.02,253.06 L1235.24,254.78 L1235.45,256.50 L1235.66,258.23 L1235.84,259.95 L1236.01,261.67 L1236.14,263.40 L1236.26,265.12 L1236.34,266.84 L1236.38,268.57 L1236.40,270.29 L1236.41,272.01 L1236.43,273.74 L1236.46,275.46 L1236.51,277.18 L1236.57,278.91 L1236.63,280.63 L1236.71,282.35 L1236.79,284.08 L1236.88,285.80 L1236.96,287.52 L1237.05,289.25 L1237.14,290.97 L1237.23,292.69 L1237.31,294.42 L1237.38,296.14 L1237.45,297.86 L1237.50,299.59 L1237.55,301.31 L1237.58,303.03 L1237.60,304.76 L1237.60,306.48 L1237.56,308.20 L1237.46,309.93 L1237.31,311.65 L1237.11,313.37 L1236.87,315.10 L1236.62,316.82 L1236.35,318.54 L1236.08,320.27 L1235.83,321.99 L1235.61,323.71 L1235.43,325.44 L1235.29,327.16 L1235.22,328.88 L1235.18,330.61 L1234.61,332.33 L1233.57,334.05 L1232.59,335.78 L1232.20,337.50 L1207.00,337.50 L1206.61,335.78 L1205.63,334.05 L1204.59,332.33 L1204.02,330.61 L1203.98,328.88 L1203.91,327.16 L1203.77,325.44 L1203.59,323.71 L1203.37,321.99 L1203.12,320.27 L1202.85,318.54 L1202.58,316.82 L1202.33,315.10 L1202.09,313.37 L1201.89,311.65 L1201.74,309.93 L1201.64,308.20 L1201.60,306.48 L1201.60,304.76 L1201.62,303.03 L1201.65,301.31 L1201.70,299.59 L1201.75,297.86 L1201.82,296.14 L1201.89,294.42 L1201.97,292.69 L1202.06,290.97 L1202.15,289.25 L1202.24,287.52 L1202.32,285.80 L1202.41,284.08 L1202.49,282.35 L1202.57,280.63 L1202.63,278.91 L1202.69,277.18 L1202.74,275.46 L1202.77,273.74 L1202.79,272.01 L1202.80,270.29 L1202.82,268.57 L1202.86,266.84 L1202.94,265.12 L1203.06,263.40 L1203.19,261.67 L1203.36,259.95 L1203.54,258.23 L1203.75,256.50 L1203.96,254.78 L1204.18,253.06 L1204.41,251.33 L1204.63,249.61 L1204.84,247.89 L1205.05,246.16 L1205.23,244.44 L1205.40,242.72 L1205.54,240.99 L1205.65,239.27 L1205.73,237.55 L1205.78,235.82 L1205.80,234.10 Z" fill="#d0fcd0" stroke="none"/>
<path d="M1233.40,234.10 L1233.42,235.82 L1233.47,237.55 L1233.55,239.27 L1233.66,240.99 L1233.80,242.72 L1233.97,244.44 L1234.15,246.16 L1234.36,247.89 L1234.57,249.61 L1234.79,251.33 L1235.02,253.06 L1235.24,254.78 L1235.45,256.50 L1235.66,258.23 L1235.84,259.95 L1236.01,261.67 L1236.14,263.40 L1236.26,265.12 L1236.34,266.84 L1236.38,268.57 L1236.40,270.29 L1236.41,272.01 L1236.43,273.74 L1236.46,275.46 L1236.51,277.18 L1236.57,278.91 L1236.63,280.63 L1236.71,282.35 L1236.79,284.08 L1236.88,285.80 L1236.96,287.52 L1237.05,289.25 L1237.14,290.97 L1237.23,292.69 L1237.31,294.42 L1237.38,296.14 L1237.45,297.86 L1237.50,299.59 L1237.55,301.31 L1237.58,303.03 L1237.60,304.76 L1237.60,306.48 L1237.56,308.20 L1237.46,309.93 L1237.31,311.65 L1237.11,313.37 L1236.87,315.10 L1236.62,316.82 L1236.35,318.54 L1236.08,320.27 L1235.83,321.99 L1235.61,323.71 L1235.43,325.44 L1235.29,327.16 L1235.22,328.88 L1235.18,330.61 L1234.61,332.33 L1233.57,334.05 L1232.59,335.78 L1232.20,337.50" fill="none" stroke="#000" stroke-width="1.6" stroke-linejoin="round"/>
<path d="M1207.00,337.50 L1206.61,335.78 L1205.63,334.05 L1204.59,332.33 L1204.02,330.61 L1203.98,328.88 L1203.91,327.16 L1203.77,325.44 L1203.59,323.71 L1203.37,321.99 L1203.12,320.27 L1202.85,318.54 L1202.58,316.82 L1202.33,315.10 L1202.09,313.37 L1201.89,311.65 L1201.74,309.93 L1201.64,308.20 L1201.60,306.48 L1201.60,304.76 L1201.62,303.03 L1201.65,301.31 L1201.70,299.59 L1201.75,297.86 L1201.82,296.14 L1201.89,294.42 L1201.97,292.69 L1202.06,290.97 L1202.15,289.25 L1202.24,287.52 L1202.32,285.80 L1202.41,284.08 L1202.49,282.35 L1202.57,280.63 L1202.63,278.91 L1202.69,277.18 L1202.74,275.46 L1202.77,273.74 L1202.79,272.01 L1202.80,270.29 L1202.82,268.57 L1202.86,266.84 L1202.94,265.12 L1203.06,263.40 L1203.19,261.67 L1203.36,259.95 L1203.54,258.23 L1203.75,256.50 L1203.96,254.78 L1204.18,253.06 L1204.41,251.33 L1204.63,249.61 L1204.84,247.89 L1205.05,246.16 L1205.23,244.44 L1205.40,242.72 L1205.54,240.99 L1205.65,239.27 L1205.73,237.55 L1205.78,235.82 L1205.80,234.10" fill="none" stroke="#000" stroke-width="1.6" stroke-linejoin="round"/>
<line x1="1207.00" y1="337.50" x2="1232.20" y2="337.50" stroke="#000" stroke-width="1.8" />
<circle cx="1224.60" cy="236.00" r="2.50" fill="#000" stroke="none" stroke-width="0"/>
<circle cx="1219.60" cy="247.00" r="2.50" fill="#000" stroke="none" stroke-width="0"/>
<circle cx="1219.60" cy="248.00" r="2.50" fill="#000" stroke="none" stroke-width="0"/>
<circle cx="1229.60" cy="258.00" r="2.50" fill="#000" stroke="none" stroke-width="0"/>
<circle cx="1224.60" cy="258.00" r="2.50" fill="#000" stroke="none" stroke-width="0"/>
<circle cx="1209.60" cy="270.00" r="2.50" fill="#000" stroke="none" stroke-width="0"/>
<circle cx="1209.60" cy="276.00" r="2.50" fill="#000" stroke="none" stroke-width="0"/>
<circle cx="1229.60" cy="282.00" r="2.50" fill="#000" stroke="none" stroke-width="0"/>
<circle cx="1224.60" cy="287.00" r="2.50" fill="#000" stroke="none" stroke-width="0"/>
<circle cx="1214.60" cy="292.00" r="2.50" fill="#000" stroke="none" stroke-width="0"/>
<circle cx="1214.60" cy="298.00" r="2.50" fill="#000" stroke="none" stroke-width="0"/>
<circle cx="1224.60" cy="302.00" r="2.50" fill="#000" stroke="none" stroke-width="0"/>
<circle cx="1209.60" cy="306.00" r="2.50" fill="#000" stroke="none" stroke-width="0"/>
<circle cx="1219.60" cy="311.00" r="2.50" fill="#000" stroke="none" stroke-width="0"/>
<circle cx="1214.60" cy="316.00" r="2.50" fill="#000" stroke="none" stroke-width="0"/>
<circle cx="1229.60" cy="322.00" r="2.50" fill="#000" stroke="none" stroke-width="0"/>
<circle cx="1209.60" cy="326.00" r="2.50" fill="#000" stroke="none" stroke-width="0"/>
<circle cx="1219.60" cy="330.00" r="2.50" fill="#000" stroke="none" stroke-width="0"/>
<circle cx="1219.60" cy="334.00" r="2.50" fill="#000" stroke="none" stroke-width="0"/>
<circle cx="1209.60" cy="282.00" r="2.50" fill="#000" stroke="none" stroke-width="0"/>
<circle cx="1229.60" cy="282.00" r="2.50" fill="#000" stroke="none" stroke-width="0"/>
<circle cx="1214.60" cy="300.00" r="2.50" fill="#000" stroke="none" stroke-width="0"/>
<circle cx="1224.60" cy="300.00" r="2.50" fill="#000" stroke="none" stroke-width="0"/>
<circle cx="1214.60" cy="316.00" r="2.50" fill="#000" stroke="none" stroke-width="0"/>
<circle cx="1224.60" cy="316.00" r="2.50" fill="#000" stroke="none" stroke-width="0"/>
<circle cx="1209.60" cy="334.00" r="2.50" fill="#000" stroke="none" stroke-width="0"/>
<circle cx="1229.60" cy="334.00" r="2.50" fill="#000" stroke="none" stroke-width="0"/>
<circle cx="1214.60" cy="336.00" r="2.50" fill="#000" stroke="none" stroke-width="0"/>
<circle cx="1224.60" cy="336.00" r="2.50" fill="#000" stroke="none" stroke-width="0"/>
<line x1="1202.60" y1="275.00" x2="1236.60" y2="275.00" stroke="#e8403f" stroke-width="2.4" stroke-dasharray="8,4"/>
<path d="M1279.50,163.20 L1279.52,164.22 L1279.57,165.24 L1279.65,166.26 L1279.77,167.29 L1279.92,168.31 L1280.09,169.33 L1280.28,170.35 L1280.50,171.37 L1280.73,172.39 L1280.97,173.42 L1281.21,174.44 L1281.46,175.46 L1281.70,176.48 L1281.93,177.50 L1282.15,178.53 L1282.35,179.55 L1282.53,180.57 L1282.69,181.59 L1282.81,182.61 L1282.91,183.63 L1282.97,184.66 L1283.00,185.68 L1283.02,186.70 L1283.13,187.72 L1283.32,188.74 L1283.59,189.76 L1283.93,190.78 L1284.32,191.81 L1284.76,192.83 L1285.22,193.85 L1285.70,194.87 L1286.16,195.89 L1286.61,196.91 L1287.01,197.94 L1287.36,198.96 L1287.64,199.98 L1287.85,201.00 L1287.97,202.02 L1288.00,203.04 L1288.18,204.07 L1288.61,205.09 L1289.26,206.11 L1290.04,207.13 L1290.87,208.15 L1291.66,209.18 L1292.32,210.20 L1292.78,211.22 L1292.99,212.24 L1293.06,213.26 L1293.35,214.28 L1293.82,215.31 L1294.44,216.33 L1295.13,217.35 L1295.82,218.37 L1296.43,219.39 L1296.89,220.41 L1297.15,221.44 L1297.20,222.46 L1297.20,223.48 L1297.20,224.50 L1258.80,224.50 L1258.80,223.48 L1258.80,222.46 L1258.85,221.44 L1259.11,220.41 L1259.57,219.39 L1260.18,218.37 L1260.87,217.35 L1261.56,216.33 L1262.18,215.31 L1262.65,214.28 L1262.94,213.26 L1263.01,212.24 L1263.22,211.22 L1263.68,210.20 L1264.34,209.18 L1265.13,208.15 L1265.96,207.13 L1266.74,206.11 L1267.39,205.09 L1267.82,204.07 L1268.00,203.04 L1268.03,202.02 L1268.15,201.00 L1268.36,199.98 L1268.64,198.96 L1268.99,197.94 L1269.39,196.91 L1269.84,195.89 L1270.30,194.87 L1270.78,193.85 L1271.24,192.83 L1271.68,191.81 L1272.07,190.78 L1272.41,189.76 L1272.68,188.74 L1272.87,187.72 L1272.98,186.70 L1273.00,185.68 L1273.03,184.66 L1273.09,183.63 L1273.19,182.61 L1273.31,181.59 L1273.47,180.57 L1273.65,179.55 L1273.85,178.53 L1274.07,177.50 L1274.30,176.48 L1274.54,175.46 L1274.79,174.44 L1275.03,173.42 L1275.27,172.39 L1275.50,171.37 L1275.72,170.35 L1275.91,169.33 L1276.08,168.31 L1276.23,167.29 L1276.35,166.26 L1276.43,165.24 L1276.48,164.22 L1276.50,163.20 Z" fill="#f0ccf0" stroke="none"/>
<path d="M1279.50,163.20 L1279.52,164.22 L1279.57,165.24 L1279.65,166.26 L1279.77,167.29 L1279.92,168.31 L1280.09,169.33 L1280.28,170.35 L1280.50,171.37 L1280.73,172.39 L1280.97,173.42 L1281.21,174.44 L1281.46,175.46 L1281.70,176.48 L1281.93,177.50 L1282.15,178.53 L1282.35,179.55 L1282.53,180.57 L1282.69,181.59 L1282.81,182.61 L1282.91,183.63 L1282.97,184.66 L1283.00,185.68 L1283.02,186.70 L1283.13,187.72 L1283.32,188.74 L1283.59,189.76 L1283.93,190.78 L1284.32,191.81 L1284.76,192.83 L1285.22,193.85 L1285.70,194.87 L1286.16,195.89 L1286.61,196.91 L1287.01,197.94 L1287.36,198.96 L1287.64,199.98 L1287.85,201.00 L1287.97,202.02 L1288.00,203.04 L1288.18,204.07 L1288.61,205.09 L1289.26,206.11 L1290.04,207.13 L1290.87,208.15 L1291.66,209.18 L1292.32,210.20 L1292.78,211.22 L1292.99,212.24 L1293.06,213.26 L1293.35,214.28 L1293.82,215.31 L1294.44,216.33 L1295.13,217.35 L1295.82,218.37 L1296.43,219.39 L1296.89,220.41 L1297.15,221.44 L1297.20,222.46 L1297.20,223.48 L1297.20,224.50" fill="none" stroke="#000" stroke-width="1.6" stroke-linejoin="round"/>
<path d="M1258.80,224.50 L1258.80,223.48 L1258.80,222.46 L1258.85,221.44 L1259.11,220.41 L1259.57,219.39 L1260.18,218.37 L1260.87,217.35 L1261.56,216.33 L1262.18,215.31 L1262.65,214.28 L1262.94,213.26 L1263.01,212.24 L1263.22,211.22 L1263.68,210.20 L1264.34,209.18 L1265.13,208.15 L1265.96,207.13 L1266.74,206.11 L1267.39,205.09 L1267.82,204.07 L1268.00,203.04 L1268.03,202.02 L1268.15,201.00 L1268.36,199.98 L1268.64,198.96 L1268.99,197.94 L1269.39,196.91 L1269.84,195.89 L1270.30,194.87 L1270.78,193.85 L1271.24,192.83 L1271.68,191.81 L1272.07,190.78 L1272.41,189.76 L1272.68,188.74 L1272.87,187.72 L1272.98,186.70 L1273.00,185.68 L1273.03,184.66 L1273.09,183.63 L1273.19,182.61 L1273.31,181.59 L1273.47,180.57 L1273.65,179.55 L1273.85,178.53 L1274.07,177.50 L1274.30,176.48 L1274.54,175.46 L1274.79,174.44 L1275.03,173.42 L1275.27,172.39 L1275.50,171.37 L1275.72,170.35 L1275.91,169.33 L1276.08,168.31 L1276.23,167.29 L1276.35,166.26 L1276.43,165.24 L1276.48,164.22 L1276.50,163.20" fill="none" stroke="#000" stroke-width="1.6" stroke-linejoin="round"/>
<line x1="1278.00" y1="163.00" x2="1278.00" y2="190.00" stroke="#000" stroke-width="2.2" />
<line x1="1258.80" y1="224.50" x2="1297.20" y2="224.50" stroke="#000" stroke-width="1.8" />
<circle cx="1278.00" cy="166.00" r="2.50" fill="#000" stroke="none" stroke-width="0"/>
<circle cx="1278.00" cy="172.00" r="2.50" fill="#000" stroke="none" stroke-width="0"/>
<circle cx="1278.00" cy="178.00" r="2.50" fill="#000" stroke="none" stroke-width="0"/>
<circle cx="1275.00" cy="188.00" r="2.50" fill="#000" stroke="none" stroke-width="0"/>
<circle cx="1281.00" cy="188.00" r="2.50" fill="#000" stroke="none" stroke-width="0"/>
<circle cx="1270.00" cy="201.00" r="2.50" fill="#000" stroke="none" stroke-width="0"/>
<circle cx="1286.00" cy="201.00" r="2.50" fill="#000" stroke="none" stroke-width="0"/>
<circle cx="1266.00" cy="207.00" r="2.50" fill="#000" stroke="none" stroke-width="0"/>
<circle cx="1278.00" cy="207.00" r="2.50" fill="#000" stroke="none" stroke-width="0"/>
<circle cx="1290.00" cy="207.00" r="2.50" fill="#000" stroke="none" stroke-width="0"/>
<circle cx="1264.00" cy="214.00" r="2.50" fill="#000" stroke="none" stroke-width="0"/>
<circle cx="1273.00" cy="214.00" r="2.50" fill="#000" stroke="none" stroke-width="0"/>
<circle cx="1283.00" cy="214.00" r="2.50" fill="#000" stroke="none" stroke-width="0"/>
<circle cx="1292.00" cy="214.00" r="2.50" fill="#000" stroke="none" stroke-width="0"/>
<circle cx="1261.00" cy="220.00" r="2.50" fill="#000" stroke="none" stroke-width="0"/>
<circle cx="1270.00" cy="220.00" r="2.50" fill="#000" stroke="none" stroke-width="0"/>
<circle cx="1278.00" cy="220.00" r="2.50" fill="#000" stroke="none" stroke-width="0"/>
<circle cx="1286.00" cy="220.00" r="2.50" fill="#000" stroke="none" stroke-width="0"/>
<circle cx="1295.00" cy="220.00" r="2.50" fill="#000" stroke="none" stroke-width="0"/>
<circle cx="1266.00" cy="224.00" r="2.50" fill="#000" stroke="none" stroke-width="0"/>
<circle cx="1290.00" cy="224.00" r="2.50" fill="#000" stroke="none" stroke-width="0"/>
<path d="M1296.60,234.10 L1296.60,235.82 L1296.60,237.55 L1296.60,239.27 L1296.60,240.99 L1296.60,242.72 L1296.60,244.44 L1296.60,246.16 L1296.60,247.89 L1296.60,249.61 L1296.60,251.33 L1296.60,253.06 L1296.60,254.78 L1296.60,256.50 L1296.60,258.23 L1296.60,259.95 L1296.60,261.67 L1296.60,263.40 L1296.60,265.12 L1296.60,266.84 L1296.60,268.57 L1296.60,270.29 L1296.59,272.01 L1296.57,273.74 L1296.54,275.46 L1296.49,277.18 L1296.43,278.91 L1296.37,280.63 L1296.29,282.35 L1296.21,284.08 L1296.12,285.80 L1296.04,287.52 L1295.95,289.25 L1295.86,290.97 L1295.77,292.69 L1295.69,294.42 L1295.62,296.14 L1295.55,297.86 L1295.50,299.59 L1295.45,301.31 L1295.42,303.03 L1295.40,304.76 L1295.40,306.48 L1295.33,308.20 L1295.17,309.93 L1294.92,311.65 L1294.58,313.37 L1294.17,315.10 L1293.70,316.82 L1293.18,318.54 L1292.62,320.27 L1292.05,321.99 L1291.49,323.71 L1290.94,325.44 L1290.42,327.16 L1289.96,328.88 L1289.56,330.61 L1289.23,332.33 L1289.00,334.05 L1288.85,335.78 L1288.80,337.50 L1267.20,337.50 L1267.15,335.78 L1267.00,334.05 L1266.77,332.33 L1266.44,330.61 L1266.04,328.88 L1265.58,327.16 L1265.06,325.44 L1264.51,323.71 L1263.95,321.99 L1263.38,320.27 L1262.82,318.54 L1262.30,316.82 L1261.83,315.10 L1261.42,313.37 L1261.08,311.65 L1260.83,309.93 L1260.67,308.20 L1260.60,306.48 L1260.60,304.76 L1260.58,303.03 L1260.55,301.31 L1260.50,299.59 L1260.45,297.86 L1260.38,296.14 L1260.31,294.42 L1260.23,292.69 L1260.14,290.97 L1260.05,289.25 L1259.96,287.52 L1259.88,285.80 L1259.79,284.08 L1259.71,282.35 L1259.63,280.63 L1259.57,278.91 L1259.51,277.18 L1259.46,275.46 L1259.43,273.74 L1259.41,272.01 L1259.40,270.29 L1259.40,268.57 L1259.40,266.84 L1259.40,265.12 L1259.40,263.40 L1259.40,261.67 L1259.40,259.95 L1259.40,258.23 L1259.40,256.50 L1259.40,254.78 L1259.40,253.06 L1259.40,251.33 L1259.40,249.61 L1259.40,247.89 L1259.40,246.16 L1259.40,244.44 L1259.40,242.72 L1259.40,240.99 L1259.40,239.27 L1259.40,237.55 L1259.40,235.82 L1259.40,234.10 Z" fill="#f0ccf0" stroke="none"/>
<path d="M1296.60,234.10 L1296.60,235.82 L1296.60,237.55 L1296.60,239.27 L1296.60,240.99 L1296.60,242.72 L1296.60,244.44 L1296.60,246.16 L1296.60,247.89 L1296.60,249.61 L1296.60,251.33 L1296.60,253.06 L1296.60,254.78 L1296.60,256.50 L1296.60,258.23 L1296.60,259.95 L1296.60,261.67 L1296.60,263.40 L1296.60,265.12 L1296.60,266.84 L1296.60,268.57 L1296.60,270.29 L1296.59,272.01 L1296.57,273.74 L1296.54,275.46 L1296.49,277.18 L1296.43,278.91 L1296.37,280.63 L1296.29,282.35 L1296.21,284.08 L1296.12,285.80 L1296.04,287.52 L1295.95,289.25 L1295.86,290.97 L1295.77,292.69 L1295.69,294.42 L1295.62,296.14 L1295.55,297.86 L1295.50,299.59 L1295.45,301.31 L1295.42,303.03 L1295.40,304.76 L1295.40,306.48 L1295.33,308.20 L1295.17,309.93 L1294.92,311.65 L1294.58,313.37 L1294.17,315.10 L1293.70,316.82 L1293.18,318.54 L1292.62,320.27 L1292.05,321.99 L1291.49,323.71 L1290.94,325.44 L1290.42,327.16 L1289.96,328.88 L1289.56,330.61 L1289.23,332.33 L1289.00,334.05 L1288.85,335.78 L1288.80,337.50" fill="none" stroke="#000" stroke-width="1.6" stroke-linejoin="round"/>
<path d="M1267.20,337.50 L1267.15,335.78 L1267.00,334.05 L1266.77,332.33 L1266.44,330.61 L1266.04,328.88 L1265.58,327.16 L1265.06,325.44 L1264.51,323.71 L1263.95,321.99 L1263.38,320.27 L1262.82,318.54 L1262.30,316.82 L1261.83,315.10 L1261.42,313.37 L1261.08,311.65 L1260.83,309.93 L1260.67,308.20 L1260.60,306.48 L1260.60,304.76 L1260.58,303.03 L1260.55,301.31 L1260.50,299.59 L1260.45,297.86 L1260.38,296.14 L1260.31,294.42 L1260.23,292.69 L1260.14,290.97 L1260.05,289.25 L1259.96,287.52 L1259.88,285.80 L1259.79,284.08 L1259.71,282.35 L1259.63,280.63 L1259.57,278.91 L1259.51,277.18 L1259.46,275.46 L1259.43,273.74 L1259.41,272.01 L1259.40,270.29 L1259.40,268.57 L1259.40,266.84 L1259.40,265.12 L1259.40,263.40 L1259.40,261.67 L1259.40,259.95 L1259.40,258.23 L1259.40,256.50 L1259.40,254.78 L1259.40,253.06 L1259.40,251.33 L1259.40,249.61 L1259.40,247.89 L1259.40,246.16 L1259.40,244.44 L1259.40,242.72 L1259.40,240.99 L1259.40,239.27 L1259.40,237.55 L1259.40,235.82 L1259.40,234.10" fill="none" stroke="#000" stroke-width="1.6" stroke-linejoin="round"/>
<line x1="1267.20" y1="337.50" x2="1288.80" y2="337.50" stroke="#000" stroke-width="1.8" />
<circle cx="1283.00" cy="236.00" r="2.50" fill="#000" stroke="none" stroke-width="0"/>
<circle cx="1273.00" cy="241.00" r="2.50" fill="#000" stroke="none" stroke-width="0"/>
<circle cx="1283.00" cy="246.00" r="2.50" fill="#000" stroke="none" stroke-width="0"/>
<circle cx="1278.00" cy="252.00" r="2.50" fill="#000" stroke="none" stroke-width="0"/>
<circle cx="1278.00" cy="258.00" r="2.50" fill="#000" stroke="none" stroke-width="0"/>
<circle cx="1278.00" cy="263.00" r="2.50" fill="#000" stroke="none" stroke-width="0"/>
<circle cx="1278.00" cy="268.00" r="2.50" fill="#000" stroke="none" stroke-width="0"/>
<circle cx="1278.00" cy="280.00" r="2.50" fill="#000" stroke="none" stroke-width="0"/>
<circle cx="1283.00" cy="285.00" r="2.50" fill="#000" stroke="none" stroke-width="0"/>
<circle cx="1283.00" cy="290.00" r="2.50" fill="#000" stroke="none" stroke-width="0"/>
<circle cx="1278.00" cy="296.00" r="2.50" fill="#000" stroke="none" stroke-width="0"/>
<circle cx="1283.00" cy="300.00" r="2.50" fill="#000" stroke="none" stroke-width="0"/>
<circle cx="1278.00" cy="306.00" r="2.50" fill="#000" stroke="none" stroke-width="0"/>
<circle cx="1283.00" cy="310.00" r="2.50" fill="#000" stroke="none" stroke-width="0"/>
<circle cx="1273.00" cy="316.00" r="2.50" fill="#000" stroke="none" stroke-width="0"/>
<circle cx="1283.00" cy="322.00" r="2.50" fill="#000" stroke="none" stroke-width="0"/>
<circle cx="1278.00" cy="328.00" r="2.50" fill="#000" stroke="none" stroke-width="0"/>
<circle cx="1273.00" cy="333.00" r="2.50" fill="#000" stroke="none" stroke-width="0"/>
<circle cx="1273.00" cy="241.00" r="2.50" fill="#000" stroke="none" stroke-width="0"/>
<circle cx="1283.00" cy="246.00" r="2.50" fill="#000" stroke="none" stroke-width="0"/>
<circle cx="1273.00" cy="290.00" r="2.50" fill="#000" stroke="none" stroke-width="0"/>
<circle cx="1283.00" cy="290.00" r="2.50" fill="#000" stroke="none" stroke-width="0"/>
<circle cx="1273.00" cy="300.00" r="2.50" fill="#000" stroke="none" stroke-width="0"/>
<circle cx="1283.00" cy="300.00" r="2.50" fill="#000" stroke="none" stroke-width="0"/>
<circle cx="1273.00" cy="310.00" r="2.50" fill="#000" stroke="none" stroke-width="0"/>
<circle cx="1283.00" cy="310.00" r="2.50" fill="#000" stroke="none" stroke-width="0"/>
<line x1="1260.00" y1="224.50" x2="1296.00" y2="224.50" stroke="#e8403f" stroke-width="2.4" stroke-dasharray="8,4"/>
<line x1="24.30" y1="437.10" x2="1328.90" y2="437.10" stroke="#000" stroke-width="2.6" />
<line x1="24.30" y1="471.70" x2="1328.90" y2="471.70" stroke="#000" stroke-width="2.6" />
<line x1="24.30" y1="508.10" x2="1328.90" y2="508.10" stroke="#000" stroke-width="2.6" />
<line x1="24.30" y1="544.80" x2="1328.90" y2="544.80" stroke="#000" stroke-width="2.6" />
<line x1="24.30" y1="578.00" x2="1328.90" y2="578.00" stroke="#000" stroke-width="2.6" />
<text x="58.46" y="459.80" font-size="25.60" font-weight="normal" font-style="normal" fill="#000" textLength="69.90" lengthAdjust="spacingAndGlyphs">Mean</text>
<text x="40.54" y="497.70" font-size="25.60" font-weight="normal" font-style="normal" fill="#000" textLength="92.49" lengthAdjust="spacingAndGlyphs">Median</text>
<text x="19.86" y="535.90" font-size="25.60" font-weight="normal" font-style="normal" fill="#000" textLength="137.94" lengthAdjust="spacingAndGlyphs">%Inoculation</text>
<text x="75.30" y="572.60" font-size="25.60" font-weight="normal" font-style="normal" fill="#000" textLength="21.67" lengthAdjust="spacingAndGlyphs">N</text>
<text x="173.41" y="463.50" font-size="25.60" font-weight="normal" font-style="normal" fill="#000" textLength="31.80" lengthAdjust="spacingAndGlyphs">88</text>
<text x="231.53" y="463.50" font-size="25.60" font-weight="normal" font-style="normal" fill="#000" textLength="46.07" lengthAdjust="spacingAndGlyphs">156</text>
<text x="349.15" y="463.50" font-size="25.60" font-weight="normal" font-style="normal" fill="#000" textLength="45.69" lengthAdjust="spacingAndGlyphs">114</text>
<text x="410.90" y="463.50" font-size="25.60" font-weight="normal" font-style="normal" fill="#000" textLength="46.83" lengthAdjust="spacingAndGlyphs">196</text>
<text x="599.32" y="463.50" font-size="25.60" font-weight="normal" font-style="normal" fill="#000" textLength="29.12" lengthAdjust="spacingAndGlyphs">81</text>
<text x="655.46" y="463.50" font-size="25.60" font-weight="normal" font-style="normal" fill="#000" textLength="45.32" lengthAdjust="spacingAndGlyphs">165</text>
<text x="784.74" y="463.50" font-size="25.60" font-weight="normal" font-style="normal" fill="#000" textLength="31.08" lengthAdjust="spacingAndGlyphs">99</text>
<text x="830.93" y="463.50" font-size="25.60" font-weight="normal" font-style="normal" fill="#000" textLength="46.07" lengthAdjust="spacingAndGlyphs">153</text>
<text x="1029.14" y="463.60" font-size="25.60" font-weight="normal" font-style="normal" fill="#000" textLength="31.04" lengthAdjust="spacingAndGlyphs">86</text>
<text x="1087.92" y="463.00" font-size="25.60" font-weight="normal" font-style="normal" fill="#000" textLength="46.29" lengthAdjust="spacingAndGlyphs">138</text>
<text x="1213.25" y="463.00" font-size="25.60" font-weight="normal" font-style="normal" fill="#000" textLength="30.93" lengthAdjust="spacingAndGlyphs">95</text>
<text x="1265.32" y="463.00" font-size="25.60" font-weight="normal" font-style="normal" fill="#000" textLength="46.18" lengthAdjust="spacingAndGlyphs">123</text>
<text x="182.68" y="497.70" font-size="25.60" font-weight="normal" font-style="normal" fill="#000" textLength="12.79" lengthAdjust="spacingAndGlyphs">1</text>
<text x="235.83" y="497.70" font-size="25.60" font-weight="normal" font-style="normal" fill="#000" textLength="32.20" lengthAdjust="spacingAndGlyphs">16</text>
<text x="364.30" y="497.70" font-size="25.60" font-weight="normal" font-style="normal" fill="#000" textLength="16.74" lengthAdjust="spacingAndGlyphs">5</text>
<text x="419.69" y="497.70" font-size="25.60" font-weight="normal" font-style="normal" fill="#000" textLength="30.89" lengthAdjust="spacingAndGlyphs">38</text>
<text x="598.42" y="500.00" font-size="25.60" font-weight="normal" font-style="normal" fill="#000" textLength="30.90" lengthAdjust="spacingAndGlyphs">19</text>
<text x="666.72" y="500.00" font-size="25.60" font-weight="normal" font-style="normal" fill="#000" textLength="31.56" lengthAdjust="spacingAndGlyphs">97</text>
<text x="784.60" y="498.50" font-size="25.60" font-weight="normal" font-style="normal" fill="#000" textLength="31.08" lengthAdjust="spacingAndGlyphs">25</text>
<text x="841.04" y="499.00" font-size="25.60" font-weight="normal" font-style="normal" fill="#000" textLength="31.23" lengthAdjust="spacingAndGlyphs">92</text>
<text x="1024.90" y="497.90" font-size="25.60" font-weight="normal" font-style="normal" fill="#000" textLength="44.39" lengthAdjust="spacingAndGlyphs">141</text>
<text x="1091.18" y="499.30" font-size="25.60" font-weight="normal" font-style="normal" fill="#000" textLength="46.63" lengthAdjust="spacingAndGlyphs">305</text>
<text x="1209.56" y="498.50" font-size="25.60" font-weight="normal" font-style="normal" fill="#000" textLength="45.43" lengthAdjust="spacingAndGlyphs">128</text>
<text x="1264.90" y="497.90" font-size="25.60" font-weight="normal" font-style="normal" fill="#000" textLength="46.76" lengthAdjust="spacingAndGlyphs">209</text>
<text x="162.88" y="535.90" font-size="25.60" font-weight="normal" font-style="normal" fill="#000" textLength="54.35" lengthAdjust="spacingAndGlyphs">56.2</text>
<text x="234.15" y="535.90" font-size="25.60" font-weight="normal" font-style="normal" fill="#000" textLength="53.99" lengthAdjust="spacingAndGlyphs">84.3</text>
<text x="337.41" y="535.90" font-size="25.60" font-weight="normal" font-style="normal" fill="#000" textLength="54.25" lengthAdjust="spacingAndGlyphs">70.3</text>
<text x="419.56" y="535.90" font-size="25.60" font-weight="normal" font-style="normal" fill="#000" textLength="53.81" lengthAdjust="spacingAndGlyphs">95.4</text>
<text x="594.14" y="537.70" font-size="25.60" font-weight="normal" font-style="normal" fill="#000" textLength="45.92" lengthAdjust="spacingAndGlyphs">100</text>
<text x="659.74" y="539.50" font-size="25.60" font-weight="normal" font-style="normal" fill="#000" textLength="45.92" lengthAdjust="spacingAndGlyphs">100</text>
<text x="776.77" y="534.00" font-size="25.60" font-weight="normal" font-style="normal" fill="#000" textLength="45.17" lengthAdjust="spacingAndGlyphs">100</text>
<text x="836.64" y="534.00" font-size="25.60" font-weight="normal" font-style="normal" fill="#000" textLength="45.92" lengthAdjust="spacingAndGlyphs">100</text>
<text x="1025.94" y="537.20" font-size="25.60" font-weight="normal" font-style="normal" fill="#000" textLength="45.92" lengthAdjust="spacingAndGlyphs">100</text>
<text x="1089.14" y="537.20" font-size="25.60" font-weight="normal" font-style="normal" fill="#000" textLength="45.92" lengthAdjust="spacingAndGlyphs">100</text>
<text x="1209.56" y="535.00" font-size="25.60" font-weight="normal" font-style="normal" fill="#000" textLength="45.28" lengthAdjust="spacingAndGlyphs">100</text>
<text x="1265.33" y="534.50" font-size="25.60" font-weight="normal" font-style="normal" fill="#000" textLength="46.03" lengthAdjust="spacingAndGlyphs">100</text>
<text x="173.31" y="572.60" font-size="25.60" font-weight="normal" font-style="normal" fill="#000" textLength="30.89" lengthAdjust="spacingAndGlyphs">74</text>
<text x="238.34" y="572.60" font-size="25.60" font-weight="normal" font-style="normal" fill="#000" textLength="30.32" lengthAdjust="spacingAndGlyphs">73</text>
<text x="363.12" y="570.00" font-size="25.60" font-weight="normal" font-style="normal" fill="#000" textLength="30.78" lengthAdjust="spacingAndGlyphs">64</text>
<text x="421.19" y="570.00" font-size="25.60" font-weight="normal" font-style="normal" fill="#000" textLength="31.39" lengthAdjust="spacingAndGlyphs">62</text>
<text x="602.58" y="572.60" font-size="25.60" font-weight="normal" font-style="normal" fill="#000" textLength="31.50" lengthAdjust="spacingAndGlyphs">67</text>
<text x="668.55" y="569.80" font-size="25.60" font-weight="normal" font-style="normal" fill="#000" textLength="32.28" lengthAdjust="spacingAndGlyphs">65</text>
<text x="791.61" y="569.80" font-size="25.60" font-weight="normal" font-style="normal" fill="#000" textLength="30.89" lengthAdjust="spacingAndGlyphs">64</text>
<text x="845.23" y="568.00" font-size="25.60" font-weight="normal" font-style="normal" fill="#000" textLength="30.47" lengthAdjust="spacingAndGlyphs">61</text>
<text x="1031.89" y="569.40" font-size="25.60" font-weight="normal" font-style="normal" fill="#000" textLength="30.78" lengthAdjust="spacingAndGlyphs">56</text>
<text x="1099.82" y="570.80" font-size="25.60" font-weight="normal" font-style="normal" fill="#000" textLength="30.02" lengthAdjust="spacingAndGlyphs">56</text>
<text x="1217.89" y="569.40" font-size="25.60" font-weight="normal" font-style="normal" fill="#000" textLength="30.82" lengthAdjust="spacingAndGlyphs">59</text>
<text x="1270.33" y="569.40" font-size="25.60" font-weight="normal" font-style="normal" fill="#000" textLength="30.58" lengthAdjust="spacingAndGlyphs">61</text>
<text x="216.50" y="527.96" font-size="19.50" font-weight="normal" font-style="normal" fill="#000" textLength="12.47" lengthAdjust="spacingAndGlyphs">B</text>
<text x="288.00" y="527.96" font-size="19.50" font-weight="normal" font-style="normal" fill="#000" textLength="26.89" lengthAdjust="spacingAndGlyphs">AB</text>
<text x="391.60" y="527.96" font-size="19.50" font-weight="normal" font-style="normal" fill="#000" textLength="26.79" lengthAdjust="spacingAndGlyphs">AB</text>
<text x="472.43" y="527.96" font-size="19.50" font-weight="normal" font-style="normal" fill="#000" textLength="13.09" lengthAdjust="spacingAndGlyphs">B</text>
<text x="12.22" y="663.80" font-size="68.50" font-weight="bold" font-style="normal" fill="#000" textLength="42.09" lengthAdjust="spacingAndGlyphs">b</text>
<rect x="413.20" y="614.50" width="25.50" height="33.50" fill="#d0fcd0" stroke="#111" stroke-width="2"/>
<text x="450.05" y="644.60" font-size="35.50" font-weight="normal" font-style="normal" fill="#000" textLength="47.96" lengthAdjust="spacingAndGlyphs">WT</text>
<rect x="613.40" y="614.30" width="23.10" height="32.70" fill="#f0ccf0" stroke="#111" stroke-width="2"/>
<text x="646.25" y="640.60" font-size="35.50" font-weight="normal" font-style="italic" fill="#000">Mp-Tps</text>
<text transform="translate(84.50,847.28) rotate(-90)" x="0" y="0" font-size="33.70" font-style="normal" fill="#000" textLength="35.21" lengthAdjust="spacingAndGlyphs" xml:space="preserve">LT</text>
<text transform="translate(92.30,811.96) rotate(-90)" x="0" y="0" font-size="25.61" font-style="normal" fill="#000" textLength="26.76" lengthAdjust="spacingAndGlyphs" xml:space="preserve">50</text>
<text transform="translate(84.50,780.61) rotate(-90)" x="0" y="0" font-size="33.70" font-style="normal" fill="#000" textLength="88.64" lengthAdjust="spacingAndGlyphs" xml:space="preserve">(days)</text>
<line x1="151.60" y1="659.50" x2="151.60" y2="907.40" stroke="#000" stroke-width="2.3" />
<line x1="142.60" y1="659.50" x2="151.60" y2="659.50" stroke="#000" stroke-width="2.3" />
<line x1="142.60" y1="742.60" x2="151.60" y2="742.60" stroke="#000" stroke-width="2.3" />
<line x1="142.60" y1="825.40" x2="151.60" y2="825.40" stroke="#000" stroke-width="2.3" />
<line x1="142.60" y1="907.40" x2="151.60" y2="907.40" stroke="#000" stroke-width="2.3" />
<text x="103.28" y="671.23" font-size="34.50" fill="#000">15</text>
<text x="103.11" y="754.50" font-size="34.50" fill="#000">10</text>
<text x="122.43" y="837.13" font-size="34.50" fill="#000">5</text>
<text x="122.26" y="919.30" font-size="34.50" fill="#000">0</text>
<line x1="142.70" y1="907.40" x2="455.00" y2="907.40" stroke="#000" stroke-width="2.3" />
<line x1="310.30" y1="673.80" x2="310.30" y2="914.50" stroke="#000" stroke-width="2.5" stroke-dasharray="8,5"/>
<rect x="175.80" y="802.30" width="45.30" height="105.10" fill="#d0fcd0" stroke="#000" stroke-width="2.2"/>
<rect x="232.50" y="831.00" width="44.60" height="76.40" fill="#f0ccf0" stroke="#000" stroke-width="2.2"/>
<rect x="345.20" y="760.50" width="44.10" height="146.90" fill="#d0fcd0" stroke="#000" stroke-width="2.2"/>
<rect x="401.20" y="828.20" width="44.50" height="79.20" fill="#f0ccf0" stroke="#000" stroke-width="2.2"/>
<line x1="198.60" y1="907.40" x2="198.60" y2="915.40" stroke="#000" stroke-width="2.3" />
<line x1="254.80" y1="907.40" x2="254.80" y2="915.40" stroke="#000" stroke-width="2.3" />
<line x1="366.70" y1="907.40" x2="366.70" y2="915.40" stroke="#000" stroke-width="2.3" />
<line x1="423.20" y1="907.40" x2="423.20" y2="915.40" stroke="#000" stroke-width="2.3" />
<line x1="198.60" y1="794.40" x2="198.60" y2="808.60" stroke="#000" stroke-width="1.8" />
<line x1="187.10" y1="794.40" x2="210.10" y2="794.40" stroke="#000" stroke-width="1.8" />
<line x1="187.10" y1="808.60" x2="210.10" y2="808.60" stroke="#000" stroke-width="1.8" />
<line x1="254.80" y1="824.40" x2="254.80" y2="837.00" stroke="#000" stroke-width="1.8" />
<line x1="243.30" y1="824.40" x2="266.30" y2="824.40" stroke="#000" stroke-width="1.8" />
<line x1="243.30" y1="837.00" x2="266.30" y2="837.00" stroke="#000" stroke-width="1.8" />
<line x1="366.70" y1="745.40" x2="366.70" y2="774.00" stroke="#000" stroke-width="1.8" />
<line x1="355.20" y1="745.40" x2="378.20" y2="745.40" stroke="#000" stroke-width="1.8" />
<line x1="355.20" y1="774.00" x2="378.20" y2="774.00" stroke="#000" stroke-width="1.8" />
<line x1="423.20" y1="822.00" x2="423.20" y2="835.00" stroke="#000" stroke-width="1.8" />
<line x1="411.70" y1="822.00" x2="434.70" y2="822.00" stroke="#000" stroke-width="1.8" />
<line x1="411.70" y1="835.00" x2="434.70" y2="835.00" stroke="#000" stroke-width="1.8" />
<circle cx="198.60" cy="775.40" r="3.60" fill="none" stroke="#000" stroke-width="1.5"/>
<circle cx="198.60" cy="788.60" r="3.60" fill="none" stroke="#000" stroke-width="1.5"/>
<circle cx="190.80" cy="805.80" r="3.60" fill="none" stroke="#000" stroke-width="1.5"/>
<circle cx="206.10" cy="805.80" r="3.60" fill="none" stroke="#000" stroke-width="1.5"/>
<circle cx="198.60" cy="813.60" r="3.60" fill="none" stroke="#000" stroke-width="1.5"/>
<circle cx="198.60" cy="825.40" r="3.60" fill="none" stroke="#000" stroke-width="1.5"/>
<circle cx="246.80" cy="815.40" r="3.60" fill="none" stroke="#000" stroke-width="1.5"/>
<circle cx="262.10" cy="816.50" r="3.60" fill="none" stroke="#000" stroke-width="1.5"/>
<circle cx="254.00" cy="823.60" r="3.60" fill="none" stroke="#000" stroke-width="1.5"/>
<circle cx="246.80" cy="836.00" r="3.60" fill="none" stroke="#000" stroke-width="1.5"/>
<circle cx="262.10" cy="836.00" r="3.60" fill="none" stroke="#000" stroke-width="1.5"/>
<circle cx="254.00" cy="844.30" r="3.60" fill="none" stroke="#000" stroke-width="1.5"/>
<circle cx="367.00" cy="709.60" r="3.60" fill="none" stroke="#000" stroke-width="1.5"/>
<circle cx="367.00" cy="727.60" r="3.60" fill="none" stroke="#000" stroke-width="1.5"/>
<circle cx="367.00" cy="760.00" r="3.60" fill="none" stroke="#000" stroke-width="1.5"/>
<circle cx="367.00" cy="770.70" r="3.60" fill="none" stroke="#000" stroke-width="1.5"/>
<circle cx="374.00" cy="791.00" r="3.60" fill="none" stroke="#000" stroke-width="1.5"/>
<circle cx="359.50" cy="797.90" r="3.60" fill="none" stroke="#000" stroke-width="1.5"/>
<circle cx="437.50" cy="814.20" r="3.60" fill="none" stroke="#000" stroke-width="1.5"/>
<circle cx="408.80" cy="820.90" r="3.60" fill="none" stroke="#000" stroke-width="1.5"/>
<circle cx="423.30" cy="819.50" r="3.60" fill="none" stroke="#000" stroke-width="1.5"/>
<circle cx="437.70" cy="823.70" r="3.60" fill="none" stroke="#000" stroke-width="1.5"/>
<circle cx="423.10" cy="834.40" r="3.60" fill="none" stroke="#000" stroke-width="1.5"/>
<circle cx="423.10" cy="847.40" r="3.60" fill="none" stroke="#000" stroke-width="1.5"/>
<circle cx="415.50" cy="832.50" r="3.60" fill="none" stroke="#000" stroke-width="1.5"/>
<line x1="194.40" y1="921.70" x2="262.10" y2="921.70" stroke="#000" stroke-width="2" />
<line x1="363.00" y1="921.70" x2="429.70" y2="921.70" stroke="#000" stroke-width="2" />
<text x="181.80" y="949.50" font-size="31.40" font-weight="normal" font-style="normal" fill="#000" textLength="108.56" lengthAdjust="spacingAndGlyphs">Female</text>
<text x="363.94" y="950.90" font-size="31.40" font-weight="normal" font-style="normal" fill="#000" textLength="72.04" lengthAdjust="spacingAndGlyphs">Male</text>
<line x1="167.60" y1="958.40" x2="455.80" y2="958.40" stroke="#000" stroke-width="2" />
<text x="295.18" y="991.20" font-size="30.50" font-weight="normal" font-style="normal" fill="#000" textLength="38.87" lengthAdjust="spacingAndGlyphs">1h</text>
<text x="191.36" y="753.28" font-size="24.00" font-weight="normal" font-style="normal" fill="#1a1ae6">B</text>
<text x="245.66" y="793.68" font-size="24.00" font-weight="normal" font-style="normal" fill="#1a1ae6">B</text>
<text x="357.52" y="692.78" font-size="24.00" font-weight="normal" font-style="normal" fill="#1a1ae6">A</text>
<text x="414.26" y="792.68" font-size="24.00" font-weight="normal" font-style="normal" fill="#1a1ae6">B</text>
<text transform="translate(529.80,868.97) rotate(-90)" x="0" y="0" font-size="33.70" font-style="normal" fill="#000" textLength="35.17" lengthAdjust="spacingAndGlyphs" xml:space="preserve">LT</text>
<text transform="translate(537.60,833.71) rotate(-90)" x="0" y="0" font-size="25.61" font-style="normal" fill="#000" textLength="26.73" lengthAdjust="spacingAndGlyphs" xml:space="preserve">50</text>
<text transform="translate(529.80,802.40) rotate(-90)" x="0" y="0" font-size="33.70" font-style="normal" fill="#000" textLength="88.52" lengthAdjust="spacingAndGlyphs" xml:space="preserve">(days)</text>
<line x1="580.50" y1="666.70" x2="580.50" y2="913.80" stroke="#000" stroke-width="2.3" />
<line x1="571.50" y1="666.70" x2="580.50" y2="666.70" stroke="#000" stroke-width="2.3" />
<line x1="571.50" y1="729.10" x2="580.50" y2="729.10" stroke="#000" stroke-width="2.3" />
<line x1="571.50" y1="790.40" x2="580.50" y2="790.40" stroke="#000" stroke-width="2.3" />
<line x1="571.50" y1="852.10" x2="580.50" y2="852.10" stroke="#000" stroke-width="2.3" />
<line x1="571.50" y1="913.80" x2="580.50" y2="913.80" stroke="#000" stroke-width="2.3" />
<text x="532.43" y="678.78" font-size="34.50" fill="#000">12</text>
<text x="551.40" y="741.00" font-size="34.50" fill="#000">9</text>
<text x="551.23" y="802.30" font-size="34.50" fill="#000">6</text>
<text x="551.23" y="864.00" font-size="34.50" fill="#000">3</text>
<text x="551.06" y="925.70" font-size="34.50" fill="#000">0</text>
<line x1="572.30" y1="913.80" x2="898.00" y2="913.80" stroke="#000" stroke-width="2.3" />
<line x1="738.20" y1="667.70" x2="738.20" y2="919.90" stroke="#000" stroke-width="2.5" stroke-dasharray="8,5"/>
<rect x="600.90" y="794.40" width="37.40" height="119.40" fill="#d0fcd0" stroke="#000" stroke-width="2.2"/>
<rect x="659.70" y="830.70" width="38.50" height="83.10" fill="#f0ccf0" stroke="#000" stroke-width="2.2"/>
<rect x="779.20" y="763.50" width="37.40" height="150.30" fill="#d0fcd0" stroke="#000" stroke-width="2.2"/>
<rect x="838.00" y="821.80" width="37.50" height="92.00" fill="#f0ccf0" stroke="#000" stroke-width="2.2"/>
<line x1="619.60" y1="913.80" x2="619.60" y2="921.80" stroke="#000" stroke-width="2.3" />
<line x1="679.00" y1="913.80" x2="679.00" y2="921.80" stroke="#000" stroke-width="2.3" />
<line x1="797.90" y1="913.80" x2="797.90" y2="921.80" stroke="#000" stroke-width="2.3" />
<line x1="856.70" y1="913.80" x2="856.70" y2="921.80" stroke="#000" stroke-width="2.3" />
<line x1="619.60" y1="785.40" x2="619.60" y2="803.30" stroke="#000" stroke-width="1.8" />
<line x1="608.10" y1="785.40" x2="631.10" y2="785.40" stroke="#000" stroke-width="1.8" />
<line x1="608.10" y1="803.30" x2="631.10" y2="803.30" stroke="#000" stroke-width="1.8" />
<line x1="679.00" y1="825.40" x2="679.00" y2="836.00" stroke="#000" stroke-width="1.8" />
<line x1="667.50" y1="825.40" x2="690.50" y2="825.40" stroke="#000" stroke-width="1.8" />
<line x1="667.50" y1="836.00" x2="690.50" y2="836.00" stroke="#000" stroke-width="1.8" />
<line x1="797.90" y1="754.00" x2="797.90" y2="774.70" stroke="#000" stroke-width="1.8" />
<line x1="786.40" y1="754.00" x2="809.40" y2="754.00" stroke="#000" stroke-width="1.8" />
<line x1="786.40" y1="774.70" x2="809.40" y2="774.70" stroke="#000" stroke-width="1.8" />
<line x1="856.70" y1="812.90" x2="856.70" y2="828.20" stroke="#000" stroke-width="1.8" />
<line x1="845.20" y1="812.90" x2="868.20" y2="812.90" stroke="#000" stroke-width="1.8" />
<line x1="845.20" y1="828.20" x2="868.20" y2="828.20" stroke="#000" stroke-width="1.8" />
<circle cx="619.40" cy="754.00" r="3.60" fill="none" stroke="#000" stroke-width="1.5"/>
<circle cx="602.70" cy="795.00" r="3.60" fill="none" stroke="#000" stroke-width="1.5"/>
<circle cx="619.40" cy="801.50" r="3.60" fill="none" stroke="#000" stroke-width="1.5"/>
<circle cx="635.50" cy="794.40" r="3.60" fill="none" stroke="#000" stroke-width="1.5"/>
<circle cx="602.70" cy="809.30" r="3.60" fill="none" stroke="#000" stroke-width="1.5"/>
<circle cx="635.50" cy="804.00" r="3.60" fill="none" stroke="#000" stroke-width="1.5"/>
<circle cx="662.60" cy="820.00" r="3.60" fill="none" stroke="#000" stroke-width="1.5"/>
<circle cx="694.70" cy="820.00" r="3.60" fill="none" stroke="#000" stroke-width="1.5"/>
<circle cx="678.30" cy="827.20" r="3.60" fill="none" stroke="#000" stroke-width="1.5"/>
<circle cx="670.40" cy="843.20" r="3.60" fill="none" stroke="#000" stroke-width="1.5"/>
<circle cx="686.50" cy="843.20" r="3.60" fill="none" stroke="#000" stroke-width="1.5"/>
<circle cx="678.30" cy="834.30" r="3.60" fill="none" stroke="#000" stroke-width="1.5"/>
<circle cx="797.00" cy="734.40" r="3.60" fill="none" stroke="#000" stroke-width="1.5"/>
<circle cx="789.90" cy="746.90" r="3.60" fill="none" stroke="#000" stroke-width="1.5"/>
<circle cx="804.10" cy="748.70" r="3.60" fill="none" stroke="#000" stroke-width="1.5"/>
<circle cx="789.90" cy="770.10" r="3.60" fill="none" stroke="#000" stroke-width="1.5"/>
<circle cx="804.10" cy="773.70" r="3.60" fill="none" stroke="#000" stroke-width="1.5"/>
<circle cx="797.00" cy="805.80" r="3.60" fill="none" stroke="#000" stroke-width="1.5"/>
<circle cx="840.90" cy="804.70" r="3.60" fill="none" stroke="#000" stroke-width="1.5"/>
<circle cx="856.60" cy="810.40" r="3.60" fill="none" stroke="#000" stroke-width="1.5"/>
<circle cx="873.00" cy="804.00" r="3.60" fill="none" stroke="#000" stroke-width="1.5"/>
<circle cx="856.60" cy="821.80" r="3.60" fill="none" stroke="#000" stroke-width="1.5"/>
<circle cx="848.70" cy="845.00" r="3.60" fill="none" stroke="#000" stroke-width="1.5"/>
<circle cx="864.80" cy="839.60" r="3.60" fill="none" stroke="#000" stroke-width="1.5"/>
<line x1="616.90" y1="927.00" x2="684.00" y2="927.00" stroke="#000" stroke-width="2" />
<line x1="793.50" y1="927.00" x2="861.20" y2="927.00" stroke="#000" stroke-width="2" />
<text x="610.81" y="955.50" font-size="31.40" font-weight="normal" font-style="normal" fill="#000" textLength="108.14" lengthAdjust="spacingAndGlyphs">Female</text>
<text x="792.61" y="957.30" font-size="31.40" font-weight="normal" font-style="normal" fill="#000" textLength="70.13" lengthAdjust="spacingAndGlyphs">Male</text>
<line x1="595.50" y1="964.50" x2="881.90" y2="964.50" stroke="#000" stroke-width="2" />
<text x="718.51" y="993.00" font-size="30.50" font-weight="normal" font-style="normal" fill="#000" textLength="39.91" lengthAdjust="spacingAndGlyphs">2h</text>
<text x="612.16" y="733.78" font-size="24.00" font-weight="normal" font-style="normal" fill="#1a1ae6">B</text>
<text x="670.48" y="799.78" font-size="24.00" font-weight="normal" font-style="normal" fill="#1a1ae6">C</text>
<text x="789.02" y="717.78" font-size="24.00" font-weight="normal" font-style="normal" fill="#1a1ae6">A</text>
<text x="842.34" y="776.58" font-size="24.00" font-weight="normal" font-style="normal" fill="#1a1ae6">BC</text>
<text transform="translate(948.60,869.09) rotate(-90)" x="0" y="0" font-size="33.70" font-style="normal" fill="#000" textLength="35.40" lengthAdjust="spacingAndGlyphs" xml:space="preserve">LT</text>
<text transform="translate(956.40,833.59) rotate(-90)" x="0" y="0" font-size="25.61" font-style="normal" fill="#000" textLength="26.90" lengthAdjust="spacingAndGlyphs" xml:space="preserve">50</text>
<text transform="translate(948.60,802.07) rotate(-90)" x="0" y="0" font-size="33.70" font-style="normal" fill="#000" textLength="89.11" lengthAdjust="spacingAndGlyphs" xml:space="preserve">(days)</text>
<line x1="996.50" y1="666.80" x2="996.50" y2="912.40" stroke="#000" stroke-width="2.3" />
<line x1="987.50" y1="666.80" x2="996.50" y2="666.80" stroke="#000" stroke-width="2.3" />
<line x1="987.50" y1="728.70" x2="996.50" y2="728.70" stroke="#000" stroke-width="2.3" />
<line x1="987.50" y1="790.10" x2="996.50" y2="790.10" stroke="#000" stroke-width="2.3" />
<line x1="987.50" y1="851.60" x2="996.50" y2="851.60" stroke="#000" stroke-width="2.3" />
<line x1="987.50" y1="912.40" x2="996.50" y2="912.40" stroke="#000" stroke-width="2.3" />
<text x="966.73" y="678.70" font-size="34.50" fill="#000">8</text>
<text x="966.73" y="740.60" font-size="34.50" fill="#000">6</text>
<text x="966.39" y="802.00" font-size="34.50" fill="#000">4</text>
<text x="967.08" y="863.68" font-size="34.50" fill="#000">2</text>
<text x="966.56" y="924.30" font-size="34.50" fill="#000">0</text>
<line x1="988.60" y1="912.40" x2="1312.80" y2="912.40" stroke="#000" stroke-width="2.3" />
<line x1="1154.50" y1="666.80" x2="1154.50" y2="918.80" stroke="#000" stroke-width="2.5" stroke-dasharray="8,5"/>
<rect x="1017.20" y="772.70" width="37.20" height="139.70" fill="#d0fcd0" stroke="#000" stroke-width="2.2"/>
<rect x="1076.20" y="807.90" width="37.50" height="104.50" fill="#f0ccf0" stroke="#000" stroke-width="2.2"/>
<rect x="1194.80" y="789.80" width="37.60" height="122.60" fill="#d0fcd0" stroke="#000" stroke-width="2.2"/>
<rect x="1253.80" y="808.40" width="36.80" height="104.00" fill="#f0ccf0" stroke="#000" stroke-width="2.2"/>
<line x1="1035.80" y1="912.40" x2="1035.80" y2="920.40" stroke="#000" stroke-width="2.3" />
<line x1="1094.90" y1="912.40" x2="1094.90" y2="920.40" stroke="#000" stroke-width="2.3" />
<line x1="1213.60" y1="912.40" x2="1213.60" y2="920.40" stroke="#000" stroke-width="2.3" />
<line x1="1272.20" y1="912.40" x2="1272.20" y2="920.40" stroke="#000" stroke-width="2.3" />
<line x1="1035.80" y1="765.10" x2="1035.80" y2="779.40" stroke="#000" stroke-width="1.8" />
<line x1="1024.30" y1="765.10" x2="1047.30" y2="765.10" stroke="#000" stroke-width="1.8" />
<line x1="1024.30" y1="779.40" x2="1047.30" y2="779.40" stroke="#000" stroke-width="1.8" />
<line x1="1094.90" y1="798.40" x2="1094.90" y2="815.90" stroke="#000" stroke-width="1.8" />
<line x1="1083.40" y1="798.40" x2="1106.40" y2="798.40" stroke="#000" stroke-width="1.8" />
<line x1="1083.40" y1="815.90" x2="1106.40" y2="815.90" stroke="#000" stroke-width="1.8" />
<line x1="1213.60" y1="784.80" x2="1213.60" y2="794.40" stroke="#000" stroke-width="1.8" />
<line x1="1202.10" y1="784.80" x2="1225.10" y2="784.80" stroke="#000" stroke-width="1.8" />
<line x1="1202.10" y1="794.40" x2="1225.10" y2="794.40" stroke="#000" stroke-width="1.8" />
<line x1="1272.20" y1="802.70" x2="1272.20" y2="812.30" stroke="#000" stroke-width="1.8" />
<line x1="1260.70" y1="802.70" x2="1283.70" y2="802.70" stroke="#000" stroke-width="1.8" />
<line x1="1260.70" y1="812.30" x2="1283.70" y2="812.30" stroke="#000" stroke-width="1.8" />
<circle cx="1028.00" cy="752.60" r="3.60" fill="none" stroke="#000" stroke-width="1.5"/>
<circle cx="1043.70" cy="750.80" r="3.60" fill="none" stroke="#000" stroke-width="1.5"/>
<circle cx="1020.80" cy="777.60" r="3.60" fill="none" stroke="#000" stroke-width="1.5"/>
<circle cx="1035.80" cy="776.60" r="3.60" fill="none" stroke="#000" stroke-width="1.5"/>
<circle cx="1051.90" cy="777.60" r="3.60" fill="none" stroke="#000" stroke-width="1.5"/>
<circle cx="1035.80" cy="790.90" r="3.60" fill="none" stroke="#000" stroke-width="1.5"/>
<circle cx="1094.80" cy="768.00" r="3.60" fill="none" stroke="#000" stroke-width="1.5"/>
<circle cx="1079.80" cy="811.60" r="3.60" fill="none" stroke="#000" stroke-width="1.5"/>
<circle cx="1110.90" cy="811.60" r="3.60" fill="none" stroke="#000" stroke-width="1.5"/>
<circle cx="1094.80" cy="805.50" r="3.60" fill="none" stroke="#000" stroke-width="1.5"/>
<circle cx="1094.80" cy="817.00" r="3.60" fill="none" stroke="#000" stroke-width="1.5"/>
<circle cx="1094.80" cy="830.20" r="3.60" fill="none" stroke="#000" stroke-width="1.5"/>
<circle cx="1196.60" cy="781.20" r="3.60" fill="none" stroke="#000" stroke-width="1.5"/>
<circle cx="1205.60" cy="784.80" r="3.60" fill="none" stroke="#000" stroke-width="1.5"/>
<circle cx="1214.50" cy="784.80" r="3.60" fill="none" stroke="#000" stroke-width="1.5"/>
<circle cx="1229.90" cy="777.60" r="3.60" fill="none" stroke="#000" stroke-width="1.5"/>
<circle cx="1206.60" cy="803.40" r="3.60" fill="none" stroke="#000" stroke-width="1.5"/>
<circle cx="1219.90" cy="803.40" r="3.60" fill="none" stroke="#000" stroke-width="1.5"/>
<circle cx="1264.50" cy="795.50" r="3.60" fill="none" stroke="#000" stroke-width="1.5"/>
<circle cx="1279.60" cy="791.90" r="3.60" fill="none" stroke="#000" stroke-width="1.5"/>
<circle cx="1271.70" cy="804.40" r="3.60" fill="none" stroke="#000" stroke-width="1.5"/>
<circle cx="1264.50" cy="820.50" r="3.60" fill="none" stroke="#000" stroke-width="1.5"/>
<circle cx="1279.60" cy="820.50" r="3.60" fill="none" stroke="#000" stroke-width="1.5"/>
<circle cx="1271.70" cy="812.00" r="3.60" fill="none" stroke="#000" stroke-width="1.5"/>
<line x1="1032.20" y1="926.00" x2="1100.10" y2="926.00" stroke="#000" stroke-width="2" />
<line x1="1208.00" y1="926.00" x2="1276.00" y2="926.00" stroke="#000" stroke-width="2" />
<text x="1026.08" y="953.80" font-size="31.40" font-weight="normal" font-style="normal" fill="#000" textLength="109.39" lengthAdjust="spacingAndGlyphs">Female</text>
<text x="1207.58" y="955.30" font-size="31.40" font-weight="normal" font-style="normal" fill="#000" textLength="70.98" lengthAdjust="spacingAndGlyphs">Male</text>
<line x1="1012.60" y1="962.40" x2="1296.70" y2="962.40" stroke="#000" stroke-width="2" />
<text x="1124.36" y="992.00" font-size="30.50" font-weight="normal" font-style="normal" fill="#000" textLength="58.64" lengthAdjust="spacingAndGlyphs">12h</text>
<text x="1027.82" y="725.18" font-size="24.00" font-weight="normal" font-style="normal" fill="#1a1ae6">A</text>
<text x="1086.46" y="748.38" font-size="24.00" font-weight="normal" font-style="normal" fill="#1a1ae6">B</text>
<text x="1195.04" y="760.88" font-size="24.00" font-weight="normal" font-style="normal" fill="#1a1ae6">AB</text>
<text x="1263.36" y="776.28" font-size="24.00" font-weight="normal" font-style="normal" fill="#1a1ae6">B</text>
<line x1="22.10" y1="1006.40" x2="1321.80" y2="1006.40" stroke="#000" stroke-width="2.6" />
<line x1="22.10" y1="1042.50" x2="1321.80" y2="1042.50" stroke="#000" stroke-width="2.6" />
<line x1="22.10" y1="1080.80" x2="1321.80" y2="1080.80" stroke="#000" stroke-width="2.6" />
<line x1="22.10" y1="1118.90" x2="1321.80" y2="1118.90" stroke="#000" stroke-width="2.6" />
<line x1="22.10" y1="1155.50" x2="1321.80" y2="1155.50" stroke="#000" stroke-width="2.6" />
<text x="66.25" y="1033.50" font-size="25.60" font-weight="normal" font-style="normal" fill="#000" textLength="70.43" lengthAdjust="spacingAndGlyphs">Mean</text>
<text x="24.09" y="1071.30" font-size="25.60" font-weight="normal" font-style="normal" fill="#000" textLength="23.20" lengthAdjust="spacingAndGlyphs">%</text>
<text x="49.49" y="1071.30" font-size="25.60" font-weight="normal" font-style="normal" fill="#000" textLength="104.47" lengthAdjust="spacingAndGlyphs">Mortality</text>
<text x="83.06" y="1107.70" font-size="25.60" font-weight="normal" font-style="normal" fill="#000" textLength="22.96" lengthAdjust="spacingAndGlyphs">N</text>
<text x="81.24" y="1146.90" font-size="25.60" font-weight="normal" font-style="normal" fill="#000" textLength="23.11" lengthAdjust="spacingAndGlyphs">R</text>
<text x="166.15" y="1033.50" font-size="25.60" font-weight="normal" font-style="normal" fill="#000" textLength="56.44" lengthAdjust="spacingAndGlyphs">6.42</text>
<text x="234.84" y="1033.50" font-size="25.60" font-weight="normal" font-style="normal" fill="#000" textLength="54.52" lengthAdjust="spacingAndGlyphs">4.73</text>
<text x="339.35" y="1033.50" font-size="25.60" font-weight="normal" font-style="normal" fill="#000" textLength="54.10" lengthAdjust="spacingAndGlyphs">8.98</text>
<text x="408.86" y="1033.50" font-size="25.60" font-weight="normal" font-style="normal" fill="#000" textLength="52.39" lengthAdjust="spacingAndGlyphs">4.91</text>
<text x="589.39" y="1032.00" font-size="25.60" font-weight="normal" font-style="normal" fill="#000" textLength="54.08" lengthAdjust="spacingAndGlyphs">5.84</text>
<text x="658.74" y="1032.00" font-size="25.60" font-weight="normal" font-style="normal" fill="#000" textLength="54.95" lengthAdjust="spacingAndGlyphs">4.04</text>
<text x="773.80" y="1032.00" font-size="25.60" font-weight="normal" font-style="normal" fill="#000" textLength="54.35" lengthAdjust="spacingAndGlyphs">7.33</text>
<text x="843.70" y="1032.00" font-size="25.60" font-weight="normal" font-style="normal" fill="#000" textLength="53.51" lengthAdjust="spacingAndGlyphs">5.37</text>
<text x="1009.94" y="1032.90" font-size="25.60" font-weight="normal" font-style="normal" fill="#000" textLength="54.48" lengthAdjust="spacingAndGlyphs">4.60</text>
<text x="1075.79" y="1032.90" font-size="25.60" font-weight="normal" font-style="normal" fill="#000" textLength="54.08" lengthAdjust="spacingAndGlyphs">3.44</text>
<text x="1193.45" y="1032.90" font-size="25.60" font-weight="normal" font-style="normal" fill="#000" textLength="53.80" lengthAdjust="spacingAndGlyphs">4.03</text>
<text x="1258.48" y="1032.90" font-size="25.60" font-weight="normal" font-style="normal" fill="#000" textLength="54.48" lengthAdjust="spacingAndGlyphs">3.45</text>
<text x="166.51" y="1071.30" font-size="25.60" font-weight="normal" font-style="normal" fill="#000" textLength="53.20" lengthAdjust="spacingAndGlyphs">50.7</text>
<text x="238.32" y="1071.30" font-size="25.60" font-weight="normal" font-style="normal" fill="#000" textLength="53.80" lengthAdjust="spacingAndGlyphs">78.7</text>
<text x="334.04" y="1071.30" font-size="25.60" font-weight="normal" font-style="normal" fill="#000" textLength="56.41" lengthAdjust="spacingAndGlyphs">34.0</text>
<text x="408.02" y="1071.30" font-size="25.60" font-weight="normal" font-style="normal" fill="#000" textLength="53.91" lengthAdjust="spacingAndGlyphs">76.7</text>
<text x="586.57" y="1072.70" font-size="25.60" font-weight="normal" font-style="normal" fill="#000" textLength="55.83" lengthAdjust="spacingAndGlyphs">62.4</text>
<text x="661.65" y="1072.70" font-size="25.60" font-weight="normal" font-style="normal" fill="#000" textLength="54.10" lengthAdjust="spacingAndGlyphs">84.3</text>
<text x="771.84" y="1072.70" font-size="25.60" font-weight="normal" font-style="normal" fill="#000" textLength="54.52" lengthAdjust="spacingAndGlyphs">41.5</text>
<text x="845.21" y="1072.70" font-size="25.60" font-weight="normal" font-style="normal" fill="#000" textLength="54.22" lengthAdjust="spacingAndGlyphs">71.2</text>
<text x="1002.56" y="1072.00" font-size="25.60" font-weight="normal" font-style="normal" fill="#000" textLength="53.79" lengthAdjust="spacingAndGlyphs">87.6</text>
<text x="1089.43" y="1073.90" font-size="25.60" font-weight="normal" font-style="normal" fill="#000" textLength="54.77" lengthAdjust="spacingAndGlyphs">93.1</text>
<text x="1175.13" y="1072.00" font-size="25.60" font-weight="normal" font-style="normal" fill="#000" textLength="54.77" lengthAdjust="spacingAndGlyphs">83.9</text>
<text x="1257.24" y="1072.00" font-size="25.60" font-weight="normal" font-style="normal" fill="#000" textLength="54.33" lengthAdjust="spacingAndGlyphs">91.4</text>
<text x="173.28" y="1107.70" font-size="25.60" font-weight="normal" font-style="normal" fill="#000" textLength="31.50" lengthAdjust="spacingAndGlyphs">72</text>
<text x="241.99" y="1107.70" font-size="25.60" font-weight="normal" font-style="normal" fill="#000" textLength="29.88" lengthAdjust="spacingAndGlyphs">84</text>
<text x="353.73" y="1107.70" font-size="25.60" font-weight="normal" font-style="normal" fill="#000" textLength="29.70" lengthAdjust="spacingAndGlyphs">58</text>
<text x="415.12" y="1107.70" font-size="25.60" font-weight="normal" font-style="normal" fill="#000" textLength="30.78" lengthAdjust="spacingAndGlyphs">64</text>
<text x="606.92" y="1108.40" font-size="25.60" font-weight="normal" font-style="normal" fill="#000" textLength="30.62" lengthAdjust="spacingAndGlyphs">77</text>
<text x="673.36" y="1108.40" font-size="25.60" font-weight="normal" font-style="normal" fill="#000" textLength="29.88" lengthAdjust="spacingAndGlyphs">78</text>
<text x="784.09" y="1108.40" font-size="25.60" font-weight="normal" font-style="normal" fill="#000" textLength="30.89" lengthAdjust="spacingAndGlyphs">53</text>
<text x="852.95" y="1107.00" font-size="25.60" font-weight="normal" font-style="normal" fill="#000" textLength="32.28" lengthAdjust="spacingAndGlyphs">63</text>
<text x="1018.34" y="1106.30" font-size="25.60" font-weight="normal" font-style="normal" fill="#000" textLength="32.50" lengthAdjust="spacingAndGlyphs">65</text>
<text x="1088.12" y="1108.60" font-size="25.60" font-weight="normal" font-style="normal" fill="#000" textLength="30.67" lengthAdjust="spacingAndGlyphs">74</text>
<text x="1197.34" y="1107.50" font-size="25.60" font-weight="normal" font-style="normal" fill="#000" textLength="32.50" lengthAdjust="spacingAndGlyphs">68</text>
<text x="1266.34" y="1109.30" font-size="25.60" font-weight="normal" font-style="normal" fill="#000" textLength="32.50" lengthAdjust="spacingAndGlyphs">73</text>
<text x="177.80" y="1146.90" font-size="25.60" font-weight="normal" font-style="normal" fill="#000" textLength="17.80" lengthAdjust="spacingAndGlyphs">6</text>
<text x="243.80" y="1146.90" font-size="25.60" font-weight="normal" font-style="normal" fill="#000" textLength="17.80" lengthAdjust="spacingAndGlyphs">6</text>
<text x="360.40" y="1146.90" font-size="25.60" font-weight="normal" font-style="normal" fill="#000" textLength="17.80" lengthAdjust="spacingAndGlyphs">6</text>
<text x="419.20" y="1146.90" font-size="25.60" font-weight="normal" font-style="normal" fill="#000" textLength="17.80" lengthAdjust="spacingAndGlyphs">6</text>
<text x="608.90" y="1146.90" font-size="25.60" font-weight="normal" font-style="normal" fill="#000" textLength="17.80" lengthAdjust="spacingAndGlyphs">6</text>
<text x="678.10" y="1146.90" font-size="25.60" font-weight="normal" font-style="normal" fill="#000" textLength="17.80" lengthAdjust="spacingAndGlyphs">6</text>
<text x="793.20" y="1146.90" font-size="25.60" font-weight="normal" font-style="normal" fill="#000" textLength="17.80" lengthAdjust="spacingAndGlyphs">6</text>
<text x="859.90" y="1146.90" font-size="25.60" font-weight="normal" font-style="normal" fill="#000" textLength="17.80" lengthAdjust="spacingAndGlyphs">6</text>
<text x="1025.70" y="1144.70" font-size="25.60" font-weight="normal" font-style="normal" fill="#000" textLength="17.80" lengthAdjust="spacingAndGlyphs">6</text>
<text x="1091.70" y="1146.60" font-size="25.60" font-weight="normal" font-style="normal" fill="#000" textLength="17.80" lengthAdjust="spacingAndGlyphs">6</text>
<text x="1203.50" y="1146.60" font-size="25.60" font-weight="normal" font-style="normal" fill="#000" textLength="17.80" lengthAdjust="spacingAndGlyphs">6</text>
<text x="1277.40" y="1146.60" font-size="25.60" font-weight="normal" font-style="normal" fill="#000" textLength="17.80" lengthAdjust="spacingAndGlyphs">6</text>
<text x="218.70" y="1063.36" font-size="19.50" font-weight="normal" font-style="normal" fill="#000" textLength="14.21" lengthAdjust="spacingAndGlyphs">B</text>
<text x="292.40" y="1063.36" font-size="19.50" font-weight="normal" font-style="normal" fill="#000" textLength="13.64" lengthAdjust="spacingAndGlyphs">A</text>
<text x="390.00" y="1063.36" font-size="19.50" font-weight="normal" font-style="normal" fill="#000" textLength="13.34" lengthAdjust="spacingAndGlyphs">B</text>
<text x="462.50" y="1063.36" font-size="19.50" font-weight="normal" font-style="normal" fill="#000" textLength="13.54" lengthAdjust="spacingAndGlyphs">A</text>
<text x="641.70" y="1063.95" font-size="19.50" font-weight="normal" font-style="normal" fill="#000" textLength="13.34" lengthAdjust="spacingAndGlyphs">B</text>
<text x="715.30" y="1063.95" font-size="19.50" font-weight="normal" font-style="normal" fill="#000" textLength="12.94" lengthAdjust="spacingAndGlyphs">A</text>
<text x="826.03" y="1063.95" font-size="19.50" font-weight="normal" font-style="normal" fill="#000">C</text>
<text x="900.00" y="1063.95" font-size="19.50" font-weight="normal" font-style="normal" fill="#000" textLength="27.10" lengthAdjust="spacingAndGlyphs">AB</text>
<text x="1057.00" y="1061.25" font-size="19.50" font-weight="normal" font-style="normal" fill="#000" textLength="27.31" lengthAdjust="spacingAndGlyphs">AB</text>
<text x="1144.70" y="1062.95" font-size="19.50" font-weight="normal" font-style="normal" fill="#000" textLength="13.14" lengthAdjust="spacingAndGlyphs">A</text>
<text x="1228.72" y="1061.25" font-size="19.50" font-weight="normal" font-style="normal" fill="#000" textLength="14.84" lengthAdjust="spacingAndGlyphs">B</text>
<text x="1311.80" y="1061.25" font-size="19.50" font-weight="normal" font-style="normal" fill="#000" textLength="27.20" lengthAdjust="spacingAndGlyphs">AB</text>
<text x="19.59" y="1226.20" font-size="68.50" font-weight="bold" font-style="normal" fill="#000" textLength="37.73" lengthAdjust="spacingAndGlyphs">c</text>
<rect x="424.40" y="1185.70" width="25.60" height="34.90" fill="#d0fcd0" stroke="#111" stroke-width="2"/>
<text x="467.35" y="1215.60" font-size="35.50" font-weight="normal" font-style="normal" fill="#000" textLength="47.86" lengthAdjust="spacingAndGlyphs">WT</text>
<rect x="621.00" y="1186.60" width="24.90" height="32.10" fill="#f0ccf0" stroke="#111" stroke-width="2"/>
<text x="654.94" y="1212.90" font-size="35.50" font-weight="normal" font-style="italic" fill="#000" textLength="119.54" lengthAdjust="spacingAndGlyphs">Mp-Tps</text>
<text transform="translate(45.66,1526.85) rotate(-90)" x="0" y="0" font-size="34.70" font-style="normal" fill="#000" textLength="210.69" lengthAdjust="spacingAndGlyphs">Inoculum load</text>
<text transform="translate(86.36,1550.73) rotate(-90)" x="0" y="0" font-size="34.70" font-style="normal" fill="#000" textLength="270.87" lengthAdjust="spacingAndGlyphs">(spores/mosquito)</text>
<line x1="194.90" y1="1290.70" x2="194.90" y2="1419.50" stroke="#000" stroke-width="2.3" />
<line x1="194.90" y1="1439.00" x2="194.90" y2="1567.70" stroke="#000" stroke-width="2.3" />
<line x1="188.10" y1="1414.30" x2="201.60" y2="1427.10" stroke="#000" stroke-width="2" />
<line x1="188.10" y1="1432.20" x2="201.60" y2="1445.00" stroke="#000" stroke-width="2" />
<line x1="183.90" y1="1316.70" x2="194.90" y2="1316.70" stroke="#000" stroke-width="2.3" />
<line x1="183.90" y1="1355.20" x2="194.90" y2="1355.20" stroke="#000" stroke-width="2.3" />
<line x1="183.90" y1="1393.70" x2="194.90" y2="1393.70" stroke="#000" stroke-width="2.3" />
<line x1="183.90" y1="1464.90" x2="194.90" y2="1464.90" stroke="#000" stroke-width="2.3" />
<line x1="183.90" y1="1516.30" x2="194.90" y2="1516.30" stroke="#000" stroke-width="2.3" />
<line x1="183.90" y1="1567.70" x2="194.90" y2="1567.70" stroke="#000" stroke-width="2.3" />
<text x="101.79" y="1328.88" font-size="35.30" fill="#000">1800</text>
<text x="101.79" y="1367.38" font-size="35.30" fill="#000">1500</text>
<text x="101.79" y="1405.88" font-size="35.30" fill="#000">1200</text>
<text x="121.56" y="1477.08" font-size="35.30" fill="#000">400</text>
<text x="121.56" y="1528.48" font-size="35.30" fill="#000">200</text>
<text x="160.74" y="1579.88" font-size="35.30" fill="#000">0</text>
<line x1="183.00" y1="1567.70" x2="471.50" y2="1567.70" stroke="#000" stroke-width="2.3" />
<line x1="229.30" y1="1567.70" x2="229.30" y2="1578.20" stroke="#000" stroke-width="2.3" />
<line x1="281.00" y1="1567.70" x2="281.00" y2="1578.20" stroke="#000" stroke-width="2.3" />
<line x1="332.40" y1="1567.70" x2="332.40" y2="1578.20" stroke="#000" stroke-width="2.3" />
<line x1="384.00" y1="1567.70" x2="384.00" y2="1578.20" stroke="#000" stroke-width="2.3" />
<line x1="436.00" y1="1567.70" x2="436.00" y2="1578.20" stroke="#000" stroke-width="2.3" />
<line x1="211.10" y1="1583.00" x2="302.30" y2="1583.00" stroke="#000" stroke-width="2" />
<line x1="364.00" y1="1583.00" x2="455.70" y2="1583.00" stroke="#000" stroke-width="2" />
<text x="198.72" y="1612.80" font-size="33.00" font-weight="normal" font-style="normal" fill="#000" textLength="115.93" lengthAdjust="spacingAndGlyphs">Female</text>
<text x="374.50" y="1614.60" font-size="33.00" font-weight="normal" font-style="normal" fill="#000" textLength="75.76" lengthAdjust="spacingAndGlyphs">Male</text>
<line x1="229.30" y1="1519.50" x2="229.30" y2="1567.00" stroke="#000" stroke-width="2.4" />
<path d="M229.3,1521 L234.3,1527 L229.3,1532 L224.3,1527 Z" fill="#000"/>
<circle cx="228.30" cy="1527.50" r="4.00" fill="#000" stroke="none" stroke-width="0"/>
<circle cx="229.30" cy="1549.80" r="3.20" fill="#000" stroke="none" stroke-width="0"/>
<circle cx="229.30" cy="1559.50" r="3.20" fill="#000" stroke="none" stroke-width="0"/>
<path d="M212,1567.7 Q215,1563 229,1562 Q243,1563 246.5,1567.7 Q243,1571 229,1571 Q215,1571 212,1567.7 Z" fill="#000"/>
<circle cx="214.00" cy="1567.50" r="3.20" fill="#000" stroke="none" stroke-width="0"/>
<circle cx="219.00" cy="1567.50" r="3.20" fill="#000" stroke="none" stroke-width="0"/>
<circle cx="224.00" cy="1567.50" r="3.20" fill="#000" stroke="none" stroke-width="0"/>
<circle cx="234.00" cy="1567.50" r="3.20" fill="#000" stroke="none" stroke-width="0"/>
<circle cx="239.00" cy="1567.50" r="3.20" fill="#000" stroke="none" stroke-width="0"/>
<circle cx="244.00" cy="1567.50" r="3.20" fill="#000" stroke="none" stroke-width="0"/>
<path d="M281.80,1439.50 L281.92,1441.62 L282.20,1443.75 L282.48,1445.88 L282.60,1448.00 L282.88,1450.12 L283.56,1452.25 L284.29,1454.38 L284.68,1456.50 L284.67,1458.62 L284.55,1460.75 L284.36,1462.88 L284.15,1465.00 L283.96,1467.12 L283.83,1469.25 L283.80,1471.38 L283.85,1473.50 L283.95,1475.62 L284.11,1477.75 L284.31,1479.88 L284.52,1482.00 L284.73,1484.12 L284.92,1486.25 L285.07,1488.38 L285.17,1490.50 L285.20,1492.62 L285.11,1494.75 L284.88,1496.88 L284.53,1499.00 L284.13,1501.12 L283.76,1503.25 L283.47,1505.38 L283.32,1507.50 L283.35,1509.62 L283.63,1511.75 L284.11,1513.88 L284.68,1516.00 L285.20,1518.12 L285.57,1520.25 L285.70,1522.38 L285.56,1524.50 L285.18,1526.62 L284.65,1528.75 L284.08,1530.88 L283.61,1533.00 L283.34,1535.12 L283.43,1537.25 L284.52,1539.38 L285.93,1541.50 L286.60,1543.62 L287.26,1545.75 L288.92,1547.88 L290.57,1550.00 L291.20,1552.12 L292.48,1554.25 L294.52,1556.38 L295.09,1558.50 L295.96,1560.62 L296.76,1562.75 L296.45,1564.88 L295.90,1567.00 L266.10,1567.00 L265.55,1564.88 L265.24,1562.75 L266.04,1560.62 L266.91,1558.50 L267.48,1556.38 L269.52,1554.25 L270.80,1552.12 L271.43,1550.00 L273.08,1547.88 L274.74,1545.75 L275.40,1543.62 L276.07,1541.50 L277.48,1539.38 L278.57,1537.25 L278.66,1535.12 L278.39,1533.00 L277.92,1530.88 L277.35,1528.75 L276.82,1526.62 L276.44,1524.50 L276.30,1522.38 L276.43,1520.25 L276.80,1518.12 L277.32,1516.00 L277.89,1513.88 L278.37,1511.75 L278.65,1509.62 L278.68,1507.50 L278.53,1505.38 L278.24,1503.25 L277.87,1501.12 L277.47,1499.00 L277.12,1496.88 L276.89,1494.75 L276.80,1492.62 L276.83,1490.50 L276.93,1488.38 L277.08,1486.25 L277.27,1484.12 L277.48,1482.00 L277.69,1479.88 L277.89,1477.75 L278.05,1475.62 L278.15,1473.50 L278.20,1471.38 L278.17,1469.25 L278.04,1467.12 L277.85,1465.00 L277.64,1462.88 L277.45,1460.75 L277.33,1458.62 L277.32,1456.50 L277.71,1454.38 L278.44,1452.25 L279.12,1450.12 L279.40,1448.00 L279.52,1445.88 L279.80,1443.75 L280.08,1441.62 L280.20,1439.50 Z" fill="#f0ccf0" stroke="none"/>
<path d="M281.80,1439.50 L281.92,1441.62 L282.20,1443.75 L282.48,1445.88 L282.60,1448.00 L282.88,1450.12 L283.56,1452.25 L284.29,1454.38 L284.68,1456.50 L284.67,1458.62 L284.55,1460.75 L284.36,1462.88 L284.15,1465.00 L283.96,1467.12 L283.83,1469.25 L283.80,1471.38 L283.85,1473.50 L283.95,1475.62 L284.11,1477.75 L284.31,1479.88 L284.52,1482.00 L284.73,1484.12 L284.92,1486.25 L285.07,1488.38 L285.17,1490.50 L285.20,1492.62 L285.11,1494.75 L284.88,1496.88 L284.53,1499.00 L284.13,1501.12 L283.76,1503.25 L283.47,1505.38 L283.32,1507.50 L283.35,1509.62 L283.63,1511.75 L284.11,1513.88 L284.68,1516.00 L285.20,1518.12 L285.57,1520.25 L285.70,1522.38 L285.56,1524.50 L285.18,1526.62 L284.65,1528.75 L284.08,1530.88 L283.61,1533.00 L283.34,1535.12 L283.43,1537.25 L284.52,1539.38 L285.93,1541.50 L286.60,1543.62 L287.26,1545.75 L288.92,1547.88 L290.57,1550.00 L291.20,1552.12 L292.48,1554.25 L294.52,1556.38 L295.09,1558.50 L295.96,1560.62 L296.76,1562.75 L296.45,1564.88 L295.90,1567.00" fill="none" stroke="#000" stroke-width="2.4" stroke-linejoin="round"/>
<path d="M266.10,1567.00 L265.55,1564.88 L265.24,1562.75 L266.04,1560.62 L266.91,1558.50 L267.48,1556.38 L269.52,1554.25 L270.80,1552.12 L271.43,1550.00 L273.08,1547.88 L274.74,1545.75 L275.40,1543.62 L276.07,1541.50 L277.48,1539.38 L278.57,1537.25 L278.66,1535.12 L278.39,1533.00 L277.92,1530.88 L277.35,1528.75 L276.82,1526.62 L276.44,1524.50 L276.30,1522.38 L276.43,1520.25 L276.80,1518.12 L277.32,1516.00 L277.89,1513.88 L278.37,1511.75 L278.65,1509.62 L278.68,1507.50 L278.53,1505.38 L278.24,1503.25 L277.87,1501.12 L277.47,1499.00 L277.12,1496.88 L276.89,1494.75 L276.80,1492.62 L276.83,1490.50 L276.93,1488.38 L277.08,1486.25 L277.27,1484.12 L277.48,1482.00 L277.69,1479.88 L277.89,1477.75 L278.05,1475.62 L278.15,1473.50 L278.20,1471.38 L278.17,1469.25 L278.04,1467.12 L277.85,1465.00 L277.64,1462.88 L277.45,1460.75 L277.33,1458.62 L277.32,1456.50 L277.71,1454.38 L278.44,1452.25 L279.12,1450.12 L279.40,1448.00 L279.52,1445.88 L279.80,1443.75 L280.08,1441.62 L280.20,1439.50" fill="none" stroke="#000" stroke-width="2.4" stroke-linejoin="round"/>
<line x1="281.00" y1="1440.00" x2="281.00" y2="1545.00" stroke="#000" stroke-width="1.4" />
<circle cx="281.00" cy="1452.00" r="3.00" fill="#000" stroke="none" stroke-width="0"/>
<circle cx="281.00" cy="1458.00" r="3.00" fill="#000" stroke="none" stroke-width="0"/>
<circle cx="281.00" cy="1488.00" r="3.00" fill="#000" stroke="none" stroke-width="0"/>
<circle cx="281.00" cy="1493.00" r="3.00" fill="#000" stroke="none" stroke-width="0"/>
<circle cx="281.00" cy="1520.00" r="3.00" fill="#000" stroke="none" stroke-width="0"/>
<circle cx="281.00" cy="1524.00" r="3.00" fill="#000" stroke="none" stroke-width="0"/>
<circle cx="279.00" cy="1554.00" r="3.40" fill="#000" stroke="none" stroke-width="0"/>
<circle cx="267.00" cy="1565.00" r="3.20" fill="#000" stroke="none" stroke-width="0"/>
<circle cx="273.00" cy="1565.00" r="3.20" fill="#000" stroke="none" stroke-width="0"/>
<circle cx="279.00" cy="1565.00" r="3.20" fill="#000" stroke="none" stroke-width="0"/>
<circle cx="285.00" cy="1565.00" r="3.20" fill="#000" stroke="none" stroke-width="0"/>
<circle cx="291.00" cy="1565.00" r="3.20" fill="#000" stroke="none" stroke-width="0"/>
<circle cx="295.00" cy="1565.00" r="3.20" fill="#000" stroke="none" stroke-width="0"/>
<circle cx="268.00" cy="1561.00" r="3.20" fill="#000" stroke="none" stroke-width="0"/>
<circle cx="332.40" cy="1568.40" r="3.40" fill="#000" stroke="none" stroke-width="0"/>
<line x1="384.00" y1="1492.20" x2="384.00" y2="1567.00" stroke="#000" stroke-width="2.4" />
<circle cx="384.00" cy="1500.90" r="3.40" fill="#000" stroke="none" stroke-width="0"/>
<circle cx="384.00" cy="1513.30" r="3.40" fill="#000" stroke="none" stroke-width="0"/>
<circle cx="384.00" cy="1547.40" r="3.40" fill="#000" stroke="none" stroke-width="0"/>
<path d="M367,1567.7 Q372,1562 384,1560 Q396,1562 402,1567.7 Q396,1571 384,1571 Q372,1571 367,1567.7 Z" fill="#000"/>
<circle cx="369.00" cy="1566.50" r="3.20" fill="#000" stroke="none" stroke-width="0"/>
<circle cx="373.00" cy="1566.50" r="3.20" fill="#000" stroke="none" stroke-width="0"/>
<circle cx="378.00" cy="1566.50" r="3.20" fill="#000" stroke="none" stroke-width="0"/>
<circle cx="390.00" cy="1566.50" r="3.20" fill="#000" stroke="none" stroke-width="0"/>
<circle cx="395.00" cy="1566.50" r="3.20" fill="#000" stroke="none" stroke-width="0"/>
<circle cx="400.00" cy="1566.50" r="3.20" fill="#000" stroke="none" stroke-width="0"/>
<line x1="436.00" y1="1311.70" x2="436.00" y2="1342.00" stroke="#000" stroke-width="2.4" />
<path d="M436.80,1339.60 L436.85,1340.94 L436.98,1342.29 L437.19,1343.63 L437.46,1344.97 L437.77,1346.32 L438.10,1347.66 L438.41,1349.00 L438.69,1350.35 L438.90,1351.69 L439.05,1353.03 L439.10,1354.38 L439.13,1355.72 L439.23,1357.06 L439.39,1358.41 L439.61,1359.75 L439.87,1361.09 L440.17,1362.44 L440.50,1363.78 L440.83,1365.12 L441.15,1366.47 L441.45,1367.81 L441.71,1369.15 L441.93,1370.50 L442.08,1371.84 L442.18,1373.18 L442.20,1374.53 L442.22,1375.87 L442.27,1377.21 L442.34,1378.56 L442.43,1379.90 L442.54,1381.24 L442.66,1382.59 L442.78,1383.93 L442.90,1385.27 L443.00,1386.62 L443.09,1387.96 L443.15,1389.30 L443.19,1390.65 L443.20,1391.99 L443.16,1393.33 L443.07,1394.68 L442.93,1396.02 L442.76,1397.36 L442.56,1398.71 L442.35,1400.05 L442.15,1401.39 L441.96,1402.74 L441.80,1404.08 L441.68,1405.42 L441.62,1406.77 L441.60,1408.11 L441.54,1409.45 L441.42,1410.80 L441.25,1412.14 L441.03,1413.48 L440.81,1414.83 L440.61,1416.17 L440.44,1417.51 L440.34,1418.86 L440.30,1420.20 L431.70,1420.20 L431.66,1418.86 L431.56,1417.51 L431.39,1416.17 L431.19,1414.83 L430.97,1413.48 L430.75,1412.14 L430.58,1410.80 L430.46,1409.45 L430.40,1408.11 L430.38,1406.77 L430.32,1405.42 L430.20,1404.08 L430.04,1402.74 L429.85,1401.39 L429.65,1400.05 L429.44,1398.71 L429.24,1397.36 L429.07,1396.02 L428.93,1394.68 L428.84,1393.33 L428.80,1391.99 L428.81,1390.65 L428.85,1389.30 L428.91,1387.96 L429.00,1386.62 L429.10,1385.27 L429.22,1383.93 L429.34,1382.59 L429.46,1381.24 L429.57,1379.90 L429.66,1378.56 L429.73,1377.21 L429.78,1375.87 L429.80,1374.53 L429.82,1373.18 L429.92,1371.84 L430.07,1370.50 L430.29,1369.15 L430.55,1367.81 L430.85,1366.47 L431.17,1365.12 L431.50,1363.78 L431.83,1362.44 L432.13,1361.09 L432.39,1359.75 L432.61,1358.41 L432.77,1357.06 L432.87,1355.72 L432.90,1354.38 L432.95,1353.03 L433.10,1351.69 L433.31,1350.35 L433.59,1349.00 L433.90,1347.66 L434.23,1346.32 L434.54,1344.97 L434.81,1343.63 L435.02,1342.29 L435.15,1340.94 L435.20,1339.60 Z" fill="#f0ccf0" stroke="none"/>
<path d="M436.80,1339.60 L436.85,1340.94 L436.98,1342.29 L437.19,1343.63 L437.46,1344.97 L437.77,1346.32 L438.10,1347.66 L438.41,1349.00 L438.69,1350.35 L438.90,1351.69 L439.05,1353.03 L439.10,1354.38 L439.13,1355.72 L439.23,1357.06 L439.39,1358.41 L439.61,1359.75 L439.87,1361.09 L440.17,1362.44 L440.50,1363.78 L440.83,1365.12 L441.15,1366.47 L441.45,1367.81 L441.71,1369.15 L441.93,1370.50 L442.08,1371.84 L442.18,1373.18 L442.20,1374.53 L442.22,1375.87 L442.27,1377.21 L442.34,1378.56 L442.43,1379.90 L442.54,1381.24 L442.66,1382.59 L442.78,1383.93 L442.90,1385.27 L443.00,1386.62 L443.09,1387.96 L443.15,1389.30 L443.19,1390.65 L443.20,1391.99 L443.16,1393.33 L443.07,1394.68 L442.93,1396.02 L442.76,1397.36 L442.56,1398.71 L442.35,1400.05 L442.15,1401.39 L441.96,1402.74 L441.80,1404.08 L441.68,1405.42 L441.62,1406.77 L441.60,1408.11 L441.54,1409.45 L441.42,1410.80 L441.25,1412.14 L441.03,1413.48 L440.81,1414.83 L440.61,1416.17 L440.44,1417.51 L440.34,1418.86 L440.30,1420.20" fill="none" stroke="#000" stroke-width="2.2" stroke-linejoin="round"/>
<path d="M431.70,1420.20 L431.66,1418.86 L431.56,1417.51 L431.39,1416.17 L431.19,1414.83 L430.97,1413.48 L430.75,1412.14 L430.58,1410.80 L430.46,1409.45 L430.40,1408.11 L430.38,1406.77 L430.32,1405.42 L430.20,1404.08 L430.04,1402.74 L429.85,1401.39 L429.65,1400.05 L429.44,1398.71 L429.24,1397.36 L429.07,1396.02 L428.93,1394.68 L428.84,1393.33 L428.80,1391.99 L428.81,1390.65 L428.85,1389.30 L428.91,1387.96 L429.00,1386.62 L429.10,1385.27 L429.22,1383.93 L429.34,1382.59 L429.46,1381.24 L429.57,1379.90 L429.66,1378.56 L429.73,1377.21 L429.78,1375.87 L429.80,1374.53 L429.82,1373.18 L429.92,1371.84 L430.07,1370.50 L430.29,1369.15 L430.55,1367.81 L430.85,1366.47 L431.17,1365.12 L431.50,1363.78 L431.83,1362.44 L432.13,1361.09 L432.39,1359.75 L432.61,1358.41 L432.77,1357.06 L432.87,1355.72 L432.90,1354.38 L432.95,1353.03 L433.10,1351.69 L433.31,1350.35 L433.59,1349.00 L433.90,1347.66 L434.23,1346.32 L434.54,1344.97 L434.81,1343.63 L435.02,1342.29 L435.15,1340.94 L435.20,1339.60" fill="none" stroke="#000" stroke-width="2.2" stroke-linejoin="round"/>
<circle cx="436.00" cy="1375.60" r="3.10" fill="#000" stroke="none" stroke-width="0"/>
<circle cx="436.00" cy="1392.30" r="3.10" fill="#000" stroke="none" stroke-width="0"/>
<circle cx="436.00" cy="1406.00" r="3.10" fill="#000" stroke="none" stroke-width="0"/>
<path d="M444.10,1439.50 L444.13,1441.64 L444.22,1443.78 L444.36,1445.91 L444.55,1448.05 L444.76,1450.19 L444.98,1452.33 L445.20,1454.47 L445.39,1456.61 L445.55,1458.74 L445.65,1460.88 L445.70,1463.02 L445.72,1465.16 L445.79,1467.30 L445.92,1469.44 L446.10,1471.58 L446.31,1473.71 L446.53,1475.85 L446.76,1477.99 L446.97,1480.13 L447.16,1482.27 L447.29,1484.40 L447.38,1486.54 L447.40,1488.68 L447.42,1490.82 L447.48,1492.96 L447.57,1495.10 L447.69,1497.23 L447.84,1499.37 L448.01,1501.51 L448.19,1503.65 L448.38,1505.79 L448.58,1507.93 L448.78,1510.07 L448.96,1512.20 L449.13,1514.34 L449.28,1516.48 L449.41,1518.62 L449.51,1520.76 L449.57,1522.89 L449.60,1525.03 L449.61,1527.17 L449.67,1529.31 L449.76,1531.45 L449.90,1533.59 L450.06,1535.72 L450.23,1537.86 L450.41,1540.00 L450.57,1542.14 L450.71,1544.28 L450.81,1546.42 L450.88,1548.56 L450.90,1550.69 L450.87,1552.83 L450.81,1554.97 L450.73,1557.11 L450.66,1559.25 L450.61,1561.38 L450.56,1563.52 L449.94,1565.66 L449.50,1567.80 L422.50,1567.80 L422.06,1565.66 L421.44,1563.52 L421.39,1561.38 L421.34,1559.25 L421.27,1557.11 L421.19,1554.97 L421.13,1552.83 L421.10,1550.69 L421.12,1548.56 L421.19,1546.42 L421.29,1544.28 L421.43,1542.14 L421.59,1540.00 L421.77,1537.86 L421.94,1535.72 L422.10,1533.59 L422.24,1531.45 L422.33,1529.31 L422.39,1527.17 L422.40,1525.03 L422.43,1522.89 L422.49,1520.76 L422.59,1518.62 L422.72,1516.48 L422.87,1514.34 L423.04,1512.20 L423.22,1510.07 L423.42,1507.93 L423.62,1505.79 L423.81,1503.65 L423.99,1501.51 L424.16,1499.37 L424.31,1497.23 L424.43,1495.10 L424.52,1492.96 L424.58,1490.82 L424.60,1488.68 L424.62,1486.54 L424.71,1484.40 L424.84,1482.27 L425.03,1480.13 L425.24,1477.99 L425.47,1475.85 L425.69,1473.71 L425.90,1471.58 L426.08,1469.44 L426.21,1467.30 L426.28,1465.16 L426.30,1463.02 L426.35,1460.88 L426.45,1458.74 L426.61,1456.61 L426.80,1454.47 L427.02,1452.33 L427.24,1450.19 L427.45,1448.05 L427.64,1445.91 L427.78,1443.78 L427.87,1441.64 L427.90,1439.50 Z" fill="#f0ccf0" stroke="none"/>
<path d="M444.10,1439.50 L444.13,1441.64 L444.22,1443.78 L444.36,1445.91 L444.55,1448.05 L444.76,1450.19 L444.98,1452.33 L445.20,1454.47 L445.39,1456.61 L445.55,1458.74 L445.65,1460.88 L445.70,1463.02 L445.72,1465.16 L445.79,1467.30 L445.92,1469.44 L446.10,1471.58 L446.31,1473.71 L446.53,1475.85 L446.76,1477.99 L446.97,1480.13 L447.16,1482.27 L447.29,1484.40 L447.38,1486.54 L447.40,1488.68 L447.42,1490.82 L447.48,1492.96 L447.57,1495.10 L447.69,1497.23 L447.84,1499.37 L448.01,1501.51 L448.19,1503.65 L448.38,1505.79 L448.58,1507.93 L448.78,1510.07 L448.96,1512.20 L449.13,1514.34 L449.28,1516.48 L449.41,1518.62 L449.51,1520.76 L449.57,1522.89 L449.60,1525.03 L449.61,1527.17 L449.67,1529.31 L449.76,1531.45 L449.90,1533.59 L450.06,1535.72 L450.23,1537.86 L450.41,1540.00 L450.57,1542.14 L450.71,1544.28 L450.81,1546.42 L450.88,1548.56 L450.90,1550.69 L450.87,1552.83 L450.81,1554.97 L450.73,1557.11 L450.66,1559.25 L450.61,1561.38 L450.56,1563.52 L449.94,1565.66 L449.50,1567.80" fill="none" stroke="#000" stroke-width="2.2" stroke-linejoin="round"/>
<path d="M422.50,1567.80 L422.06,1565.66 L421.44,1563.52 L421.39,1561.38 L421.34,1559.25 L421.27,1557.11 L421.19,1554.97 L421.13,1552.83 L421.10,1550.69 L421.12,1548.56 L421.19,1546.42 L421.29,1544.28 L421.43,1542.14 L421.59,1540.00 L421.77,1537.86 L421.94,1535.72 L422.10,1533.59 L422.24,1531.45 L422.33,1529.31 L422.39,1527.17 L422.40,1525.03 L422.43,1522.89 L422.49,1520.76 L422.59,1518.62 L422.72,1516.48 L422.87,1514.34 L423.04,1512.20 L423.22,1510.07 L423.42,1507.93 L423.62,1505.79 L423.81,1503.65 L423.99,1501.51 L424.16,1499.37 L424.31,1497.23 L424.43,1495.10 L424.52,1492.96 L424.58,1490.82 L424.60,1488.68 L424.62,1486.54 L424.71,1484.40 L424.84,1482.27 L425.03,1480.13 L425.24,1477.99 L425.47,1475.85 L425.69,1473.71 L425.90,1471.58 L426.08,1469.44 L426.21,1467.30 L426.28,1465.16 L426.30,1463.02 L426.35,1460.88 L426.45,1458.74 L426.61,1456.61 L426.80,1454.47 L427.02,1452.33 L427.24,1450.19 L427.45,1448.05 L427.64,1445.91 L427.78,1443.78 L427.87,1441.64 L427.90,1439.50" fill="none" stroke="#000" stroke-width="2.2" stroke-linejoin="round"/>
<circle cx="436.00" cy="1456.80" r="3.10" fill="#000" stroke="none" stroke-width="0"/>
<circle cx="436.00" cy="1461.80" r="3.10" fill="#000" stroke="none" stroke-width="0"/>
<circle cx="436.00" cy="1477.90" r="3.10" fill="#000" stroke="none" stroke-width="0"/>
<circle cx="436.00" cy="1498.40" r="3.10" fill="#000" stroke="none" stroke-width="0"/>
<circle cx="436.00" cy="1539.30" r="3.10" fill="#000" stroke="none" stroke-width="0"/>
<circle cx="430.40" cy="1554.20" r="3.10" fill="#000" stroke="none" stroke-width="0"/>
<circle cx="441.60" cy="1554.20" r="3.10" fill="#000" stroke="none" stroke-width="0"/>
<circle cx="436.00" cy="1562.30" r="3.10" fill="#000" stroke="none" stroke-width="0"/>
<circle cx="424.80" cy="1567.20" r="3.10" fill="#000" stroke="none" stroke-width="0"/>
<circle cx="447.10" cy="1567.20" r="3.10" fill="#000" stroke="none" stroke-width="0"/>
<line x1="425.00" y1="1477.90" x2="447.00" y2="1477.90" stroke="#000" stroke-width="1.2" stroke-dasharray="3,2"/>
<path d="M281.40,1263.40 L281.40,1256.70 L436.80,1256.70 L436.80,1263.40" fill="none" stroke="#000" stroke-width="1.4"/>
<text x="317.18" y="1253.50" font-size="17.5" font-style="italic">P</text>
<text x="328.85" y="1253.50" font-size="17.5" textLength="80.97" lengthAdjust="spacingAndGlyphs" xml:space="preserve"> = 0.0107</text>
<path d="M229.60,1402.30 L229.60,1280.80 L385.40,1280.80 L385.40,1288.20" fill="none" stroke="#000" stroke-width="1.4"/>
<text x="260.08" y="1279.50" font-size="17.5" font-style="italic">P</text>
<text x="271.75" y="1279.50" font-size="17.5" textLength="80.87" lengthAdjust="spacingAndGlyphs" xml:space="preserve"> = 0.4676</text>
<path d="M385.40,1489.70 L385.40,1295.70 L436.80,1295.70 L436.80,1306.80" fill="none" stroke="#000" stroke-width="1.4"/>
<text x="389.88" y="1292.00" font-size="17.5" font-style="italic">P</text>
<text x="401.55" y="1292.00" font-size="17.5" textLength="80.33" lengthAdjust="spacingAndGlyphs" xml:space="preserve"> = 0.0004</text>
<path d="M229.60,1513.00 L229.60,1430.90 L281.20,1430.90 L281.20,1434.60" fill="none" stroke="#000" stroke-width="1.4"/>
<text x="216.67" y="1425.90" font-size="17.5" font-style="italic">P</text>
<text x="228.35" y="1425.90" font-size="17.5" textLength="79.54" lengthAdjust="spacingAndGlyphs" xml:space="preserve"> = 0.0491</text>
<text transform="translate(513.51,1566.59) rotate(-90)" x="0" y="0" font-size="34.50" font-style="normal" fill="#000" textLength="308.84" lengthAdjust="spacingAndGlyphs">The number of visits</text>
<line x1="586.20" y1="1278.70" x2="586.20" y2="1566.50" stroke="#000" stroke-width="2.3" />
<line x1="575.20" y1="1278.70" x2="586.20" y2="1278.70" stroke="#000" stroke-width="2.3" />
<line x1="575.20" y1="1351.00" x2="586.20" y2="1351.00" stroke="#000" stroke-width="2.3" />
<line x1="575.20" y1="1422.60" x2="586.20" y2="1422.60" stroke="#000" stroke-width="2.3" />
<line x1="575.20" y1="1494.20" x2="586.20" y2="1494.20" stroke="#000" stroke-width="2.3" />
<line x1="575.20" y1="1566.50" x2="586.20" y2="1566.50" stroke="#000" stroke-width="2.3" />
<text x="530.26" y="1291.29" font-size="36.50" fill="#000">20</text>
<text x="530.45" y="1363.41" font-size="36.50" fill="#000">15</text>
<text x="530.26" y="1435.19" font-size="36.50" fill="#000">10</text>
<text x="550.70" y="1506.61" font-size="36.50" fill="#000">5</text>
<text x="550.52" y="1579.09" font-size="36.50" fill="#000">0</text>
<line x1="574.30" y1="1566.50" x2="874.40" y2="1566.50" stroke="#000" stroke-width="2.3" />
<line x1="622.00" y1="1566.50" x2="622.00" y2="1577.00" stroke="#000" stroke-width="2.3" />
<line x1="675.60" y1="1566.50" x2="675.60" y2="1577.00" stroke="#000" stroke-width="2.3" />
<line x1="729.40" y1="1566.50" x2="729.40" y2="1577.00" stroke="#000" stroke-width="2.3" />
<line x1="784.00" y1="1566.50" x2="784.00" y2="1577.00" stroke="#000" stroke-width="2.3" />
<line x1="837.90" y1="1566.50" x2="837.90" y2="1577.00" stroke="#000" stroke-width="2.3" />
<line x1="601.50" y1="1584.60" x2="697.00" y2="1584.60" stroke="#000" stroke-width="2" />
<line x1="761.80" y1="1584.60" x2="857.30" y2="1584.60" stroke="#000" stroke-width="2" />
<text x="585.09" y="1615.60" font-size="33.00" font-weight="normal" font-style="normal" fill="#000" textLength="121.13" lengthAdjust="spacingAndGlyphs">Female</text>
<text x="773.12" y="1614.60" font-size="33.00" font-weight="normal" font-style="normal" fill="#000" textLength="77.99" lengthAdjust="spacingAndGlyphs">Male</text>
<path d="M622.80,1506.20 L622.93,1507.21 L623.25,1508.21 L623.64,1509.22 L623.92,1510.22 L624.01,1511.23 L624.29,1512.23 L624.86,1513.24 L625.56,1514.24 L626.16,1515.25 L626.48,1516.25 L626.47,1517.26 L626.34,1518.26 L626.13,1519.27 L625.89,1520.27 L625.67,1521.28 L625.53,1522.28 L625.51,1523.29 L625.61,1524.29 L625.82,1525.30 L626.09,1526.30 L626.38,1527.31 L626.62,1528.31 L626.77,1529.32 L626.80,1530.32 L626.74,1531.33 L626.63,1532.33 L626.48,1533.34 L626.32,1534.34 L626.17,1535.35 L626.06,1536.35 L626.00,1537.36 L625.98,1538.36 L625.90,1539.37 L625.76,1540.37 L625.60,1541.38 L625.43,1542.38 L625.29,1543.38 L625.21,1544.39 L625.22,1545.39 L625.47,1546.40 L625.94,1547.40 L626.54,1548.41 L627.16,1549.41 L627.66,1550.42 L627.95,1551.42 L628.06,1552.43 L628.60,1553.43 L629.63,1554.44 L630.93,1555.44 L632.24,1556.45 L633.31,1557.45 L633.91,1558.46 L634.06,1559.46 L634.62,1560.47 L635.67,1561.47 L637.02,1562.48 L638.43,1563.48 L639.66,1564.49 L640.50,1565.49 L640.80,1566.50 L603.20,1566.50 L603.50,1565.49 L604.34,1564.49 L605.57,1563.48 L606.98,1562.48 L608.33,1561.47 L609.38,1560.47 L609.94,1559.46 L610.09,1558.46 L610.69,1557.45 L611.76,1556.45 L613.07,1555.44 L614.37,1554.44 L615.40,1553.43 L615.94,1552.43 L616.05,1551.42 L616.34,1550.42 L616.84,1549.41 L617.46,1548.41 L618.06,1547.40 L618.53,1546.40 L618.78,1545.39 L618.79,1544.39 L618.71,1543.38 L618.57,1542.38 L618.40,1541.38 L618.24,1540.37 L618.10,1539.37 L618.02,1538.36 L618.00,1537.36 L617.94,1536.35 L617.83,1535.35 L617.68,1534.34 L617.52,1533.34 L617.37,1532.33 L617.26,1531.33 L617.20,1530.32 L617.23,1529.32 L617.38,1528.31 L617.62,1527.31 L617.91,1526.30 L618.18,1525.30 L618.39,1524.29 L618.49,1523.29 L618.47,1522.28 L618.33,1521.28 L618.11,1520.27 L617.87,1519.27 L617.66,1518.26 L617.53,1517.26 L617.52,1516.25 L617.84,1515.25 L618.44,1514.24 L619.14,1513.24 L619.71,1512.23 L619.99,1511.23 L620.08,1510.22 L620.36,1509.22 L620.75,1508.21 L621.07,1507.21 L621.20,1506.20 Z" fill="#cdf5e6" stroke="none"/>
<path d="M622.80,1506.20 L622.93,1507.21 L623.25,1508.21 L623.64,1509.22 L623.92,1510.22 L624.01,1511.23 L624.29,1512.23 L624.86,1513.24 L625.56,1514.24 L626.16,1515.25 L626.48,1516.25 L626.47,1517.26 L626.34,1518.26 L626.13,1519.27 L625.89,1520.27 L625.67,1521.28 L625.53,1522.28 L625.51,1523.29 L625.61,1524.29 L625.82,1525.30 L626.09,1526.30 L626.38,1527.31 L626.62,1528.31 L626.77,1529.32 L626.80,1530.32 L626.74,1531.33 L626.63,1532.33 L626.48,1533.34 L626.32,1534.34 L626.17,1535.35 L626.06,1536.35 L626.00,1537.36 L625.98,1538.36 L625.90,1539.37 L625.76,1540.37 L625.60,1541.38 L625.43,1542.38 L625.29,1543.38 L625.21,1544.39 L625.22,1545.39 L625.47,1546.40 L625.94,1547.40 L626.54,1548.41 L627.16,1549.41 L627.66,1550.42 L627.95,1551.42 L628.06,1552.43 L628.60,1553.43 L629.63,1554.44 L630.93,1555.44 L632.24,1556.45 L633.31,1557.45 L633.91,1558.46 L634.06,1559.46 L634.62,1560.47 L635.67,1561.47 L637.02,1562.48 L638.43,1563.48 L639.66,1564.49 L640.50,1565.49 L640.80,1566.50" fill="none" stroke="#000" stroke-width="2.8" stroke-linejoin="round"/>
<path d="M603.20,1566.50 L603.50,1565.49 L604.34,1564.49 L605.57,1563.48 L606.98,1562.48 L608.33,1561.47 L609.38,1560.47 L609.94,1559.46 L610.09,1558.46 L610.69,1557.45 L611.76,1556.45 L613.07,1555.44 L614.37,1554.44 L615.40,1553.43 L615.94,1552.43 L616.05,1551.42 L616.34,1550.42 L616.84,1549.41 L617.46,1548.41 L618.06,1547.40 L618.53,1546.40 L618.78,1545.39 L618.79,1544.39 L618.71,1543.38 L618.57,1542.38 L618.40,1541.38 L618.24,1540.37 L618.10,1539.37 L618.02,1538.36 L618.00,1537.36 L617.94,1536.35 L617.83,1535.35 L617.68,1534.34 L617.52,1533.34 L617.37,1532.33 L617.26,1531.33 L617.20,1530.32 L617.23,1529.32 L617.38,1528.31 L617.62,1527.31 L617.91,1526.30 L618.18,1525.30 L618.39,1524.29 L618.49,1523.29 L618.47,1522.28 L618.33,1521.28 L618.11,1520.27 L617.87,1519.27 L617.66,1518.26 L617.53,1517.26 L617.52,1516.25 L617.84,1515.25 L618.44,1514.24 L619.14,1513.24 L619.71,1512.23 L619.99,1511.23 L620.08,1510.22 L620.36,1509.22 L620.75,1508.21 L621.07,1507.21 L621.20,1506.20" fill="none" stroke="#000" stroke-width="2.8" stroke-linejoin="round"/>
<line x1="622.00" y1="1506.00" x2="622.00" y2="1560.00" stroke="#000" stroke-width="2.2" />
<circle cx="622.00" cy="1516.60" r="3.40" fill="#000" stroke="none" stroke-width="0"/>
<circle cx="622.00" cy="1523.30" r="3.40" fill="#000" stroke="none" stroke-width="0"/>
<circle cx="622.00" cy="1537.70" r="3.40" fill="#000" stroke="none" stroke-width="0"/>
<circle cx="622.00" cy="1552.10" r="3.40" fill="#000" stroke="none" stroke-width="0"/>
<circle cx="606.00" cy="1566.50" r="3.40" fill="#000" stroke="none" stroke-width="0"/>
<circle cx="612.00" cy="1566.50" r="3.40" fill="#000" stroke="none" stroke-width="0"/>
<circle cx="618.00" cy="1566.50" r="3.40" fill="#000" stroke="none" stroke-width="0"/>
<circle cx="626.00" cy="1566.50" r="3.40" fill="#000" stroke="none" stroke-width="0"/>
<circle cx="632.00" cy="1566.50" r="3.40" fill="#000" stroke="none" stroke-width="0"/>
<circle cx="638.00" cy="1566.50" r="3.40" fill="#000" stroke="none" stroke-width="0"/>
<path d="M676.40,1431.10 L676.51,1433.36 L676.76,1435.61 L677.01,1437.87 L677.10,1440.13 L677.29,1442.38 L677.75,1444.64 L678.33,1446.90 L678.83,1449.15 L679.09,1451.41 L679.16,1453.67 L679.41,1455.92 L679.79,1458.18 L680.22,1460.44 L680.58,1462.69 L680.78,1464.95 L680.74,1467.21 L680.34,1469.46 L679.76,1471.72 L679.27,1473.98 L679.10,1476.23 L679.00,1478.49 L678.77,1480.75 L678.49,1483.00 L678.28,1485.26 L678.20,1487.52 L678.40,1489.77 L678.91,1492.03 L679.57,1494.29 L680.18,1496.54 L680.55,1498.80 L680.67,1501.06 L681.29,1503.31 L682.42,1505.57 L683.81,1507.83 L685.15,1510.08 L686.15,1512.34 L686.59,1514.60 L686.71,1516.85 L687.11,1519.11 L687.78,1521.37 L688.65,1523.62 L689.64,1525.88 L690.65,1528.14 L691.58,1530.39 L692.34,1532.65 L692.86,1534.91 L693.09,1537.16 L692.98,1539.42 L692.47,1541.68 L691.70,1543.93 L690.84,1546.19 L690.11,1548.45 L689.67,1550.70 L689.62,1552.96 L689.83,1555.22 L690.22,1557.47 L690.70,1559.73 L691.16,1561.99 L691.48,1564.24 L691.60,1566.50 L659.60,1566.50 L659.72,1564.24 L660.04,1561.99 L660.50,1559.73 L660.98,1557.47 L661.37,1555.22 L661.58,1552.96 L661.53,1550.70 L661.09,1548.45 L660.36,1546.19 L659.50,1543.93 L658.73,1541.68 L658.22,1539.42 L658.11,1537.16 L658.34,1534.91 L658.86,1532.65 L659.62,1530.39 L660.55,1528.14 L661.56,1525.88 L662.55,1523.62 L663.42,1521.37 L664.09,1519.11 L664.49,1516.85 L664.61,1514.60 L665.05,1512.34 L666.05,1510.08 L667.39,1507.83 L668.78,1505.57 L669.91,1503.31 L670.53,1501.06 L670.65,1498.80 L671.02,1496.54 L671.63,1494.29 L672.29,1492.03 L672.80,1489.77 L673.00,1487.52 L672.92,1485.26 L672.71,1483.00 L672.43,1480.75 L672.20,1478.49 L672.10,1476.23 L671.93,1473.98 L671.44,1471.72 L670.86,1469.46 L670.46,1467.21 L670.42,1464.95 L670.62,1462.69 L670.98,1460.44 L671.41,1458.18 L671.79,1455.92 L672.04,1453.67 L672.11,1451.41 L672.37,1449.15 L672.87,1446.90 L673.45,1444.64 L673.91,1442.38 L674.10,1440.13 L674.19,1437.87 L674.44,1435.61 L674.69,1433.36 L674.80,1431.10 Z" fill="#f0ccf0" stroke="none"/>
<path d="M676.40,1431.10 L676.51,1433.36 L676.76,1435.61 L677.01,1437.87 L677.10,1440.13 L677.29,1442.38 L677.75,1444.64 L678.33,1446.90 L678.83,1449.15 L679.09,1451.41 L679.16,1453.67 L679.41,1455.92 L679.79,1458.18 L680.22,1460.44 L680.58,1462.69 L680.78,1464.95 L680.74,1467.21 L680.34,1469.46 L679.76,1471.72 L679.27,1473.98 L679.10,1476.23 L679.00,1478.49 L678.77,1480.75 L678.49,1483.00 L678.28,1485.26 L678.20,1487.52 L678.40,1489.77 L678.91,1492.03 L679.57,1494.29 L680.18,1496.54 L680.55,1498.80 L680.67,1501.06 L681.29,1503.31 L682.42,1505.57 L683.81,1507.83 L685.15,1510.08 L686.15,1512.34 L686.59,1514.60 L686.71,1516.85 L687.11,1519.11 L687.78,1521.37 L688.65,1523.62 L689.64,1525.88 L690.65,1528.14 L691.58,1530.39 L692.34,1532.65 L692.86,1534.91 L693.09,1537.16 L692.98,1539.42 L692.47,1541.68 L691.70,1543.93 L690.84,1546.19 L690.11,1548.45 L689.67,1550.70 L689.62,1552.96 L689.83,1555.22 L690.22,1557.47 L690.70,1559.73 L691.16,1561.99 L691.48,1564.24 L691.60,1566.50" fill="none" stroke="#000" stroke-width="2.8" stroke-linejoin="round"/>
<path d="M659.60,1566.50 L659.72,1564.24 L660.04,1561.99 L660.50,1559.73 L660.98,1557.47 L661.37,1555.22 L661.58,1552.96 L661.53,1550.70 L661.09,1548.45 L660.36,1546.19 L659.50,1543.93 L658.73,1541.68 L658.22,1539.42 L658.11,1537.16 L658.34,1534.91 L658.86,1532.65 L659.62,1530.39 L660.55,1528.14 L661.56,1525.88 L662.55,1523.62 L663.42,1521.37 L664.09,1519.11 L664.49,1516.85 L664.61,1514.60 L665.05,1512.34 L666.05,1510.08 L667.39,1507.83 L668.78,1505.57 L669.91,1503.31 L670.53,1501.06 L670.65,1498.80 L671.02,1496.54 L671.63,1494.29 L672.29,1492.03 L672.80,1489.77 L673.00,1487.52 L672.92,1485.26 L672.71,1483.00 L672.43,1480.75 L672.20,1478.49 L672.10,1476.23 L671.93,1473.98 L671.44,1471.72 L670.86,1469.46 L670.46,1467.21 L670.42,1464.95 L670.62,1462.69 L670.98,1460.44 L671.41,1458.18 L671.79,1455.92 L672.04,1453.67 L672.11,1451.41 L672.37,1449.15 L672.87,1446.90 L673.45,1444.64 L673.91,1442.38 L674.10,1440.13 L674.19,1437.87 L674.44,1435.61 L674.69,1433.36 L674.80,1431.10" fill="none" stroke="#000" stroke-width="2.8" stroke-linejoin="round"/>
<line x1="675.60" y1="1431.00" x2="675.60" y2="1500.00" stroke="#000" stroke-width="2.2" />
<circle cx="675.90" cy="1466.50" r="3.40" fill="#000" stroke="none" stroke-width="0"/>
<circle cx="675.90" cy="1480.60" r="3.40" fill="#000" stroke="none" stroke-width="0"/>
<circle cx="675.90" cy="1508.70" r="3.40" fill="#000" stroke="none" stroke-width="0"/>
<circle cx="670.90" cy="1523.30" r="3.40" fill="#000" stroke="none" stroke-width="0"/>
<circle cx="681.10" cy="1523.30" r="3.40" fill="#000" stroke="none" stroke-width="0"/>
<circle cx="661.00" cy="1537.70" r="3.40" fill="#000" stroke="none" stroke-width="0"/>
<circle cx="670.90" cy="1537.70" r="3.40" fill="#000" stroke="none" stroke-width="0"/>
<circle cx="681.10" cy="1537.70" r="3.40" fill="#000" stroke="none" stroke-width="0"/>
<circle cx="691.00" cy="1537.70" r="3.40" fill="#000" stroke="none" stroke-width="0"/>
<circle cx="670.90" cy="1552.10" r="3.40" fill="#000" stroke="none" stroke-width="0"/>
<circle cx="681.10" cy="1552.10" r="3.40" fill="#000" stroke="none" stroke-width="0"/>
<circle cx="661.00" cy="1566.70" r="3.40" fill="#000" stroke="none" stroke-width="0"/>
<circle cx="670.90" cy="1566.70" r="3.40" fill="#000" stroke="none" stroke-width="0"/>
<circle cx="681.10" cy="1566.70" r="3.40" fill="#000" stroke="none" stroke-width="0"/>
<circle cx="691.00" cy="1566.70" r="3.40" fill="#000" stroke="none" stroke-width="0"/>
<line x1="659.60" y1="1537.70" x2="691.60" y2="1537.70" stroke="#000" stroke-width="1.0" stroke-dasharray="2,2"/>
<circle cx="729.40" cy="1566.50" r="3.40" fill="#000" stroke="none" stroke-width="0"/>
<path d="M784.80,1432.80 L784.82,1435.03 L784.88,1437.26 L784.96,1439.48 L785.06,1441.71 L785.16,1443.94 L785.24,1446.17 L785.29,1448.40 L785.33,1450.63 L785.92,1452.86 L786.85,1455.08 L787.46,1457.31 L787.59,1459.54 L787.95,1461.77 L788.35,1464.00 L788.50,1466.22 L788.01,1468.45 L787.05,1470.68 L786.30,1472.91 L786.23,1475.14 L786.48,1477.37 L786.87,1479.60 L787.25,1481.82 L787.48,1484.05 L787.55,1486.28 L787.88,1488.51 L788.44,1490.74 L789.14,1492.96 L789.84,1495.19 L790.41,1497.42 L790.74,1499.65 L790.81,1501.88 L790.95,1504.11 L791.23,1506.34 L791.61,1508.56 L792.06,1510.79 L792.51,1513.02 L792.93,1515.25 L793.25,1517.48 L793.45,1519.70 L793.51,1521.93 L793.71,1524.16 L794.16,1526.39 L794.79,1528.62 L795.51,1530.85 L796.17,1533.08 L796.69,1535.30 L796.97,1537.53 L797.06,1539.76 L797.49,1541.99 L798.24,1544.22 L799.11,1546.44 L799.87,1548.67 L800.32,1550.90 L800.42,1553.13 L800.68,1555.36 L801.15,1557.59 L801.72,1559.82 L802.27,1562.04 L802.66,1564.27 L802.80,1566.50 L765.20,1566.50 L765.34,1564.27 L765.73,1562.04 L766.28,1559.82 L766.85,1557.59 L767.32,1555.36 L767.58,1553.13 L767.68,1550.90 L768.13,1548.67 L768.89,1546.44 L769.76,1544.22 L770.51,1541.99 L770.94,1539.76 L771.03,1537.53 L771.31,1535.30 L771.83,1533.08 L772.49,1530.85 L773.21,1528.62 L773.84,1526.39 L774.29,1524.16 L774.49,1521.93 L774.55,1519.70 L774.75,1517.48 L775.07,1515.25 L775.49,1513.02 L775.94,1510.79 L776.39,1508.56 L776.77,1506.34 L777.05,1504.11 L777.19,1501.88 L777.26,1499.65 L777.59,1497.42 L778.16,1495.19 L778.86,1492.96 L779.56,1490.74 L780.12,1488.51 L780.45,1486.28 L780.52,1484.05 L780.75,1481.82 L781.13,1479.60 L781.52,1477.37 L781.77,1475.14 L781.70,1472.91 L780.95,1470.68 L779.99,1468.45 L779.50,1466.22 L779.65,1464.00 L780.05,1461.77 L780.41,1459.54 L780.54,1457.31 L781.15,1455.08 L782.08,1452.86 L782.67,1450.63 L782.71,1448.40 L782.76,1446.17 L782.84,1443.94 L782.94,1441.71 L783.04,1439.48 L783.12,1437.26 L783.18,1435.03 L783.20,1432.80 Z" fill="#cdf5e6" stroke="none"/>
<path d="M784.80,1432.80 L784.82,1435.03 L784.88,1437.26 L784.96,1439.48 L785.06,1441.71 L785.16,1443.94 L785.24,1446.17 L785.29,1448.40 L785.33,1450.63 L785.92,1452.86 L786.85,1455.08 L787.46,1457.31 L787.59,1459.54 L787.95,1461.77 L788.35,1464.00 L788.50,1466.22 L788.01,1468.45 L787.05,1470.68 L786.30,1472.91 L786.23,1475.14 L786.48,1477.37 L786.87,1479.60 L787.25,1481.82 L787.48,1484.05 L787.55,1486.28 L787.88,1488.51 L788.44,1490.74 L789.14,1492.96 L789.84,1495.19 L790.41,1497.42 L790.74,1499.65 L790.81,1501.88 L790.95,1504.11 L791.23,1506.34 L791.61,1508.56 L792.06,1510.79 L792.51,1513.02 L792.93,1515.25 L793.25,1517.48 L793.45,1519.70 L793.51,1521.93 L793.71,1524.16 L794.16,1526.39 L794.79,1528.62 L795.51,1530.85 L796.17,1533.08 L796.69,1535.30 L796.97,1537.53 L797.06,1539.76 L797.49,1541.99 L798.24,1544.22 L799.11,1546.44 L799.87,1548.67 L800.32,1550.90 L800.42,1553.13 L800.68,1555.36 L801.15,1557.59 L801.72,1559.82 L802.27,1562.04 L802.66,1564.27 L802.80,1566.50" fill="none" stroke="#000" stroke-width="2.8" stroke-linejoin="round"/>
<path d="M765.20,1566.50 L765.34,1564.27 L765.73,1562.04 L766.28,1559.82 L766.85,1557.59 L767.32,1555.36 L767.58,1553.13 L767.68,1550.90 L768.13,1548.67 L768.89,1546.44 L769.76,1544.22 L770.51,1541.99 L770.94,1539.76 L771.03,1537.53 L771.31,1535.30 L771.83,1533.08 L772.49,1530.85 L773.21,1528.62 L773.84,1526.39 L774.29,1524.16 L774.49,1521.93 L774.55,1519.70 L774.75,1517.48 L775.07,1515.25 L775.49,1513.02 L775.94,1510.79 L776.39,1508.56 L776.77,1506.34 L777.05,1504.11 L777.19,1501.88 L777.26,1499.65 L777.59,1497.42 L778.16,1495.19 L778.86,1492.96 L779.56,1490.74 L780.12,1488.51 L780.45,1486.28 L780.52,1484.05 L780.75,1481.82 L781.13,1479.60 L781.52,1477.37 L781.77,1475.14 L781.70,1472.91 L780.95,1470.68 L779.99,1468.45 L779.50,1466.22 L779.65,1464.00 L780.05,1461.77 L780.41,1459.54 L780.54,1457.31 L781.15,1455.08 L782.08,1452.86 L782.67,1450.63 L782.71,1448.40 L782.76,1446.17 L782.84,1443.94 L782.94,1441.71 L783.04,1439.48 L783.12,1437.26 L783.18,1435.03 L783.20,1432.80" fill="none" stroke="#000" stroke-width="2.8" stroke-linejoin="round"/>
<line x1="784.00" y1="1432.80" x2="784.00" y2="1500.00" stroke="#000" stroke-width="2.2" />
<circle cx="784.00" cy="1467.00" r="3.40" fill="#000" stroke="none" stroke-width="0"/>
<circle cx="784.00" cy="1509.00" r="3.40" fill="#000" stroke="none" stroke-width="0"/>
<circle cx="779.00" cy="1523.30" r="3.40" fill="#000" stroke="none" stroke-width="0"/>
<circle cx="789.50" cy="1523.30" r="3.40" fill="#000" stroke="none" stroke-width="0"/>
<circle cx="774.00" cy="1537.70" r="3.40" fill="#000" stroke="none" stroke-width="0"/>
<circle cx="784.00" cy="1537.70" r="3.40" fill="#000" stroke="none" stroke-width="0"/>
<circle cx="794.50" cy="1537.70" r="3.40" fill="#000" stroke="none" stroke-width="0"/>
<circle cx="774.00" cy="1552.10" r="3.40" fill="#000" stroke="none" stroke-width="0"/>
<circle cx="784.00" cy="1552.10" r="3.40" fill="#000" stroke="none" stroke-width="0"/>
<circle cx="794.50" cy="1552.10" r="3.40" fill="#000" stroke="none" stroke-width="0"/>
<circle cx="768.40" cy="1566.70" r="3.40" fill="#000" stroke="none" stroke-width="0"/>
<circle cx="776.00" cy="1566.70" r="3.40" fill="#000" stroke="none" stroke-width="0"/>
<circle cx="784.00" cy="1566.70" r="3.40" fill="#000" stroke="none" stroke-width="0"/>
<circle cx="792.00" cy="1566.70" r="3.40" fill="#000" stroke="none" stroke-width="0"/>
<circle cx="799.50" cy="1566.70" r="3.40" fill="#000" stroke="none" stroke-width="0"/>
<line x1="775.41" y1="1523.30" x2="792.59" y2="1523.30" stroke="#000" stroke-width="1.0" stroke-dasharray="2,2"/>
<line x1="772.02" y1="1537.70" x2="795.98" y2="1537.70" stroke="#000" stroke-width="1.0" stroke-dasharray="2,2"/>
<line x1="768.60" y1="1552.10" x2="799.40" y2="1552.10" stroke="#000" stroke-width="1.0" stroke-dasharray="2,2"/>
<path d="M838.70,1318.60 L838.85,1322.73 L839.25,1326.86 L839.76,1330.99 L840.19,1335.13 L840.39,1339.26 L840.44,1343.39 L840.59,1347.52 L840.84,1351.65 L841.16,1355.78 L841.52,1359.92 L841.86,1364.05 L842.16,1368.18 L842.38,1372.31 L842.49,1376.44 L842.53,1380.57 L842.72,1384.71 L843.08,1388.84 L843.57,1392.97 L844.15,1397.10 L844.75,1401.23 L845.33,1405.37 L845.82,1409.50 L846.18,1413.63 L846.37,1417.76 L846.42,1421.89 L846.62,1426.02 L847.01,1430.15 L847.56,1434.29 L848.23,1438.42 L848.98,1442.55 L849.73,1446.68 L850.44,1450.81 L851.05,1454.94 L851.52,1459.08 L851.81,1463.21 L851.90,1467.34 L852.01,1471.47 L852.27,1475.60 L852.67,1479.73 L853.13,1483.87 L853.60,1488.00 L854.00,1492.13 L854.28,1496.26 L854.40,1500.39 L854.44,1504.53 L854.56,1508.66 L854.76,1512.79 L854.98,1516.92 L855.18,1521.05 L855.33,1525.18 L855.40,1529.32 L855.34,1533.45 L855.14,1537.58 L854.86,1541.71 L854.59,1545.84 L854.42,1549.97 L853.99,1554.11 L851.35,1558.24 L849.83,1562.37 L845.90,1566.50 L829.90,1566.50 L825.97,1562.37 L824.45,1558.24 L821.81,1554.11 L821.38,1549.97 L821.21,1545.84 L820.94,1541.71 L820.66,1537.58 L820.46,1533.45 L820.40,1529.32 L820.47,1525.18 L820.62,1521.05 L820.82,1516.92 L821.04,1512.79 L821.24,1508.66 L821.36,1504.53 L821.40,1500.39 L821.52,1496.26 L821.80,1492.13 L822.20,1488.00 L822.67,1483.87 L823.13,1479.73 L823.53,1475.60 L823.79,1471.47 L823.90,1467.34 L823.99,1463.21 L824.28,1459.08 L824.75,1454.94 L825.36,1450.81 L826.07,1446.68 L826.82,1442.55 L827.57,1438.42 L828.24,1434.29 L828.79,1430.15 L829.18,1426.02 L829.38,1421.89 L829.43,1417.76 L829.62,1413.63 L829.98,1409.50 L830.47,1405.37 L831.05,1401.23 L831.65,1397.10 L832.23,1392.97 L832.72,1388.84 L833.08,1384.71 L833.27,1380.57 L833.31,1376.44 L833.42,1372.31 L833.64,1368.18 L833.94,1364.05 L834.28,1359.92 L834.64,1355.78 L834.96,1351.65 L835.21,1347.52 L835.36,1343.39 L835.41,1339.26 L835.61,1335.13 L836.04,1330.99 L836.55,1326.86 L836.95,1322.73 L837.10,1318.60 Z" fill="#f0ccf0" stroke="none"/>
<path d="M838.70,1318.60 L838.85,1322.73 L839.25,1326.86 L839.76,1330.99 L840.19,1335.13 L840.39,1339.26 L840.44,1343.39 L840.59,1347.52 L840.84,1351.65 L841.16,1355.78 L841.52,1359.92 L841.86,1364.05 L842.16,1368.18 L842.38,1372.31 L842.49,1376.44 L842.53,1380.57 L842.72,1384.71 L843.08,1388.84 L843.57,1392.97 L844.15,1397.10 L844.75,1401.23 L845.33,1405.37 L845.82,1409.50 L846.18,1413.63 L846.37,1417.76 L846.42,1421.89 L846.62,1426.02 L847.01,1430.15 L847.56,1434.29 L848.23,1438.42 L848.98,1442.55 L849.73,1446.68 L850.44,1450.81 L851.05,1454.94 L851.52,1459.08 L851.81,1463.21 L851.90,1467.34 L852.01,1471.47 L852.27,1475.60 L852.67,1479.73 L853.13,1483.87 L853.60,1488.00 L854.00,1492.13 L854.28,1496.26 L854.40,1500.39 L854.44,1504.53 L854.56,1508.66 L854.76,1512.79 L854.98,1516.92 L855.18,1521.05 L855.33,1525.18 L855.40,1529.32 L855.34,1533.45 L855.14,1537.58 L854.86,1541.71 L854.59,1545.84 L854.42,1549.97 L853.99,1554.11 L851.35,1558.24 L849.83,1562.37 L845.90,1566.50" fill="none" stroke="#000" stroke-width="2.8" stroke-linejoin="round"/>
<path d="M829.90,1566.50 L825.97,1562.37 L824.45,1558.24 L821.81,1554.11 L821.38,1549.97 L821.21,1545.84 L820.94,1541.71 L820.66,1537.58 L820.46,1533.45 L820.40,1529.32 L820.47,1525.18 L820.62,1521.05 L820.82,1516.92 L821.04,1512.79 L821.24,1508.66 L821.36,1504.53 L821.40,1500.39 L821.52,1496.26 L821.80,1492.13 L822.20,1488.00 L822.67,1483.87 L823.13,1479.73 L823.53,1475.60 L823.79,1471.47 L823.90,1467.34 L823.99,1463.21 L824.28,1459.08 L824.75,1454.94 L825.36,1450.81 L826.07,1446.68 L826.82,1442.55 L827.57,1438.42 L828.24,1434.29 L828.79,1430.15 L829.18,1426.02 L829.38,1421.89 L829.43,1417.76 L829.62,1413.63 L829.98,1409.50 L830.47,1405.37 L831.05,1401.23 L831.65,1397.10 L832.23,1392.97 L832.72,1388.84 L833.08,1384.71 L833.27,1380.57 L833.31,1376.44 L833.42,1372.31 L833.64,1368.18 L833.94,1364.05 L834.28,1359.92 L834.64,1355.78 L834.96,1351.65 L835.21,1347.52 L835.36,1343.39 L835.41,1339.26 L835.61,1335.13 L836.04,1330.99 L836.55,1326.86 L836.95,1322.73 L837.10,1318.60" fill="none" stroke="#000" stroke-width="2.8" stroke-linejoin="round"/>
<circle cx="838.40" cy="1408.70" r="3.40" fill="#000" stroke="none" stroke-width="0"/>
<circle cx="838.40" cy="1437.20" r="3.40" fill="#000" stroke="none" stroke-width="0"/>
<circle cx="838.40" cy="1451.60" r="3.40" fill="#000" stroke="none" stroke-width="0"/>
<circle cx="832.50" cy="1480.60" r="3.40" fill="#000" stroke="none" stroke-width="0"/>
<circle cx="843.60" cy="1480.60" r="3.40" fill="#000" stroke="none" stroke-width="0"/>
<circle cx="832.50" cy="1494.80" r="3.40" fill="#000" stroke="none" stroke-width="0"/>
<circle cx="843.60" cy="1494.80" r="3.40" fill="#000" stroke="none" stroke-width="0"/>
<circle cx="832.50" cy="1523.30" r="3.40" fill="#000" stroke="none" stroke-width="0"/>
<circle cx="843.60" cy="1523.30" r="3.40" fill="#000" stroke="none" stroke-width="0"/>
<circle cx="832.50" cy="1537.70" r="3.40" fill="#000" stroke="none" stroke-width="0"/>
<circle cx="843.60" cy="1537.70" r="3.40" fill="#000" stroke="none" stroke-width="0"/>
<circle cx="832.50" cy="1552.10" r="3.40" fill="#000" stroke="none" stroke-width="0"/>
<circle cx="843.60" cy="1552.10" r="3.40" fill="#000" stroke="none" stroke-width="0"/>
<circle cx="838.40" cy="1566.70" r="3.40" fill="#000" stroke="none" stroke-width="0"/>
<line x1="822.60" y1="1494.80" x2="853.20" y2="1494.80" stroke="#000" stroke-width="1.0" stroke-dasharray="2,2"/>
<line x1="821.67" y1="1537.70" x2="854.13" y2="1537.70" stroke="#000" stroke-width="1.0" stroke-dasharray="2,2"/>
<path d="M675.60,1267.40 L675.60,1259.60 L838.60,1259.60 L838.60,1267.40" fill="none" stroke="#000" stroke-width="1.4"/>
<text x="701.68" y="1254.80" font-size="17.5" font-style="italic">P</text>
<text x="713.35" y="1254.80" font-size="17.5" textLength="86.14" lengthAdjust="spacingAndGlyphs" xml:space="preserve"> = 0.0208</text>
<path d="M623.00,1492.50 L623.00,1286.20 L784.00,1286.20 L784.00,1298.10" fill="none" stroke="#000" stroke-width="1.4"/>
<text x="654.58" y="1282.80" font-size="17.5" font-style="italic">P</text>
<text x="666.25" y="1282.80" font-size="17.5" textLength="86.47" lengthAdjust="spacingAndGlyphs" xml:space="preserve"> = 0.3547</text>
<path d="M784.70,1432.80 L784.70,1308.40 L837.90,1308.40 L837.90,1315.20" fill="none" stroke="#000" stroke-width="1.4"/>
<text x="787.58" y="1303.20" font-size="17.5" font-style="italic">P</text>
<text x="799.25" y="1303.20" font-size="17.5" textLength="84.82" lengthAdjust="spacingAndGlyphs" xml:space="preserve"> = 0.0051</text>
<path d="M623.00,1492.50 L623.00,1424.30 L675.60,1424.30 L675.60,1431.10" fill="none" stroke="#000" stroke-width="1.4"/>
<text x="610.18" y="1420.90" font-size="17.5" font-style="italic">P</text>
<text x="621.85" y="1420.90" font-size="17.5" textLength="85.70" lengthAdjust="spacingAndGlyphs" xml:space="preserve"> = 0.0491</text>
<text transform="translate(925.66,1581.67) rotate(-90)" x="0" y="0" font-size="34.70" font-style="normal" fill="#000" textLength="350.77" lengthAdjust="spacingAndGlyphs">Cumulative time spent</text>
<text transform="translate(972.66,1530.12) rotate(-90)" x="0" y="0" font-size="34.70" font-style="normal" fill="#000" textLength="245.81" lengthAdjust="spacingAndGlyphs">on culture (min)</text>
<line x1="1041.50" y1="1269.50" x2="1041.50" y2="1559.80" stroke="#000" stroke-width="2.3" />
<line x1="1030.50" y1="1269.50" x2="1041.50" y2="1269.50" stroke="#000" stroke-width="2.3" />
<line x1="1030.50" y1="1366.30" x2="1041.50" y2="1366.30" stroke="#000" stroke-width="2.3" />
<line x1="1030.50" y1="1463.00" x2="1041.50" y2="1463.00" stroke="#000" stroke-width="2.3" />
<line x1="1030.50" y1="1559.80" x2="1041.50" y2="1559.80" stroke="#000" stroke-width="2.3" />
<text x="986.52" y="1282.27" font-size="37.00" fill="#000">60</text>
<text x="986.52" y="1379.07" font-size="37.00" fill="#000">40</text>
<text x="986.52" y="1475.77" font-size="37.00" fill="#000">20</text>
<text x="1007.06" y="1572.57" font-size="37.00" fill="#000">0</text>
<line x1="1030.60" y1="1559.80" x2="1333.60" y2="1559.80" stroke="#000" stroke-width="2.3" />
<line x1="1078.00" y1="1559.80" x2="1078.00" y2="1570.30" stroke="#000" stroke-width="2.3" />
<line x1="1132.80" y1="1559.80" x2="1132.80" y2="1570.30" stroke="#000" stroke-width="2.3" />
<line x1="1187.60" y1="1559.80" x2="1187.60" y2="1570.30" stroke="#000" stroke-width="2.3" />
<line x1="1241.20" y1="1559.80" x2="1241.20" y2="1570.30" stroke="#000" stroke-width="2.3" />
<line x1="1296.00" y1="1559.80" x2="1296.00" y2="1570.30" stroke="#000" stroke-width="2.3" />
<line x1="1058.00" y1="1579.90" x2="1153.60" y2="1579.90" stroke="#000" stroke-width="2" />
<line x1="1219.30" y1="1579.90" x2="1315.30" y2="1579.90" stroke="#000" stroke-width="2" />
<text x="1044.28" y="1611.10" font-size="33.00" font-weight="normal" font-style="normal" fill="#000" textLength="121.85" lengthAdjust="spacingAndGlyphs">Female</text>
<text x="1224.10" y="1610.00" font-size="33.00" font-weight="normal" font-style="normal" fill="#000" textLength="78.63" lengthAdjust="spacingAndGlyphs">Male</text>
<line x1="1078.00" y1="1525.00" x2="1078.00" y2="1559.80" stroke="#000" stroke-width="2.4" />
<circle cx="1076.00" cy="1528.00" r="3.00" fill="#000" stroke="none" stroke-width="0"/>
<circle cx="1080.00" cy="1530.00" r="3.00" fill="#000" stroke="none" stroke-width="0"/>
<circle cx="1078.00" cy="1546.00" r="3.00" fill="#000" stroke="none" stroke-width="0"/>
<circle cx="1063.00" cy="1559.00" r="3.00" fill="#000" stroke="none" stroke-width="0"/>
<circle cx="1069.00" cy="1559.00" r="3.00" fill="#000" stroke="none" stroke-width="0"/>
<circle cx="1074.00" cy="1559.00" r="3.00" fill="#000" stroke="none" stroke-width="0"/>
<circle cx="1082.00" cy="1559.00" r="3.00" fill="#000" stroke="none" stroke-width="0"/>
<circle cx="1087.00" cy="1559.00" r="3.00" fill="#000" stroke="none" stroke-width="0"/>
<circle cx="1092.00" cy="1559.00" r="3.00" fill="#000" stroke="none" stroke-width="0"/>
<path d="M1133.60,1422.90 L1133.74,1425.18 L1134.13,1427.46 L1134.62,1429.75 L1135.06,1432.03 L1135.29,1434.31 L1135.35,1436.59 L1135.55,1438.87 L1135.85,1441.15 L1136.13,1443.44 L1136.29,1445.72 L1136.30,1448.00 L1136.30,1450.28 L1136.30,1452.56 L1136.30,1454.84 L1136.30,1457.12 L1136.30,1459.41 L1136.30,1461.69 L1136.30,1463.97 L1136.30,1466.25 L1136.30,1468.53 L1136.31,1470.82 L1136.38,1473.10 L1136.53,1475.38 L1136.74,1477.66 L1136.98,1479.94 L1137.24,1482.22 L1137.50,1484.51 L1137.72,1486.79 L1137.88,1489.07 L1137.98,1491.35 L1138.00,1493.63 L1138.04,1495.91 L1138.12,1498.19 L1138.21,1500.48 L1138.28,1502.76 L1138.30,1505.04 L1138.45,1507.32 L1138.82,1509.60 L1139.34,1511.88 L1139.95,1514.17 L1140.54,1516.45 L1141.05,1518.73 L1141.38,1521.01 L1141.50,1523.29 L1141.67,1525.58 L1142.14,1527.86 L1142.83,1530.14 L1143.59,1532.42 L1144.30,1534.70 L1144.80,1536.98 L1145.00,1539.26 L1145.27,1541.55 L1146.09,1543.83 L1147.16,1546.11 L1148.07,1548.39 L1148.49,1550.67 L1148.57,1552.95 L1148.78,1555.24 L1149.01,1557.52 L1149.10,1559.80 L1116.50,1559.80 L1116.59,1557.52 L1116.82,1555.24 L1117.03,1552.95 L1117.11,1550.67 L1117.53,1548.39 L1118.44,1546.11 L1119.51,1543.83 L1120.33,1541.55 L1120.60,1539.26 L1120.80,1536.98 L1121.30,1534.70 L1122.01,1532.42 L1122.77,1530.14 L1123.46,1527.86 L1123.93,1525.58 L1124.10,1523.29 L1124.22,1521.01 L1124.55,1518.73 L1125.06,1516.45 L1125.65,1514.17 L1126.26,1511.88 L1126.78,1509.60 L1127.15,1507.32 L1127.30,1505.04 L1127.32,1502.76 L1127.39,1500.48 L1127.48,1498.19 L1127.56,1495.91 L1127.60,1493.63 L1127.62,1491.35 L1127.72,1489.07 L1127.88,1486.79 L1128.10,1484.51 L1128.36,1482.22 L1128.62,1479.94 L1128.86,1477.66 L1129.07,1475.38 L1129.22,1473.10 L1129.29,1470.82 L1129.30,1468.53 L1129.30,1466.25 L1129.30,1463.97 L1129.30,1461.69 L1129.30,1459.41 L1129.30,1457.12 L1129.30,1454.84 L1129.30,1452.56 L1129.30,1450.28 L1129.30,1448.00 L1129.31,1445.72 L1129.47,1443.44 L1129.75,1441.15 L1130.05,1438.87 L1130.25,1436.59 L1130.31,1434.31 L1130.54,1432.03 L1130.98,1429.75 L1131.47,1427.46 L1131.86,1425.18 L1132.00,1422.90 Z" fill="#f0ccf0" stroke="none"/>
<path d="M1133.60,1422.90 L1133.74,1425.18 L1134.13,1427.46 L1134.62,1429.75 L1135.06,1432.03 L1135.29,1434.31 L1135.35,1436.59 L1135.55,1438.87 L1135.85,1441.15 L1136.13,1443.44 L1136.29,1445.72 L1136.30,1448.00 L1136.30,1450.28 L1136.30,1452.56 L1136.30,1454.84 L1136.30,1457.12 L1136.30,1459.41 L1136.30,1461.69 L1136.30,1463.97 L1136.30,1466.25 L1136.30,1468.53 L1136.31,1470.82 L1136.38,1473.10 L1136.53,1475.38 L1136.74,1477.66 L1136.98,1479.94 L1137.24,1482.22 L1137.50,1484.51 L1137.72,1486.79 L1137.88,1489.07 L1137.98,1491.35 L1138.00,1493.63 L1138.04,1495.91 L1138.12,1498.19 L1138.21,1500.48 L1138.28,1502.76 L1138.30,1505.04 L1138.45,1507.32 L1138.82,1509.60 L1139.34,1511.88 L1139.95,1514.17 L1140.54,1516.45 L1141.05,1518.73 L1141.38,1521.01 L1141.50,1523.29 L1141.67,1525.58 L1142.14,1527.86 L1142.83,1530.14 L1143.59,1532.42 L1144.30,1534.70 L1144.80,1536.98 L1145.00,1539.26 L1145.27,1541.55 L1146.09,1543.83 L1147.16,1546.11 L1148.07,1548.39 L1148.49,1550.67 L1148.57,1552.95 L1148.78,1555.24 L1149.01,1557.52 L1149.10,1559.80" fill="none" stroke="#000" stroke-width="2.6" stroke-linejoin="round"/>
<path d="M1116.50,1559.80 L1116.59,1557.52 L1116.82,1555.24 L1117.03,1552.95 L1117.11,1550.67 L1117.53,1548.39 L1118.44,1546.11 L1119.51,1543.83 L1120.33,1541.55 L1120.60,1539.26 L1120.80,1536.98 L1121.30,1534.70 L1122.01,1532.42 L1122.77,1530.14 L1123.46,1527.86 L1123.93,1525.58 L1124.10,1523.29 L1124.22,1521.01 L1124.55,1518.73 L1125.06,1516.45 L1125.65,1514.17 L1126.26,1511.88 L1126.78,1509.60 L1127.15,1507.32 L1127.30,1505.04 L1127.32,1502.76 L1127.39,1500.48 L1127.48,1498.19 L1127.56,1495.91 L1127.60,1493.63 L1127.62,1491.35 L1127.72,1489.07 L1127.88,1486.79 L1128.10,1484.51 L1128.36,1482.22 L1128.62,1479.94 L1128.86,1477.66 L1129.07,1475.38 L1129.22,1473.10 L1129.29,1470.82 L1129.30,1468.53 L1129.30,1466.25 L1129.30,1463.97 L1129.30,1461.69 L1129.30,1459.41 L1129.30,1457.12 L1129.30,1454.84 L1129.30,1452.56 L1129.30,1450.28 L1129.30,1448.00 L1129.31,1445.72 L1129.47,1443.44 L1129.75,1441.15 L1130.05,1438.87 L1130.25,1436.59 L1130.31,1434.31 L1130.54,1432.03 L1130.98,1429.75 L1131.47,1427.46 L1131.86,1425.18 L1132.00,1422.90" fill="none" stroke="#000" stroke-width="2.6" stroke-linejoin="round"/>
<line x1="1132.80" y1="1423.00" x2="1132.80" y2="1500.00" stroke="#000" stroke-width="2.0" />
<circle cx="1132.80" cy="1453.00" r="3.10" fill="#000" stroke="none" stroke-width="0"/>
<circle cx="1132.80" cy="1462.00" r="3.10" fill="#000" stroke="none" stroke-width="0"/>
<circle cx="1132.80" cy="1475.00" r="3.10" fill="#000" stroke="none" stroke-width="0"/>
<circle cx="1129.50" cy="1505.80" r="3.10" fill="#000" stroke="none" stroke-width="0"/>
<circle cx="1136.50" cy="1505.80" r="3.10" fill="#000" stroke="none" stroke-width="0"/>
<circle cx="1129.50" cy="1519.80" r="3.10" fill="#000" stroke="none" stroke-width="0"/>
<circle cx="1129.50" cy="1527.90" r="3.10" fill="#000" stroke="none" stroke-width="0"/>
<circle cx="1136.50" cy="1525.60" r="3.10" fill="#000" stroke="none" stroke-width="0"/>
<circle cx="1129.50" cy="1545.30" r="3.10" fill="#000" stroke="none" stroke-width="0"/>
<circle cx="1136.50" cy="1544.20" r="3.10" fill="#000" stroke="none" stroke-width="0"/>
<circle cx="1118.00" cy="1559.30" r="3.10" fill="#000" stroke="none" stroke-width="0"/>
<circle cx="1121.00" cy="1559.30" r="3.10" fill="#000" stroke="none" stroke-width="0"/>
<circle cx="1131.00" cy="1559.30" r="3.10" fill="#000" stroke="none" stroke-width="0"/>
<circle cx="1136.00" cy="1559.30" r="3.10" fill="#000" stroke="none" stroke-width="0"/>
<circle cx="1144.00" cy="1559.30" r="3.10" fill="#000" stroke="none" stroke-width="0"/>
<circle cx="1147.00" cy="1559.30" r="3.10" fill="#000" stroke="none" stroke-width="0"/>
<circle cx="1187.60" cy="1559.80" r="3.00" fill="#000" stroke="none" stroke-width="0"/>
<line x1="1241.20" y1="1521.40" x2="1241.20" y2="1559.00" stroke="#000" stroke-width="2.2" />
<path d="M1242.00,1540.00 L1242.02,1540.33 L1242.09,1540.66 L1242.21,1540.99 L1242.37,1541.32 L1242.56,1541.65 L1242.79,1541.98 L1243.03,1542.31 L1243.30,1542.64 L1243.57,1542.97 L1243.85,1543.30 L1244.12,1543.63 L1244.37,1543.96 L1244.60,1544.29 L1244.80,1544.62 L1244.96,1544.95 L1245.09,1545.28 L1245.17,1545.61 L1245.20,1545.94 L1245.21,1546.27 L1245.27,1546.60 L1245.37,1546.93 L1245.51,1547.26 L1245.69,1547.59 L1245.90,1547.92 L1246.13,1548.25 L1246.37,1548.58 L1246.63,1548.91 L1246.89,1549.24 L1247.14,1549.57 L1247.38,1549.90 L1247.60,1550.23 L1247.79,1550.56 L1247.95,1550.89 L1248.08,1551.22 L1248.16,1551.55 L1248.20,1551.88 L1248.20,1552.21 L1248.21,1552.54 L1248.23,1552.87 L1248.26,1553.20 L1248.29,1553.53 L1248.33,1553.86 L1248.38,1554.19 L1248.44,1554.52 L1248.49,1554.85 L1248.56,1555.18 L1248.62,1555.51 L1248.69,1555.84 L1248.75,1556.17 L1248.82,1556.50 L1248.88,1556.83 L1248.94,1557.16 L1249.00,1557.49 L1249.05,1557.82 L1249.09,1558.15 L1249.13,1558.48 L1249.16,1558.81 L1249.18,1559.14 L1249.20,1559.47 L1249.20,1559.80 L1233.20,1559.80 L1233.20,1559.47 L1233.22,1559.14 L1233.24,1558.81 L1233.27,1558.48 L1233.31,1558.15 L1233.35,1557.82 L1233.40,1557.49 L1233.46,1557.16 L1233.52,1556.83 L1233.58,1556.50 L1233.65,1556.17 L1233.71,1555.84 L1233.78,1555.51 L1233.84,1555.18 L1233.91,1554.85 L1233.96,1554.52 L1234.02,1554.19 L1234.07,1553.86 L1234.11,1553.53 L1234.14,1553.20 L1234.17,1552.87 L1234.19,1552.54 L1234.20,1552.21 L1234.20,1551.88 L1234.24,1551.55 L1234.32,1551.22 L1234.45,1550.89 L1234.61,1550.56 L1234.80,1550.23 L1235.02,1549.90 L1235.26,1549.57 L1235.51,1549.24 L1235.77,1548.91 L1236.03,1548.58 L1236.27,1548.25 L1236.50,1547.92 L1236.71,1547.59 L1236.89,1547.26 L1237.03,1546.93 L1237.13,1546.60 L1237.19,1546.27 L1237.20,1545.94 L1237.23,1545.61 L1237.31,1545.28 L1237.44,1544.95 L1237.60,1544.62 L1237.80,1544.29 L1238.03,1543.96 L1238.28,1543.63 L1238.55,1543.30 L1238.83,1542.97 L1239.10,1542.64 L1239.37,1542.31 L1239.61,1541.98 L1239.84,1541.65 L1240.03,1541.32 L1240.19,1540.99 L1240.31,1540.66 L1240.38,1540.33 L1240.40,1540.00 Z" fill="#cdf5e6" stroke="none"/>
<path d="M1242.00,1540.00 L1242.02,1540.33 L1242.09,1540.66 L1242.21,1540.99 L1242.37,1541.32 L1242.56,1541.65 L1242.79,1541.98 L1243.03,1542.31 L1243.30,1542.64 L1243.57,1542.97 L1243.85,1543.30 L1244.12,1543.63 L1244.37,1543.96 L1244.60,1544.29 L1244.80,1544.62 L1244.96,1544.95 L1245.09,1545.28 L1245.17,1545.61 L1245.20,1545.94 L1245.21,1546.27 L1245.27,1546.60 L1245.37,1546.93 L1245.51,1547.26 L1245.69,1547.59 L1245.90,1547.92 L1246.13,1548.25 L1246.37,1548.58 L1246.63,1548.91 L1246.89,1549.24 L1247.14,1549.57 L1247.38,1549.90 L1247.60,1550.23 L1247.79,1550.56 L1247.95,1550.89 L1248.08,1551.22 L1248.16,1551.55 L1248.20,1551.88 L1248.20,1552.21 L1248.21,1552.54 L1248.23,1552.87 L1248.26,1553.20 L1248.29,1553.53 L1248.33,1553.86 L1248.38,1554.19 L1248.44,1554.52 L1248.49,1554.85 L1248.56,1555.18 L1248.62,1555.51 L1248.69,1555.84 L1248.75,1556.17 L1248.82,1556.50 L1248.88,1556.83 L1248.94,1557.16 L1249.00,1557.49 L1249.05,1557.82 L1249.09,1558.15 L1249.13,1558.48 L1249.16,1558.81 L1249.18,1559.14 L1249.20,1559.47 L1249.20,1559.80" fill="none" stroke="#000" stroke-width="2" stroke-linejoin="round"/>
<path d="M1233.20,1559.80 L1233.20,1559.47 L1233.22,1559.14 L1233.24,1558.81 L1233.27,1558.48 L1233.31,1558.15 L1233.35,1557.82 L1233.40,1557.49 L1233.46,1557.16 L1233.52,1556.83 L1233.58,1556.50 L1233.65,1556.17 L1233.71,1555.84 L1233.78,1555.51 L1233.84,1555.18 L1233.91,1554.85 L1233.96,1554.52 L1234.02,1554.19 L1234.07,1553.86 L1234.11,1553.53 L1234.14,1553.20 L1234.17,1552.87 L1234.19,1552.54 L1234.20,1552.21 L1234.20,1551.88 L1234.24,1551.55 L1234.32,1551.22 L1234.45,1550.89 L1234.61,1550.56 L1234.80,1550.23 L1235.02,1549.90 L1235.26,1549.57 L1235.51,1549.24 L1235.77,1548.91 L1236.03,1548.58 L1236.27,1548.25 L1236.50,1547.92 L1236.71,1547.59 L1236.89,1547.26 L1237.03,1546.93 L1237.13,1546.60 L1237.19,1546.27 L1237.20,1545.94 L1237.23,1545.61 L1237.31,1545.28 L1237.44,1544.95 L1237.60,1544.62 L1237.80,1544.29 L1238.03,1543.96 L1238.28,1543.63 L1238.55,1543.30 L1238.83,1542.97 L1239.10,1542.64 L1239.37,1542.31 L1239.61,1541.98 L1239.84,1541.65 L1240.03,1541.32 L1240.19,1540.99 L1240.31,1540.66 L1240.38,1540.33 L1240.40,1540.00" fill="none" stroke="#000" stroke-width="2" stroke-linejoin="round"/>
<circle cx="1241.20" cy="1528.00" r="2.90" fill="#000" stroke="none" stroke-width="0"/>
<circle cx="1241.20" cy="1547.00" r="2.90" fill="#000" stroke="none" stroke-width="0"/>
<circle cx="1232.00" cy="1552.00" r="2.90" fill="#000" stroke="none" stroke-width="0"/>
<circle cx="1249.00" cy="1552.00" r="2.90" fill="#000" stroke="none" stroke-width="0"/>
<circle cx="1257.00" cy="1550.00" r="2.90" fill="#000" stroke="none" stroke-width="0"/>
<circle cx="1222.00" cy="1559.00" r="2.90" fill="#000" stroke="none" stroke-width="0"/>
<circle cx="1229.00" cy="1559.00" r="2.90" fill="#000" stroke="none" stroke-width="0"/>
<circle cx="1236.00" cy="1559.00" r="2.90" fill="#000" stroke="none" stroke-width="0"/>
<circle cx="1246.00" cy="1559.00" r="2.90" fill="#000" stroke="none" stroke-width="0"/>
<circle cx="1253.00" cy="1559.00" r="2.90" fill="#000" stroke="none" stroke-width="0"/>
<circle cx="1260.00" cy="1559.00" r="2.90" fill="#000" stroke="none" stroke-width="0"/>
<path d="M1296.80,1333.40 L1297.01,1337.17 L1297.53,1340.95 L1298.11,1344.72 L1298.47,1348.49 L1298.64,1352.27 L1299.39,1356.04 L1300.33,1359.81 L1300.88,1363.59 L1300.96,1367.36 L1301.23,1371.13 L1301.66,1374.91 L1302.19,1378.68 L1302.73,1382.45 L1303.19,1386.23 L1303.49,1390.00 L1303.60,1393.77 L1303.60,1397.55 L1303.62,1401.32 L1303.64,1405.09 L1303.66,1408.87 L1303.70,1412.64 L1303.73,1416.41 L1303.77,1420.19 L1303.81,1423.96 L1303.85,1427.73 L1303.89,1431.51 L1303.92,1435.28 L1303.95,1439.05 L1303.98,1442.83 L1303.99,1446.60 L1304.00,1450.37 L1304.07,1454.15 L1304.49,1457.92 L1305.12,1461.69 L1305.70,1465.47 L1305.99,1469.24 L1306.47,1473.01 L1308.10,1476.79 L1310.07,1480.56 L1311.35,1484.33 L1311.59,1488.11 L1312.11,1491.88 L1312.70,1495.65 L1312.88,1499.43 L1312.17,1503.20 L1310.92,1506.97 L1310.06,1510.75 L1309.76,1514.52 L1308.66,1518.29 L1307.21,1522.07 L1306.18,1525.84 L1305.94,1529.61 L1305.41,1533.39 L1304.83,1537.16 L1304.78,1540.93 L1305.59,1544.71 L1306.41,1548.48 L1306.64,1552.25 L1307.24,1556.03 L1307.60,1559.80 L1284.40,1559.80 L1284.76,1556.03 L1285.36,1552.25 L1285.59,1548.48 L1286.41,1544.71 L1287.22,1540.93 L1287.17,1537.16 L1286.59,1533.39 L1286.06,1529.61 L1285.82,1525.84 L1284.79,1522.07 L1283.34,1518.29 L1282.24,1514.52 L1281.94,1510.75 L1281.08,1506.97 L1279.83,1503.20 L1279.12,1499.43 L1279.30,1495.65 L1279.89,1491.88 L1280.41,1488.11 L1280.65,1484.33 L1281.93,1480.56 L1283.90,1476.79 L1285.53,1473.01 L1286.01,1469.24 L1286.30,1465.47 L1286.88,1461.69 L1287.51,1457.92 L1287.93,1454.15 L1288.00,1450.37 L1288.01,1446.60 L1288.02,1442.83 L1288.05,1439.05 L1288.08,1435.28 L1288.11,1431.51 L1288.15,1427.73 L1288.19,1423.96 L1288.23,1420.19 L1288.27,1416.41 L1288.30,1412.64 L1288.34,1408.87 L1288.36,1405.09 L1288.38,1401.32 L1288.40,1397.55 L1288.40,1393.77 L1288.51,1390.00 L1288.81,1386.23 L1289.27,1382.45 L1289.81,1378.68 L1290.34,1374.91 L1290.77,1371.13 L1291.04,1367.36 L1291.12,1363.59 L1291.67,1359.81 L1292.61,1356.04 L1293.36,1352.27 L1293.53,1348.49 L1293.89,1344.72 L1294.47,1340.95 L1294.99,1337.17 L1295.20,1333.40 Z" fill="#f0ccf0" stroke="none"/>
<path d="M1296.80,1333.40 L1297.01,1337.17 L1297.53,1340.95 L1298.11,1344.72 L1298.47,1348.49 L1298.64,1352.27 L1299.39,1356.04 L1300.33,1359.81 L1300.88,1363.59 L1300.96,1367.36 L1301.23,1371.13 L1301.66,1374.91 L1302.19,1378.68 L1302.73,1382.45 L1303.19,1386.23 L1303.49,1390.00 L1303.60,1393.77 L1303.60,1397.55 L1303.62,1401.32 L1303.64,1405.09 L1303.66,1408.87 L1303.70,1412.64 L1303.73,1416.41 L1303.77,1420.19 L1303.81,1423.96 L1303.85,1427.73 L1303.89,1431.51 L1303.92,1435.28 L1303.95,1439.05 L1303.98,1442.83 L1303.99,1446.60 L1304.00,1450.37 L1304.07,1454.15 L1304.49,1457.92 L1305.12,1461.69 L1305.70,1465.47 L1305.99,1469.24 L1306.47,1473.01 L1308.10,1476.79 L1310.07,1480.56 L1311.35,1484.33 L1311.59,1488.11 L1312.11,1491.88 L1312.70,1495.65 L1312.88,1499.43 L1312.17,1503.20 L1310.92,1506.97 L1310.06,1510.75 L1309.76,1514.52 L1308.66,1518.29 L1307.21,1522.07 L1306.18,1525.84 L1305.94,1529.61 L1305.41,1533.39 L1304.83,1537.16 L1304.78,1540.93 L1305.59,1544.71 L1306.41,1548.48 L1306.64,1552.25 L1307.24,1556.03 L1307.60,1559.80" fill="none" stroke="#000" stroke-width="2.6" stroke-linejoin="round"/>
<path d="M1284.40,1559.80 L1284.76,1556.03 L1285.36,1552.25 L1285.59,1548.48 L1286.41,1544.71 L1287.22,1540.93 L1287.17,1537.16 L1286.59,1533.39 L1286.06,1529.61 L1285.82,1525.84 L1284.79,1522.07 L1283.34,1518.29 L1282.24,1514.52 L1281.94,1510.75 L1281.08,1506.97 L1279.83,1503.20 L1279.12,1499.43 L1279.30,1495.65 L1279.89,1491.88 L1280.41,1488.11 L1280.65,1484.33 L1281.93,1480.56 L1283.90,1476.79 L1285.53,1473.01 L1286.01,1469.24 L1286.30,1465.47 L1286.88,1461.69 L1287.51,1457.92 L1287.93,1454.15 L1288.00,1450.37 L1288.01,1446.60 L1288.02,1442.83 L1288.05,1439.05 L1288.08,1435.28 L1288.11,1431.51 L1288.15,1427.73 L1288.19,1423.96 L1288.23,1420.19 L1288.27,1416.41 L1288.30,1412.64 L1288.34,1408.87 L1288.36,1405.09 L1288.38,1401.32 L1288.40,1397.55 L1288.40,1393.77 L1288.51,1390.00 L1288.81,1386.23 L1289.27,1382.45 L1289.81,1378.68 L1290.34,1374.91 L1290.77,1371.13 L1291.04,1367.36 L1291.12,1363.59 L1291.67,1359.81 L1292.61,1356.04 L1293.36,1352.27 L1293.53,1348.49 L1293.89,1344.72 L1294.47,1340.95 L1294.99,1337.17 L1295.20,1333.40" fill="none" stroke="#000" stroke-width="2.6" stroke-linejoin="round"/>
<circle cx="1295.80" cy="1410.50" r="3.10" fill="#000" stroke="none" stroke-width="0"/>
<circle cx="1295.80" cy="1429.10" r="3.10" fill="#000" stroke="none" stroke-width="0"/>
<circle cx="1295.80" cy="1447.70" r="3.10" fill="#000" stroke="none" stroke-width="0"/>
<circle cx="1284.20" cy="1482.60" r="3.10" fill="#000" stroke="none" stroke-width="0"/>
<circle cx="1295.80" cy="1486.00" r="3.10" fill="#000" stroke="none" stroke-width="0"/>
<circle cx="1307.40" cy="1494.20" r="3.10" fill="#000" stroke="none" stroke-width="0"/>
<circle cx="1307.40" cy="1502.30" r="3.10" fill="#000" stroke="none" stroke-width="0"/>
<circle cx="1284.20" cy="1498.80" r="3.10" fill="#000" stroke="none" stroke-width="0"/>
<circle cx="1295.80" cy="1507.00" r="3.10" fill="#000" stroke="none" stroke-width="0"/>
<circle cx="1295.80" cy="1516.30" r="3.10" fill="#000" stroke="none" stroke-width="0"/>
<circle cx="1295.80" cy="1545.30" r="3.10" fill="#000" stroke="none" stroke-width="0"/>
<circle cx="1295.80" cy="1557.90" r="3.10" fill="#000" stroke="none" stroke-width="0"/>
<circle cx="1284.50" cy="1559.50" r="3.10" fill="#000" stroke="none" stroke-width="0"/>
<circle cx="1307.50" cy="1559.50" r="3.10" fill="#000" stroke="none" stroke-width="0"/>
<line x1="1280.00" y1="1498.80" x2="1312.00" y2="1498.80" stroke="#000" stroke-width="1.2" stroke-dasharray="3,2"/>
<line x1="1288.00" y1="1545.30" x2="1304.00" y2="1545.30" stroke="#000" stroke-width="1.2" stroke-dasharray="3,2"/>
<path d="M1132.80,1267.70 L1132.80,1259.30 L1297.00,1259.30 L1297.00,1267.70" fill="none" stroke="#000" stroke-width="1.4"/>
<text x="1168.77" y="1256.70" font-size="17.5" font-style="italic">P</text>
<text x="1180.45" y="1256.70" font-size="17.5" textLength="86.79" lengthAdjust="spacingAndGlyphs" xml:space="preserve"> = 0.0253</text>
<path d="M1079.10,1516.00 L1079.10,1286.00 L1242.30,1286.00 L1242.30,1293.30" fill="none" stroke="#000" stroke-width="1.4"/>
<text x="1112.17" y="1280.50" font-size="17.5" font-style="italic">P</text>
<text x="1123.85" y="1280.50" font-size="17.5" textLength="83.78" lengthAdjust="spacingAndGlyphs" xml:space="preserve"> = 0.5811</text>
<path d="M1242.30,1517.80 L1242.30,1312.60 L1296.00,1312.60 L1296.00,1326.10" fill="none" stroke="#000" stroke-width="1.4"/>
<text x="1228.27" y="1309.00" font-size="17.5" font-style="italic">P</text>
<text x="1239.95" y="1309.00" font-size="17.5" textLength="86.69" lengthAdjust="spacingAndGlyphs" xml:space="preserve"> = 0.0002</text>
<path d="M1079.10,1516.00 L1079.10,1415.60 L1132.80,1415.60 L1132.80,1421.00" fill="none" stroke="#000" stroke-width="1.4"/>
<text x="1070.17" y="1411.90" font-size="17.5" font-style="italic">P</text>
<text x="1081.85" y="1411.90" font-size="17.5" textLength="86.79" lengthAdjust="spacingAndGlyphs" xml:space="preserve"> = 0.0266</text>
<line x1="18.50" y1="1630.60" x2="1359.20" y2="1630.60" stroke="#000" stroke-width="3.2" />
<line x1="18.50" y1="1672.40" x2="1359.20" y2="1672.40" stroke="#000" stroke-width="3.2" />
<line x1="18.50" y1="1712.70" x2="1359.20" y2="1712.70" stroke="#000" stroke-width="3.2" />
<line x1="18.50" y1="1754.70" x2="1359.20" y2="1754.70" stroke="#000" stroke-width="3.2" />
<line x1="18.50" y1="1795.40" x2="1359.20" y2="1795.40" stroke="#000" stroke-width="3.2" />
<text x="58.96" y="1661.00" font-size="28.00" font-weight="normal" font-style="normal" fill="#000" textLength="73.19" lengthAdjust="spacingAndGlyphs">Mean</text>
<text x="50.49" y="1701.20" font-size="28.00" font-weight="normal" font-style="normal" fill="#000" textLength="94.79" lengthAdjust="spacingAndGlyphs">Median</text>
<text x="22.21" y="1743.00" font-size="28.00" font-weight="normal" font-style="normal" fill="#000" textLength="162.27" lengthAdjust="spacingAndGlyphs">%Inoculation</text>
<text x="84.86" y="1785.80" font-size="28.00" font-weight="normal" font-style="normal" fill="#000" textLength="22.96" lengthAdjust="spacingAndGlyphs">N</text>
<text x="210.75" y="1663.40" font-size="24.50" font-weight="normal" font-style="normal" fill="#111" textLength="32.28" lengthAdjust="spacingAndGlyphs">28</text>
<text x="266.85" y="1663.40" font-size="24.50" font-weight="normal" font-style="normal" fill="#111" textLength="33.48" lengthAdjust="spacingAndGlyphs">99</text>
<text x="372.15" y="1663.40" font-size="24.50" font-weight="normal" font-style="normal" fill="#111" textLength="30.48" lengthAdjust="spacingAndGlyphs">42</text>
<text x="420.29" y="1663.40" font-size="24.50" font-weight="normal" font-style="normal" fill="#111" textLength="42.76" lengthAdjust="spacingAndGlyphs">451</text>
<text x="604.65" y="1659.90" font-size="24.50" font-weight="normal" font-style="normal" fill="#111" textLength="39.95" lengthAdjust="spacingAndGlyphs">0.9</text>
<text x="654.35" y="1659.90" font-size="24.50" font-weight="normal" font-style="normal" fill="#111" textLength="40.43" lengthAdjust="spacingAndGlyphs">2.4</text>
<text x="766.11" y="1659.90" font-size="24.50" font-weight="normal" font-style="normal" fill="#111" textLength="36.96" lengthAdjust="spacingAndGlyphs">1.6</text>
<text x="827.55" y="1659.90" font-size="24.50" font-weight="normal" font-style="normal" fill="#111" textLength="15.92" lengthAdjust="spacingAndGlyphs">5</text>
<text x="1063.13" y="1662.20" font-size="24.50" font-weight="normal" font-style="normal" fill="#111" textLength="36.45" lengthAdjust="spacingAndGlyphs">1.1</text>
<text x="1119.78" y="1662.20" font-size="24.50" font-weight="normal" font-style="normal" fill="#111" textLength="38.78" lengthAdjust="spacingAndGlyphs">5.9</text>
<text x="1225.20" y="1662.20" font-size="24.50" font-weight="normal" font-style="normal" fill="#111" textLength="33.28" lengthAdjust="spacingAndGlyphs">1.1</text>
<text x="1272.52" y="1662.20" font-size="24.50" font-weight="normal" font-style="normal" fill="#111" textLength="54.07" lengthAdjust="spacingAndGlyphs">13.9</text>
<text x="220.73" y="1701.20" font-size="24.50" font-weight="normal" font-style="normal" fill="#111" textLength="14.95" lengthAdjust="spacingAndGlyphs">0</text>
<text x="269.00" y="1701.20" font-size="24.50" font-weight="normal" font-style="normal" fill="#111" textLength="28.93" lengthAdjust="spacingAndGlyphs">21</text>
<text x="381.31" y="1701.20" font-size="24.50" font-weight="normal" font-style="normal" fill="#111" textLength="13.82" lengthAdjust="spacingAndGlyphs">3</text>
<text x="419.06" y="1703.00" font-size="24.50" font-weight="normal" font-style="normal" fill="#111" textLength="43.33" lengthAdjust="spacingAndGlyphs">352</text>
<text x="613.67" y="1699.10" font-size="24.50" font-weight="normal" font-style="normal" fill="#111" textLength="15.64" lengthAdjust="spacingAndGlyphs">0</text>
<text x="662.55" y="1699.10" font-size="24.50" font-weight="normal" font-style="normal" fill="#111" textLength="16.14" lengthAdjust="spacingAndGlyphs">2</text>
<text x="775.34" y="1700.00" font-size="24.50" font-weight="normal" font-style="normal" fill="#111" textLength="12.27" lengthAdjust="spacingAndGlyphs">1</text>
<text x="827.55" y="1700.00" font-size="24.50" font-weight="normal" font-style="normal" fill="#111" textLength="15.92" lengthAdjust="spacingAndGlyphs">5</text>
<text x="1071.17" y="1701.50" font-size="24.50" font-weight="normal" font-style="normal" fill="#111" textLength="15.64" lengthAdjust="spacingAndGlyphs">0</text>
<text x="1119.77" y="1701.50" font-size="24.50" font-weight="normal" font-style="normal" fill="#111" textLength="39.37" lengthAdjust="spacingAndGlyphs">3.3</text>
<text x="1222.30" y="1701.50" font-size="24.50" font-weight="normal" font-style="normal" fill="#111" textLength="38.28" lengthAdjust="spacingAndGlyphs">0.2</text>
<text x="1272.51" y="1701.50" font-size="24.50" font-weight="normal" font-style="normal" fill="#111" textLength="54.22" lengthAdjust="spacingAndGlyphs">12.7</text>
<text x="212.76" y="1744.70" font-size="24.50" font-weight="normal" font-style="normal" fill="#111" textLength="30.19" lengthAdjust="spacingAndGlyphs">46</text>
<text x="267.96" y="1744.70" font-size="24.50" font-weight="normal" font-style="normal" fill="#111" textLength="29.88" lengthAdjust="spacingAndGlyphs">73</text>
<text x="372.46" y="1743.50" font-size="24.50" font-weight="normal" font-style="normal" fill="#111" textLength="29.73" lengthAdjust="spacingAndGlyphs">60</text>
<text x="426.79" y="1744.70" font-size="24.50" font-weight="normal" font-style="normal" fill="#111" textLength="29.84" lengthAdjust="spacingAndGlyphs">93</text>
<text x="605.24" y="1743.00" font-size="24.50" font-weight="normal" font-style="normal" fill="#111" textLength="31.36" lengthAdjust="spacingAndGlyphs">46</text>
<text x="659.66" y="1743.00" font-size="24.50" font-weight="normal" font-style="normal" fill="#111" textLength="31.95" lengthAdjust="spacingAndGlyphs">73</text>
<text x="766.01" y="1741.20" font-size="24.50" font-weight="normal" font-style="normal" fill="#111" textLength="30.93" lengthAdjust="spacingAndGlyphs">60</text>
<text x="819.65" y="1743.00" font-size="24.50" font-weight="normal" font-style="normal" fill="#111" textLength="30.93" lengthAdjust="spacingAndGlyphs">93</text>
<text x="1063.86" y="1745.10" font-size="24.50" font-weight="normal" font-style="normal" fill="#111" textLength="30.30" lengthAdjust="spacingAndGlyphs">46</text>
<text x="1124.50" y="1745.10" font-size="24.50" font-weight="normal" font-style="normal" fill="#111" textLength="31.19" lengthAdjust="spacingAndGlyphs">73</text>
<text x="1227.40" y="1743.30" font-size="24.50" font-weight="normal" font-style="normal" fill="#111" textLength="31.04" lengthAdjust="spacingAndGlyphs">60</text>
<text x="1285.44" y="1745.10" font-size="24.50" font-weight="normal" font-style="normal" fill="#111" textLength="31.04" lengthAdjust="spacingAndGlyphs">93</text>
<text x="209.13" y="1785.80" font-size="24.50" font-weight="normal" font-style="normal" fill="#111" textLength="29.18" lengthAdjust="spacingAndGlyphs">15</text>
<text x="266.10" y="1785.80" font-size="24.50" font-weight="normal" font-style="normal" fill="#111" textLength="31.08" lengthAdjust="spacingAndGlyphs">15</text>
<text x="370.69" y="1787.50" font-size="24.50" font-weight="normal" font-style="normal" fill="#111" textLength="29.85" lengthAdjust="spacingAndGlyphs">15</text>
<text x="425.96" y="1787.50" font-size="24.50" font-weight="normal" font-style="normal" fill="#111" textLength="30.18" lengthAdjust="spacingAndGlyphs">15</text>
<text x="602.76" y="1784.00" font-size="24.50" font-weight="normal" font-style="normal" fill="#111" textLength="30.30" lengthAdjust="spacingAndGlyphs">15</text>
<text x="659.76" y="1782.20" font-size="24.50" font-weight="normal" font-style="normal" fill="#111" textLength="30.30" lengthAdjust="spacingAndGlyphs">15</text>
<text x="764.28" y="1785.80" font-size="24.50" font-weight="normal" font-style="normal" fill="#111" textLength="29.96" lengthAdjust="spacingAndGlyphs">15</text>
<text x="818.83" y="1785.80" font-size="24.50" font-weight="normal" font-style="normal" fill="#111" textLength="30.63" lengthAdjust="spacingAndGlyphs">15</text>
<text x="1060.58" y="1786.20" font-size="24.50" font-weight="normal" font-style="normal" fill="#111" textLength="29.96" lengthAdjust="spacingAndGlyphs">15</text>
<text x="1123.10" y="1784.40" font-size="24.50" font-weight="normal" font-style="normal" fill="#111" textLength="31.08" lengthAdjust="spacingAndGlyphs">15</text>
<text x="1231.13" y="1787.30" font-size="24.50" font-weight="normal" font-style="normal" fill="#111" textLength="29.18" lengthAdjust="spacingAndGlyphs">15</text>
<text x="1285.78" y="1787.30" font-size="24.50" font-weight="normal" font-style="normal" fill="#111" textLength="29.96" lengthAdjust="spacingAndGlyphs">15</text>
<text x="-0.84" y="1873.00" font-size="68.50" font-weight="bold" font-style="normal" fill="#000">d</text>
<line x1="58.60" y1="1844.70" x2="86.80" y2="1844.70" stroke="#e8403f" stroke-width="1.8" />
<circle cx="72.70" cy="1844.70" r="5.60" fill="#e8403f" stroke="none" stroke-width="0"/>
<line x1="58.60" y1="1879.00" x2="86.80" y2="1879.00" stroke="#000" stroke-width="1.8" />
<rect x="67.30" y="1873.60" width="10.8" height="10.8" fill="#000"/>
<g transform="translate(100.29,1856.40) scale(1.0358,1)"><text x="0.00" y="0.00" font-size="31.50" fill="#000" xml:space="preserve">Female, </text><text x="122.54" y="0.00" font-size="31.50" font-style="italic" fill="#000" xml:space="preserve">P</text><text x="143.55" y="0.00" font-size="31.50" fill="#000" xml:space="preserve"> = 0.0210, r = 0.58</text></g>
<g transform="translate(100.30,1890.30) scale(1.0332,1)"><text x="0.00" y="0.00" font-size="31.50" fill="#000" xml:space="preserve">Male, </text><text x="85.78" y="0.00" font-size="31.50" font-style="italic" fill="#000" xml:space="preserve">P</text><text x="106.79" y="0.00" font-size="31.50" fill="#000" xml:space="preserve"> = 0.0312, r = 0.55</text></g>
<text transform="translate(80.89,2191.24) rotate(-90)" x="0" y="0" font-size="32.40" font-style="normal" fill="#000" textLength="286.10" lengthAdjust="spacingAndGlyphs">The number of visits</text>
<line x1="145.40" y1="1923.70" x2="145.40" y2="2185.40" stroke="#000" stroke-width="2.3" />
<line x1="136.40" y1="1923.70" x2="145.40" y2="1923.70" stroke="#000" stroke-width="2.3" />
<line x1="136.40" y1="2011.80" x2="145.40" y2="2011.80" stroke="#000" stroke-width="2.3" />
<line x1="136.40" y1="2098.60" x2="145.40" y2="2098.60" stroke="#000" stroke-width="2.3" />
<line x1="136.40" y1="2185.40" x2="145.40" y2="2185.40" stroke="#000" stroke-width="2.3" />
<text x="98.16" y="1934.58" font-size="32.00" fill="#000">15</text>
<text x="98.00" y="2022.84" font-size="32.00" fill="#000">10</text>
<text x="115.92" y="2109.48" font-size="32.00" fill="#000">5</text>
<text x="115.76" y="2196.44" font-size="32.00" fill="#000">0</text>
<line x1="134.50" y1="2185.40" x2="538.20" y2="2185.40" stroke="#000" stroke-width="2.3" />
<line x1="194.40" y1="2185.40" x2="194.40" y2="2192.40" stroke="#000" stroke-width="2.3" />
<line x1="293.00" y1="2185.40" x2="293.00" y2="2192.40" stroke="#000" stroke-width="2.3" />
<line x1="389.80" y1="2185.40" x2="389.80" y2="2192.40" stroke="#000" stroke-width="2.3" />
<line x1="488.30" y1="2185.40" x2="488.30" y2="2192.40" stroke="#000" stroke-width="2.3" />
<text x="185.44" y="2229.70" font-size="32.00" font-weight="normal" font-style="normal" fill="#000">0</text>
<text x="283.64" y="2229.70" font-size="32.00" font-weight="normal" font-style="normal" fill="#000">1</text>
<text x="380.92" y="2229.70" font-size="32.00" font-weight="normal" font-style="normal" fill="#000">2</text>
<text x="479.42" y="2229.70" font-size="32.00" font-weight="normal" font-style="normal" fill="#000">3</text>
<line x1="194.40" y1="2177.60" x2="500.00" y2="2050.90" stroke="#000" stroke-width="2.3" />
<line x1="194.40" y1="2172.40" x2="451.40" y2="2116.00" stroke="#e8403f" stroke-width="2.3" />
<circle cx="194.40" cy="2185.40" r="4.80" fill="#e8403f" stroke="none" stroke-width="0"/>
<circle cx="276.90" cy="2168.00" r="4.80" fill="#e8403f" stroke="none" stroke-width="0"/>
<circle cx="312.50" cy="2150.70" r="4.80" fill="#e8403f" stroke="none" stroke-width="0"/>
<circle cx="320.30" cy="2150.70" r="4.80" fill="#e8403f" stroke="none" stroke-width="0"/>
<circle cx="343.80" cy="2063.90" r="4.80" fill="#e8403f" stroke="none" stroke-width="0"/>
<circle cx="362.40" cy="2133.30" r="4.80" fill="#e8403f" stroke="none" stroke-width="0"/>
<circle cx="412.30" cy="2133.30" r="4.80" fill="#e8403f" stroke="none" stroke-width="0"/>
<circle cx="413.20" cy="2150.70" r="4.80" fill="#e8403f" stroke="none" stroke-width="0"/>
<circle cx="431.90" cy="2150.70" r="4.80" fill="#e8403f" stroke="none" stroke-width="0"/>
<circle cx="437.10" cy="2081.30" r="4.80" fill="#e8403f" stroke="none" stroke-width="0"/>
<circle cx="450.10" cy="2116.00" r="4.80" fill="#e8403f" stroke="none" stroke-width="0"/>
<rect x="189.20" y="2128.10" width="10.4" height="10.4" fill="#000"/>
<rect x="235.70" y="2162.80" width="10.4" height="10.4" fill="#000"/>
<rect x="318.20" y="2162.80" width="10.4" height="10.4" fill="#000"/>
<rect x="357.20" y="2041.30" width="10.4" height="10.4" fill="#000"/>
<rect x="357.20" y="2145.50" width="10.4" height="10.4" fill="#000"/>
<rect x="387.60" y="2093.40" width="10.4" height="10.4" fill="#000"/>
<rect x="425.80" y="2041.30" width="10.4" height="10.4" fill="#000"/>
<rect x="437.50" y="2145.50" width="10.4" height="10.4" fill="#000"/>
<rect x="446.20" y="2128.10" width="10.4" height="10.4" fill="#000"/>
<rect x="444.90" y="2162.80" width="10.4" height="10.4" fill="#000"/>
<rect x="465.70" y="2024.00" width="10.4" height="10.4" fill="#000"/>
<rect x="467.90" y="2006.60" width="10.4" height="10.4" fill="#000"/>
<rect x="486.60" y="1989.20" width="10.4" height="10.4" fill="#000"/>
<rect x="489.60" y="1954.50" width="10.4" height="10.4" fill="#000"/>
<rect x="494.80" y="2093.40" width="10.4" height="10.4" fill="#000"/>
<g transform="translate(181.61,2273.00) scale(1.0034,1)"><text x="0.00" y="0.00" font-size="32.00" fill="#000" xml:space="preserve">Inoculum load ( log</text><text x="270.38" y="7.04" font-size="21.76" fill="#000" xml:space="preserve">10</text><text x="294.59" y="0.00" font-size="32.00" fill="#000" xml:space="preserve"> )</text></g>
<line x1="796.80" y1="1844.30" x2="824.30" y2="1844.30" stroke="#e8403f" stroke-width="1.8" />
<circle cx="810.55" cy="1844.30" r="5.60" fill="#e8403f" stroke="none" stroke-width="0"/>
<line x1="796.80" y1="1879.40" x2="824.30" y2="1879.40" stroke="#000" stroke-width="1.8" />
<rect x="805.15" y="1874.00" width="10.8" height="10.8" fill="#000"/>
<g transform="translate(839.29,1855.40) scale(1.0736,1)"><text x="0.00" y="0.00" font-size="31.50" fill="#000" xml:space="preserve">Female, </text><text x="122.54" y="0.00" font-size="31.50" font-style="italic" fill="#000" xml:space="preserve">P</text><text x="143.55" y="0.00" font-size="31.50" fill="#000" xml:space="preserve"> &lt; 0.0001, r = 0.90</text></g>
<g transform="translate(839.43,1890.50) scale(1.0198,1)"><text x="0.00" y="0.00" font-size="31.50" fill="#000" xml:space="preserve">Male, </text><text x="85.78" y="0.00" font-size="31.50" font-style="italic" fill="#000" xml:space="preserve">P</text><text x="106.79" y="0.00" font-size="31.50" fill="#000" xml:space="preserve"> = 0.0002, r = 0.81</text></g>
<text transform="translate(780.39,2225.34) rotate(-90)" x="0" y="0" font-size="32.40" font-style="normal" fill="#000" textLength="314.82" lengthAdjust="spacingAndGlyphs">Cumulative timespent</text>
<text transform="translate(826.09,2181.69) rotate(-90)" x="0" y="0" font-size="32.40" font-style="normal" fill="#000" textLength="224.80" lengthAdjust="spacingAndGlyphs">on culture (min)</text>
<line x1="897.90" y1="1942.00" x2="897.90" y2="2210.20" stroke="#000" stroke-width="2.3" />
<line x1="888.90" y1="1942.00" x2="897.90" y2="1942.00" stroke="#000" stroke-width="2.3" />
<line x1="888.90" y1="1995.00" x2="897.90" y2="1995.00" stroke="#000" stroke-width="2.3" />
<line x1="888.90" y1="2048.90" x2="897.90" y2="2048.90" stroke="#000" stroke-width="2.3" />
<line x1="888.90" y1="2103.30" x2="897.90" y2="2103.30" stroke="#000" stroke-width="2.3" />
<line x1="888.90" y1="2156.30" x2="897.90" y2="2156.30" stroke="#000" stroke-width="2.3" />
<line x1="888.90" y1="2210.20" x2="897.90" y2="2210.20" stroke="#000" stroke-width="2.3" />
<text x="852.40" y="1953.04" font-size="32.00" fill="#000">40</text>
<text x="852.40" y="2006.04" font-size="32.00" fill="#000">30</text>
<text x="852.40" y="2059.94" font-size="32.00" fill="#000">20</text>
<text x="852.40" y="2114.34" font-size="32.00" fill="#000">10</text>
<text x="870.16" y="2167.34" font-size="32.00" fill="#000">0</text>
<text x="841.68" y="2221.24" font-size="32.00" fill="#000">-10</text>
<line x1="897.90" y1="2156.30" x2="1304.30" y2="2156.30" stroke="#000" stroke-width="2.3" />
<line x1="949.40" y1="2156.30" x2="949.40" y2="2166.30" stroke="#000" stroke-width="2.3" />
<line x1="1050.50" y1="2156.30" x2="1050.50" y2="2166.30" stroke="#000" stroke-width="2.3" />
<line x1="1151.70" y1="2156.30" x2="1151.70" y2="2166.30" stroke="#000" stroke-width="2.3" />
<line x1="1252.80" y1="2156.30" x2="1252.80" y2="2166.30" stroke="#000" stroke-width="2.3" />
<text x="940.44" y="2202.00" font-size="32.00" font-weight="normal" font-style="normal" fill="#000">0</text>
<text x="1041.14" y="2202.00" font-size="32.00" font-weight="normal" font-style="normal" fill="#000">1</text>
<text x="1142.82" y="2202.00" font-size="32.00" font-weight="normal" font-style="normal" fill="#000">2</text>
<text x="1243.92" y="2202.00" font-size="32.00" font-weight="normal" font-style="normal" fill="#000">3</text>
<line x1="949.40" y1="2192.40" x2="1265.80" y2="2033.50" stroke="#000" stroke-width="2.3" />
<line x1="949.40" y1="2160.10" x2="1216.60" y2="2088.90" stroke="#e8403f" stroke-width="2.3" />
<circle cx="949.40" cy="2157.30" r="4.80" fill="#e8403f" stroke="none" stroke-width="0"/>
<circle cx="1034.70" cy="2156.30" r="4.80" fill="#e8403f" stroke="none" stroke-width="0"/>
<circle cx="1072.20" cy="2139.40" r="4.80" fill="#e8403f" stroke="none" stroke-width="0"/>
<circle cx="1082.80" cy="2140.90" r="4.80" fill="#e8403f" stroke="none" stroke-width="0"/>
<circle cx="1077.00" cy="2155.30" r="4.80" fill="#e8403f" stroke="none" stroke-width="0"/>
<circle cx="1123.70" cy="2121.60" r="4.80" fill="#e8403f" stroke="none" stroke-width="0"/>
<circle cx="1104.50" cy="2044.10" r="4.80" fill="#e8403f" stroke="none" stroke-width="0"/>
<circle cx="1174.80" cy="2113.00" r="4.80" fill="#e8403f" stroke="none" stroke-width="0"/>
<circle cx="1176.70" cy="2117.80" r="4.80" fill="#e8403f" stroke="none" stroke-width="0"/>
<circle cx="1195.00" cy="2096.10" r="4.80" fill="#e8403f" stroke="none" stroke-width="0"/>
<circle cx="1200.80" cy="2098.50" r="4.80" fill="#e8403f" stroke="none" stroke-width="0"/>
<circle cx="1214.20" cy="2063.80" r="4.80" fill="#e8403f" stroke="none" stroke-width="0"/>
<rect x="944.20" y="2152.10" width="10.4" height="10.4" fill="#000"/>
<rect x="992.40" y="2152.10" width="10.4" height="10.4" fill="#000"/>
<rect x="1077.60" y="2150.10" width="10.4" height="10.4" fill="#000"/>
<rect x="1118.50" y="2092.30" width="10.4" height="10.4" fill="#000"/>
<rect x="1118.50" y="2135.70" width="10.4" height="10.4" fill="#000"/>
<rect x="1149.80" y="2087.50" width="10.4" height="10.4" fill="#000"/>
<rect x="1189.80" y="2083.70" width="10.4" height="10.4" fill="#000"/>
<rect x="1200.90" y="2102.90" width="10.4" height="10.4" fill="#000"/>
<rect x="1209.00" y="2078.80" width="10.4" height="10.4" fill="#000"/>
<rect x="1211.40" y="2065.90" width="10.4" height="10.4" fill="#000"/>
<rect x="1229.70" y="2026.90" width="10.4" height="10.4" fill="#000"/>
<rect x="1233.10" y="2005.20" width="10.4" height="10.4" fill="#000"/>
<rect x="1252.40" y="1963.30" width="10.4" height="10.4" fill="#000"/>
<rect x="1255.80" y="1985.00" width="10.4" height="10.4" fill="#000"/>
<rect x="1260.60" y="2069.20" width="10.4" height="10.4" fill="#000"/>
<g transform="translate(936.78,2245.40) scale(1.0477,1)"><text x="0.00" y="0.00" font-size="32.00" fill="#000" xml:space="preserve">Inoculum load ( log</text><text x="270.38" y="7.04" font-size="21.76" fill="#000" xml:space="preserve">10</text><text x="294.59" y="0.00" font-size="32.00" fill="#000" xml:space="preserve"> )</text></g>
<text x="601.74" y="2263.20" font-size="32.50" font-weight="normal" font-style="italic" fill="#000" textLength="119.74" lengthAdjust="spacingAndGlyphs">Mp-Tps</text>
<line x1="66.00" y1="2325.60" x2="94.60" y2="2325.60" stroke="#e8403f" stroke-width="1.8" />
<circle cx="80.30" cy="2325.60" r="5.60" fill="#e8403f" stroke="none" stroke-width="0"/>
<line x1="66.00" y1="2360.30" x2="94.60" y2="2360.30" stroke="#000" stroke-width="1.8" />
<rect x="74.90" y="2354.90" width="10.8" height="10.8" fill="#000"/>
<g transform="translate(109.30,2337.30) scale(1.0712,1)"><text x="0.00" y="0.00" font-size="31.50" fill="#000" xml:space="preserve">Female, </text><text x="122.54" y="0.00" font-size="31.50" font-style="italic" fill="#000" xml:space="preserve">P</text><text x="143.55" y="0.00" font-size="31.50" fill="#000" xml:space="preserve"> &lt; 0.0001, r = 0.99</text></g>
<g transform="translate(109.32,2372.00) scale(1.0651,1)"><text x="0.00" y="0.00" font-size="31.50" fill="#000" xml:space="preserve">Male, </text><text x="85.78" y="0.00" font-size="31.50" font-style="italic" fill="#000" xml:space="preserve">P</text><text x="106.79" y="0.00" font-size="31.50" fill="#000" xml:space="preserve"> &lt; 0.0001, r = 0.99</text></g>
<text transform="translate(69.09,2693.85) rotate(-90)" x="0" y="0" font-size="32.40" font-style="normal" fill="#000" textLength="294.75" lengthAdjust="spacingAndGlyphs">The number of visits</text>
<line x1="135.40" y1="2418.40" x2="135.40" y2="2688.80" stroke="#000" stroke-width="2.3" />
<line x1="126.40" y1="2418.40" x2="135.40" y2="2418.40" stroke="#000" stroke-width="2.3" />
<line x1="126.40" y1="2508.70" x2="135.40" y2="2508.70" stroke="#000" stroke-width="2.3" />
<line x1="126.40" y1="2599.00" x2="135.40" y2="2599.00" stroke="#000" stroke-width="2.3" />
<line x1="126.40" y1="2688.80" x2="135.40" y2="2688.80" stroke="#000" stroke-width="2.3" />
<text x="87.10" y="2429.44" font-size="32.00" fill="#000">10</text>
<text x="105.02" y="2519.58" font-size="32.00" fill="#000">5</text>
<text x="104.86" y="2610.04" font-size="32.00" fill="#000">0</text>
<text x="94.30" y="2699.68" font-size="32.00" fill="#000">-5</text>
<line x1="123.70" y1="2599.00" x2="538.20" y2="2599.00" stroke="#000" stroke-width="2.3" />
<line x1="192.30" y1="2599.00" x2="192.30" y2="2606.00" stroke="#000" stroke-width="2.3" />
<line x1="307.30" y1="2599.00" x2="307.30" y2="2606.00" stroke="#000" stroke-width="2.3" />
<line x1="422.30" y1="2599.00" x2="422.30" y2="2606.00" stroke="#000" stroke-width="2.3" />
<line x1="537.30" y1="2599.00" x2="537.30" y2="2606.00" stroke="#000" stroke-width="2.3" />
<text x="183.34" y="2642.40" font-size="32.00" font-weight="normal" font-style="normal" fill="#000">0</text>
<text x="297.94" y="2642.40" font-size="32.00" font-weight="normal" font-style="normal" fill="#000">1</text>
<text x="413.42" y="2642.40" font-size="32.00" font-weight="normal" font-style="normal" fill="#000">2</text>
<text x="528.42" y="2642.40" font-size="32.00" font-weight="normal" font-style="normal" fill="#000">3</text>
<line x1="192.30" y1="2599.00" x2="470.90" y2="2508.70" stroke="#000" stroke-width="2.3" />
<line x1="192.30" y1="2599.00" x2="449.20" y2="2544.30" stroke="#e8403f" stroke-width="2.3" />
<circle cx="226.60" cy="2580.80" r="4.80" fill="#e8403f" stroke="none" stroke-width="0"/>
<circle cx="289.90" cy="2580.80" r="4.80" fill="#e8403f" stroke="none" stroke-width="0"/>
<circle cx="360.20" cy="2563.00" r="4.80" fill="#e8403f" stroke="none" stroke-width="0"/>
<circle cx="403.60" cy="2563.00" r="4.80" fill="#e8403f" stroke="none" stroke-width="0"/>
<circle cx="443.60" cy="2544.70" r="4.80" fill="#e8403f" stroke="none" stroke-width="0"/>
<circle cx="447.00" cy="2544.70" r="4.80" fill="#e8403f" stroke="none" stroke-width="0"/>
<rect x="187.10" y="2593.80" width="10.4" height="10.4" fill="#000"/>
<rect x="241.30" y="2575.60" width="10.4" height="10.4" fill="#000"/>
<rect x="328.10" y="2557.80" width="10.4" height="10.4" fill="#000"/>
<rect x="364.60" y="2539.50" width="10.4" height="10.4" fill="#000"/>
<rect x="405.00" y="2539.50" width="10.4" height="10.4" fill="#000"/>
<rect x="454.90" y="2467.90" width="10.4" height="10.4" fill="#000"/>
<rect x="465.70" y="2521.70" width="10.4" height="10.4" fill="#000"/>
<rect x="187.10" y="2593.80" width="10.4" height="10.4" fill="#000"/>
<g transform="translate(172.81,2686.70) scale(1.0387,1)"><text x="0.00" y="0.00" font-size="32.00" fill="#000" xml:space="preserve">Inoculum load ( log</text><text x="270.38" y="7.04" font-size="21.76" fill="#000" xml:space="preserve">10</text><text x="294.59" y="0.00" font-size="32.00" fill="#000" xml:space="preserve"> )</text></g>
<line x1="802.20" y1="2309.70" x2="833.20" y2="2309.70" stroke="#e8403f" stroke-width="1.8" />
<circle cx="817.70" cy="2309.70" r="5.60" fill="#e8403f" stroke="none" stroke-width="0"/>
<line x1="802.20" y1="2340.70" x2="833.20" y2="2340.70" stroke="#000" stroke-width="1.8" />
<rect x="812.30" y="2335.30" width="10.8" height="10.8" fill="#000"/>
<g transform="translate(844.29,2320.90) scale(1.0363,1)"><text x="0.00" y="0.00" font-size="31.50" fill="#000" xml:space="preserve">Female, </text><text x="122.54" y="0.00" font-size="31.50" font-style="italic" fill="#000" xml:space="preserve">P</text><text x="143.55" y="0.00" font-size="31.50" fill="#000" xml:space="preserve"> = 0.0002, r = 0.88</text></g>
<g transform="translate(844.29,2354.40) scale(1.0340,1)"><text x="0.00" y="0.00" font-size="31.50" fill="#000" xml:space="preserve">Male, </text><text x="85.78" y="0.00" font-size="31.50" font-style="italic" fill="#000" xml:space="preserve">P</text><text x="106.79" y="0.00" font-size="31.50" fill="#000" xml:space="preserve"> &lt; 0.0001, r = 0.99</text></g>
<text transform="translate(790.84,2703.68) rotate(-90)" x="0" y="0" font-size="31.50" font-style="normal" fill="#000" textLength="313.55" lengthAdjust="spacingAndGlyphs">Cumulative time spent</text>
<text transform="translate(831.24,2658.67) rotate(-90)" x="0" y="0" font-size="31.50" font-style="normal" fill="#000" textLength="220.64" lengthAdjust="spacingAndGlyphs">on culture (min)</text>
<line x1="889.10" y1="2424.50" x2="889.10" y2="2685.30" stroke="#000" stroke-width="2.3" />
<line x1="880.10" y1="2424.50" x2="889.10" y2="2424.50" stroke="#000" stroke-width="2.3" />
<line x1="880.10" y1="2511.50" x2="889.10" y2="2511.50" stroke="#000" stroke-width="2.3" />
<line x1="880.10" y1="2598.40" x2="889.10" y2="2598.40" stroke="#000" stroke-width="2.3" />
<line x1="880.10" y1="2685.30" x2="889.10" y2="2685.30" stroke="#000" stroke-width="2.3" />
<text x="842.30" y="2435.54" font-size="32.00" fill="#000">10</text>
<text x="860.22" y="2522.38" font-size="32.00" fill="#000">5</text>
<text x="860.06" y="2609.44" font-size="32.00" fill="#000">0</text>
<text x="849.50" y="2696.18" font-size="32.00" fill="#000">-5</text>
<line x1="889.10" y1="2598.40" x2="1280.30" y2="2598.40" stroke="#000" stroke-width="2.3" />
<line x1="945.00" y1="2598.40" x2="945.00" y2="2609.40" stroke="#000" stroke-width="2.3" />
<line x1="1056.70" y1="2598.40" x2="1056.70" y2="2609.40" stroke="#000" stroke-width="2.3" />
<line x1="1167.30" y1="2598.40" x2="1167.30" y2="2609.40" stroke="#000" stroke-width="2.3" />
<line x1="1279.00" y1="2598.40" x2="1279.00" y2="2609.40" stroke="#000" stroke-width="2.3" />
<text x="936.04" y="2641.90" font-size="32.00" font-weight="normal" font-style="normal" fill="#000">0</text>
<text x="1047.34" y="2641.90" font-size="32.00" font-weight="normal" font-style="normal" fill="#000">1</text>
<text x="1158.42" y="2641.90" font-size="32.00" font-weight="normal" font-style="normal" fill="#000">2</text>
<text x="1270.12" y="2641.90" font-size="32.00" font-weight="normal" font-style="normal" fill="#000">3</text>
<line x1="945.00" y1="2602.80" x2="1213.20" y2="2530.10" stroke="#000" stroke-width="2.3" />
<line x1="957.40" y1="2601.50" x2="1190.30" y2="2513.30" stroke="#e8403f" stroke-width="2.3" />
<circle cx="979.10" cy="2595.30" r="4.80" fill="#e8403f" stroke="none" stroke-width="0"/>
<circle cx="1039.40" cy="2589.10" r="4.80" fill="#e8403f" stroke="none" stroke-width="0"/>
<circle cx="1107.70" cy="2598.40" r="4.80" fill="#e8403f" stroke="none" stroke-width="0"/>
<circle cx="1149.90" cy="2545.60" r="4.80" fill="#e8403f" stroke="none" stroke-width="0"/>
<circle cx="1187.10" cy="2491.00" r="4.80" fill="#e8403f" stroke="none" stroke-width="0"/>
<circle cx="1191.50" cy="2479.20" r="4.80" fill="#e8403f" stroke="none" stroke-width="0"/>
<rect x="939.80" y="2593.20" width="10.4" height="10.4" fill="#000"/>
<rect x="992.60" y="2583.90" width="10.4" height="10.4" fill="#000"/>
<rect x="992.60" y="2593.20" width="10.4" height="10.4" fill="#000"/>
<rect x="1076.40" y="2565.30" width="10.4" height="10.4" fill="#000"/>
<rect x="1076.40" y="2574.60" width="10.4" height="10.4" fill="#000"/>
<rect x="1111.80" y="2557.80" width="10.4" height="10.4" fill="#000"/>
<rect x="1149.60" y="2555.30" width="10.4" height="10.4" fill="#000"/>
<rect x="1198.70" y="2483.30" width="10.4" height="10.4" fill="#000"/>
<rect x="1208.60" y="2539.20" width="10.4" height="10.4" fill="#000"/>
<rect x="939.80" y="2593.20" width="10.4" height="10.4" fill="#000"/>
<g transform="translate(926.49,2685.30) scale(1.0102,1)"><text x="0.00" y="0.00" font-size="32.00" fill="#000" xml:space="preserve">Inoculum load ( log</text><text x="270.38" y="7.04" font-size="21.76" fill="#000" xml:space="preserve">10</text><text x="294.59" y="0.00" font-size="32.00" fill="#000" xml:space="preserve"> )</text></g>
<text x="633.43" y="2715.30" font-size="34.00" font-weight="normal" font-style="normal" fill="#000" textLength="54.06" lengthAdjust="spacingAndGlyphs">WT</text>
</svg>
</body></html>
